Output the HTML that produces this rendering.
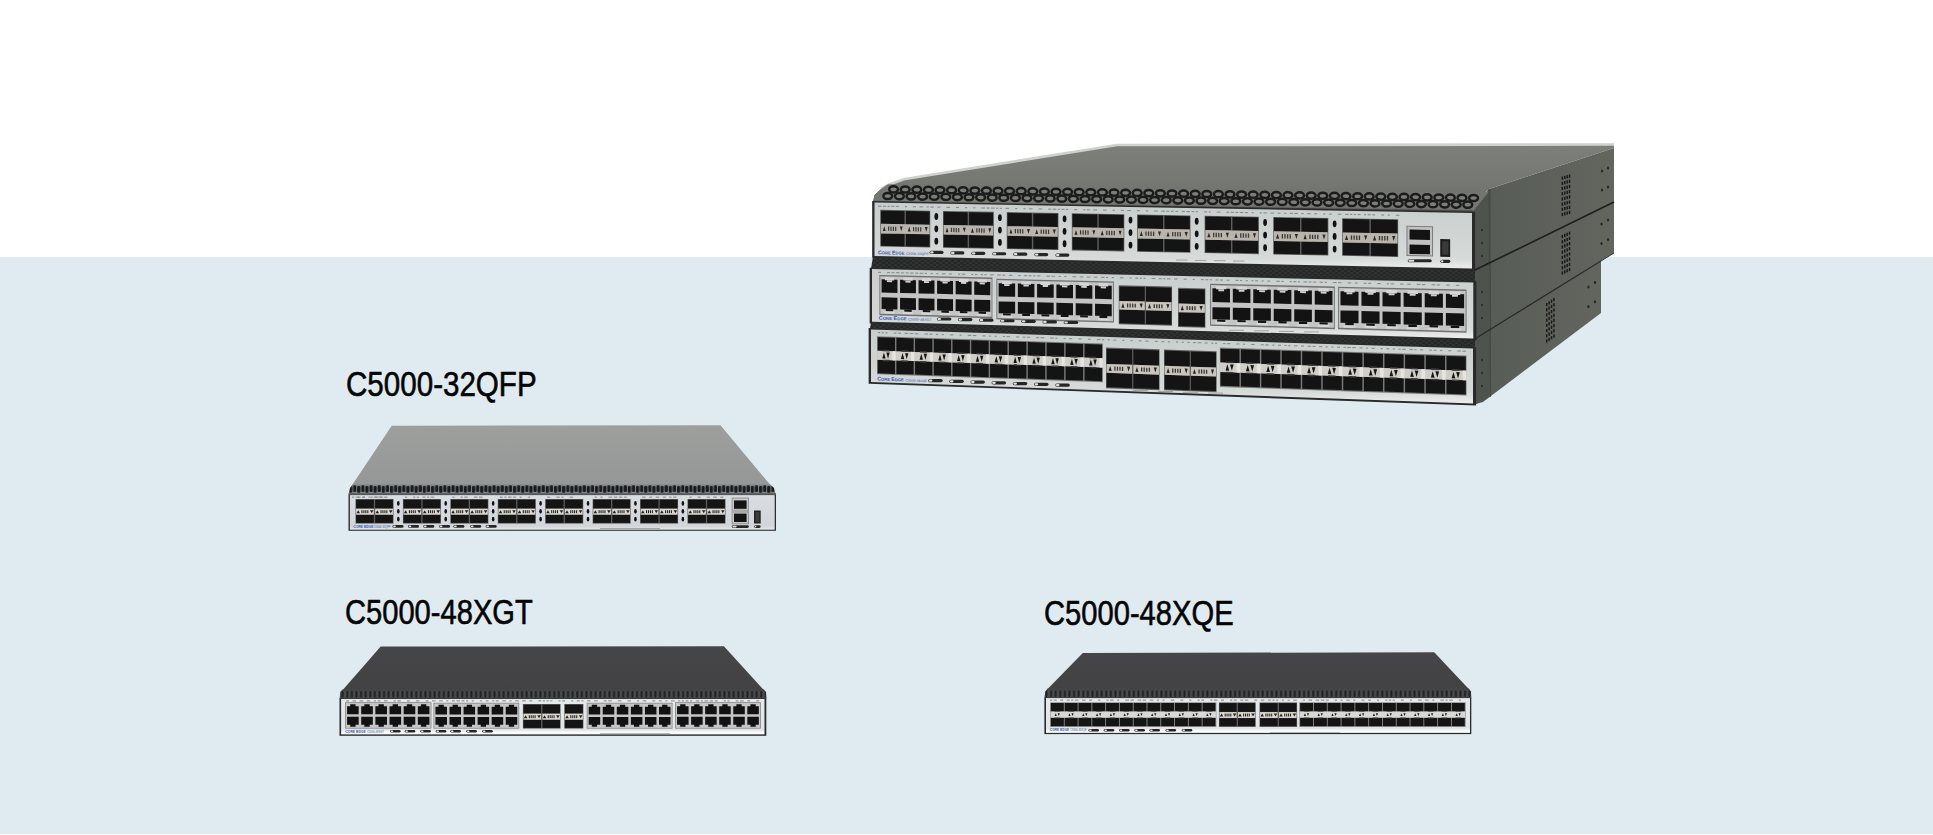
<!DOCTYPE html>
<html><head><meta charset="utf-8"><title>C5000 Series</title>
<style>
html,body{margin:0;padding:0;}
body{width:1933px;height:835px;overflow:hidden;position:relative;background:#ffffff;font-family:"Liberation Sans",sans-serif;}
.band{position:absolute;left:0;top:257px;width:1933px;height:577px;background:#e0ebf1;}
.lbl{position:absolute;color:#050505;font-size:34.5px;line-height:1;white-space:nowrap;transform-origin:0 0;-webkit-text-stroke:0.6px #050505;}
</style></head><body>
<div class="band"></div>
<svg width="1933" height="835" viewBox="0 0 1933 835" style="position:absolute;left:0;top:0"><defs>
<linearGradient id="gTopA" x1="0" y1="0" x2="0" y2="1"><stop offset="0" stop-color="#9d9f9d"/><stop offset="1" stop-color="#959897"/></linearGradient>
<linearGradient id="gTopB" x1="0" y1="0" x2="0" y2="1"><stop offset="0" stop-color="#464549"/><stop offset="1" stop-color="#424244"/></linearGradient>
<linearGradient id="gFront" x1="0" y1="0" x2="0" y2="1"><stop offset="0" stop-color="#d9dde1"/><stop offset="0.9" stop-color="#d2d6da"/><stop offset="1" stop-color="#e6e9ec"/></linearGradient>
<linearGradient id="gFrontW" x1="0" y1="0" x2="0" y2="1"><stop offset="0" stop-color="#e6e9ec"/><stop offset="0.88" stop-color="#e2e5e8"/><stop offset="0.94" stop-color="#fbfcfc"/><stop offset="1" stop-color="#f4f5f6"/></linearGradient>
<linearGradient id="gFrontS" x1="0" y1="0" x2="0" y2="1"><stop offset="0" stop-color="#c8cecd"/><stop offset="0.85" stop-color="#d6dad9"/><stop offset="1" stop-color="#eceeed"/></linearGradient>
<linearGradient id="gStackTop" x1="0" y1="0" x2="0" y2="1"><stop offset="0" stop-color="#7d7f7b"/><stop offset="0.6" stop-color="#767874"/><stop offset="1" stop-color="#6c6e6a"/></linearGradient>
<linearGradient id="gSide" x1="0" y1="0" x2="1" y2="0"><stop offset="0" stop-color="#575b55"/><stop offset="1" stop-color="#62665f"/></linearGradient>
<pattern id="pVentA" width="8.2" height="10" patternUnits="userSpaceOnUse" x="0" y="484"><rect width="8.2" height="10" fill="#7c8083"/><rect x="0.5" y="1.3" width="3.1" height="6.8" rx="1.4" fill="#181a1b"/><rect x="4.6" y="2.0" width="3.1" height="6.8" rx="1.4" fill="#181a1b"/></pattern>
<pattern id="pVentB" width="4.6" height="9.2" patternUnits="userSpaceOnUse" x="0" y="689.4"><rect width="4.6" height="9.2" fill="#3f4142"/><rect x="0.8" y="1.0" width="2.9" height="7.8" rx="1.45" fill="#1d1f20" stroke="#606264" stroke-width="0.6"/></pattern>
<pattern id="pVentC" width="4.6" height="9.2" patternUnits="userSpaceOnUse" x="0" y="688.8"><rect width="4.6" height="9.2" fill="#3f4142"/><rect x="0.8" y="1.0" width="2.9" height="7.8" rx="1.45" fill="#1d1f20" stroke="#606264" stroke-width="0.6"/></pattern>
<pattern id="pCarbon" width="6" height="4" patternUnits="userSpaceOnUse"><rect width="6" height="4" fill="#262727"/><rect x="0" y="0" width="3" height="2" fill="#303131"/><rect x="3" y="2" width="3" height="2" fill="#303131"/></pattern>
</defs><polygon points="391.7,425.8 720.5,425.3 770,484.6 352.5,484.6" fill="url(#gTopA)"/>
<polygon points="352.5,484.2 770,484.2 774,488 775.8,494.8 348.6,494.8 350,488" fill="url(#pVentA)"/>
<rect x="348.5" y="493.2" width="427.5" height="1.5" fill="#5c6063"/>
<rect x="348.5" y="494.6" width="427.5" height="36.2" fill="#2e2f2f"/>
<rect x="349.9" y="495.1" width="424.8" height="34.6" fill="url(#gFront)"/>
<rect x="355.5" y="499" width="38" height="24.6" fill="#5e5e5e"/>
<rect x="356.1" y="499.7" width="17.75" height="8.82" fill="#151515"/>
<rect x="356.1" y="514.82" width="17.75" height="8.08" fill="#151515"/>
<rect x="356.1" y="508.72" width="17.75" height="5.9" fill="#dcd8cf"/>
<polygon points="356.46,513.14 360,513.14 358.23,510.19" fill="#222"/>
<polygon points="369.95,510.19 373.49,510.19 371.72,513.14" fill="#222"/>
<rect x="361.43" y="510.19" width="1.06" height="2.95" fill="#222"/>
<rect x="363.38" y="510.19" width="1.06" height="2.95" fill="#222"/>
<rect x="365.33" y="510.19" width="1.06" height="2.95" fill="#222"/>
<rect x="367.28" y="510.19" width="1.06" height="2.95" fill="#222"/>
<rect x="375.15" y="499.7" width="17.75" height="8.82" fill="#151515"/>
<rect x="375.15" y="514.82" width="17.75" height="8.08" fill="#151515"/>
<rect x="375.15" y="508.72" width="17.75" height="5.9" fill="#dcd8cf"/>
<polygon points="375.51,513.14 379.05,513.14 377.28,510.19" fill="#222"/>
<polygon points="389,510.19 392.54,510.19 390.77,513.14" fill="#222"/>
<rect x="380.48" y="510.19" width="1.06" height="2.95" fill="#222"/>
<rect x="382.43" y="510.19" width="1.06" height="2.95" fill="#222"/>
<rect x="384.38" y="510.19" width="1.06" height="2.95" fill="#222"/>
<rect x="386.33" y="510.19" width="1.06" height="2.95" fill="#222"/>
<ellipse cx="398.3" cy="503.4" rx="1.3" ry="2.4" fill="#111"/>
<ellipse cx="398.3" cy="511.3" rx="1.3" ry="2.4" fill="#111"/>
<ellipse cx="398.3" cy="519.2" rx="1.3" ry="2.4" fill="#111"/>
<rect x="402.93" y="499" width="38" height="24.6" fill="#5e5e5e"/>
<rect x="403.53" y="499.7" width="17.75" height="8.82" fill="#151515"/>
<rect x="403.53" y="514.82" width="17.75" height="8.08" fill="#151515"/>
<rect x="403.53" y="508.72" width="17.75" height="5.9" fill="#dcd8cf"/>
<polygon points="403.89,513.14 407.43,513.14 405.66,510.19" fill="#222"/>
<polygon points="417.38,510.19 420.92,510.19 419.15,513.14" fill="#222"/>
<rect x="408.86" y="510.19" width="1.06" height="2.95" fill="#222"/>
<rect x="410.81" y="510.19" width="1.06" height="2.95" fill="#222"/>
<rect x="412.76" y="510.19" width="1.06" height="2.95" fill="#222"/>
<rect x="414.71" y="510.19" width="1.06" height="2.95" fill="#222"/>
<rect x="422.58" y="499.7" width="17.75" height="8.82" fill="#151515"/>
<rect x="422.58" y="514.82" width="17.75" height="8.08" fill="#151515"/>
<rect x="422.58" y="508.72" width="17.75" height="5.9" fill="#dcd8cf"/>
<polygon points="422.94,513.14 426.48,513.14 424.71,510.19" fill="#222"/>
<polygon points="436.43,510.19 439.97,510.19 438.2,513.14" fill="#222"/>
<rect x="427.91" y="510.19" width="1.06" height="2.95" fill="#222"/>
<rect x="429.86" y="510.19" width="1.06" height="2.95" fill="#222"/>
<rect x="431.81" y="510.19" width="1.06" height="2.95" fill="#222"/>
<rect x="433.76" y="510.19" width="1.06" height="2.95" fill="#222"/>
<ellipse cx="445.73" cy="503.4" rx="1.3" ry="2.4" fill="#111"/>
<ellipse cx="445.73" cy="511.3" rx="1.3" ry="2.4" fill="#111"/>
<ellipse cx="445.73" cy="519.2" rx="1.3" ry="2.4" fill="#111"/>
<rect x="450.36" y="499" width="38" height="24.6" fill="#5e5e5e"/>
<rect x="450.96" y="499.7" width="17.75" height="8.82" fill="#151515"/>
<rect x="450.96" y="514.82" width="17.75" height="8.08" fill="#151515"/>
<rect x="450.96" y="508.72" width="17.75" height="5.9" fill="#dcd8cf"/>
<polygon points="451.32,513.14 454.86,513.14 453.09,510.19" fill="#222"/>
<polygon points="464.81,510.19 468.35,510.19 466.58,513.14" fill="#222"/>
<rect x="456.29" y="510.19" width="1.06" height="2.95" fill="#222"/>
<rect x="458.24" y="510.19" width="1.06" height="2.95" fill="#222"/>
<rect x="460.19" y="510.19" width="1.06" height="2.95" fill="#222"/>
<rect x="462.14" y="510.19" width="1.06" height="2.95" fill="#222"/>
<rect x="470.01" y="499.7" width="17.75" height="8.82" fill="#151515"/>
<rect x="470.01" y="514.82" width="17.75" height="8.08" fill="#151515"/>
<rect x="470.01" y="508.72" width="17.75" height="5.9" fill="#dcd8cf"/>
<polygon points="470.37,513.14 473.91,513.14 472.14,510.19" fill="#222"/>
<polygon points="483.86,510.19 487.4,510.19 485.63,513.14" fill="#222"/>
<rect x="475.34" y="510.19" width="1.06" height="2.95" fill="#222"/>
<rect x="477.29" y="510.19" width="1.06" height="2.95" fill="#222"/>
<rect x="479.24" y="510.19" width="1.06" height="2.95" fill="#222"/>
<rect x="481.19" y="510.19" width="1.06" height="2.95" fill="#222"/>
<ellipse cx="493.16" cy="503.4" rx="1.3" ry="2.4" fill="#111"/>
<ellipse cx="493.16" cy="511.3" rx="1.3" ry="2.4" fill="#111"/>
<ellipse cx="493.16" cy="519.2" rx="1.3" ry="2.4" fill="#111"/>
<rect x="497.79" y="499" width="38" height="24.6" fill="#5e5e5e"/>
<rect x="498.39" y="499.7" width="17.75" height="8.82" fill="#151515"/>
<rect x="498.39" y="514.82" width="17.75" height="8.08" fill="#151515"/>
<rect x="498.39" y="508.72" width="17.75" height="5.9" fill="#dcd8cf"/>
<polygon points="498.75,513.14 502.29,513.14 500.52,510.19" fill="#222"/>
<polygon points="512.24,510.19 515.78,510.19 514.01,513.14" fill="#222"/>
<rect x="503.71" y="510.19" width="1.06" height="2.95" fill="#222"/>
<rect x="505.67" y="510.19" width="1.06" height="2.95" fill="#222"/>
<rect x="507.62" y="510.19" width="1.06" height="2.95" fill="#222"/>
<rect x="509.57" y="510.19" width="1.06" height="2.95" fill="#222"/>
<rect x="517.44" y="499.7" width="17.75" height="8.82" fill="#151515"/>
<rect x="517.44" y="514.82" width="17.75" height="8.08" fill="#151515"/>
<rect x="517.44" y="508.72" width="17.75" height="5.9" fill="#dcd8cf"/>
<polygon points="517.8,513.14 521.34,513.14 519.57,510.19" fill="#222"/>
<polygon points="531.29,510.19 534.83,510.19 533.06,513.14" fill="#222"/>
<rect x="522.76" y="510.19" width="1.06" height="2.95" fill="#222"/>
<rect x="524.72" y="510.19" width="1.06" height="2.95" fill="#222"/>
<rect x="526.67" y="510.19" width="1.06" height="2.95" fill="#222"/>
<rect x="528.62" y="510.19" width="1.06" height="2.95" fill="#222"/>
<ellipse cx="540.59" cy="503.4" rx="1.3" ry="2.4" fill="#111"/>
<ellipse cx="540.59" cy="511.3" rx="1.3" ry="2.4" fill="#111"/>
<ellipse cx="540.59" cy="519.2" rx="1.3" ry="2.4" fill="#111"/>
<rect x="545.22" y="499" width="38" height="24.6" fill="#5e5e5e"/>
<rect x="545.82" y="499.7" width="17.75" height="8.82" fill="#151515"/>
<rect x="545.82" y="514.82" width="17.75" height="8.08" fill="#151515"/>
<rect x="545.82" y="508.72" width="17.75" height="5.9" fill="#dcd8cf"/>
<polygon points="546.18,513.14 549.72,513.14 547.95,510.19" fill="#222"/>
<polygon points="559.67,510.19 563.21,510.19 561.44,513.14" fill="#222"/>
<rect x="551.15" y="510.19" width="1.06" height="2.95" fill="#222"/>
<rect x="553.1" y="510.19" width="1.06" height="2.95" fill="#222"/>
<rect x="555.05" y="510.19" width="1.06" height="2.95" fill="#222"/>
<rect x="557" y="510.19" width="1.06" height="2.95" fill="#222"/>
<rect x="564.87" y="499.7" width="17.75" height="8.82" fill="#151515"/>
<rect x="564.87" y="514.82" width="17.75" height="8.08" fill="#151515"/>
<rect x="564.87" y="508.72" width="17.75" height="5.9" fill="#dcd8cf"/>
<polygon points="565.23,513.14 568.77,513.14 567,510.19" fill="#222"/>
<polygon points="578.72,510.19 582.26,510.19 580.49,513.14" fill="#222"/>
<rect x="570.2" y="510.19" width="1.06" height="2.95" fill="#222"/>
<rect x="572.15" y="510.19" width="1.06" height="2.95" fill="#222"/>
<rect x="574.1" y="510.19" width="1.06" height="2.95" fill="#222"/>
<rect x="576.05" y="510.19" width="1.06" height="2.95" fill="#222"/>
<ellipse cx="588.02" cy="503.4" rx="1.3" ry="2.4" fill="#111"/>
<ellipse cx="588.02" cy="511.3" rx="1.3" ry="2.4" fill="#111"/>
<ellipse cx="588.02" cy="519.2" rx="1.3" ry="2.4" fill="#111"/>
<rect x="592.65" y="499" width="38" height="24.6" fill="#5e5e5e"/>
<rect x="593.25" y="499.7" width="17.75" height="8.82" fill="#151515"/>
<rect x="593.25" y="514.82" width="17.75" height="8.08" fill="#151515"/>
<rect x="593.25" y="508.72" width="17.75" height="5.9" fill="#dcd8cf"/>
<polygon points="593.61,513.14 597.15,513.14 595.38,510.19" fill="#222"/>
<polygon points="607.1,510.19 610.64,510.19 608.87,513.14" fill="#222"/>
<rect x="598.58" y="510.19" width="1.06" height="2.95" fill="#222"/>
<rect x="600.53" y="510.19" width="1.06" height="2.95" fill="#222"/>
<rect x="602.48" y="510.19" width="1.06" height="2.95" fill="#222"/>
<rect x="604.43" y="510.19" width="1.06" height="2.95" fill="#222"/>
<rect x="612.3" y="499.7" width="17.75" height="8.82" fill="#151515"/>
<rect x="612.3" y="514.82" width="17.75" height="8.08" fill="#151515"/>
<rect x="612.3" y="508.72" width="17.75" height="5.9" fill="#dcd8cf"/>
<polygon points="612.66,513.14 616.2,513.14 614.43,510.19" fill="#222"/>
<polygon points="626.15,510.19 629.69,510.19 627.92,513.14" fill="#222"/>
<rect x="617.62" y="510.19" width="1.06" height="2.95" fill="#222"/>
<rect x="619.58" y="510.19" width="1.06" height="2.95" fill="#222"/>
<rect x="621.53" y="510.19" width="1.06" height="2.95" fill="#222"/>
<rect x="623.48" y="510.19" width="1.06" height="2.95" fill="#222"/>
<ellipse cx="635.45" cy="503.4" rx="1.3" ry="2.4" fill="#111"/>
<ellipse cx="635.45" cy="511.3" rx="1.3" ry="2.4" fill="#111"/>
<ellipse cx="635.45" cy="519.2" rx="1.3" ry="2.4" fill="#111"/>
<rect x="640.08" y="499" width="38" height="24.6" fill="#5e5e5e"/>
<rect x="640.68" y="499.7" width="17.75" height="8.82" fill="#151515"/>
<rect x="640.68" y="514.82" width="17.75" height="8.08" fill="#151515"/>
<rect x="640.68" y="508.72" width="17.75" height="5.9" fill="#dcd8cf"/>
<polygon points="641.04,513.14 644.58,513.14 642.81,510.19" fill="#222"/>
<polygon points="654.53,510.19 658.07,510.19 656.3,513.14" fill="#222"/>
<rect x="646" y="510.19" width="1.06" height="2.95" fill="#222"/>
<rect x="647.96" y="510.19" width="1.06" height="2.95" fill="#222"/>
<rect x="649.91" y="510.19" width="1.06" height="2.95" fill="#222"/>
<rect x="651.86" y="510.19" width="1.06" height="2.95" fill="#222"/>
<rect x="659.73" y="499.7" width="17.75" height="8.82" fill="#151515"/>
<rect x="659.73" y="514.82" width="17.75" height="8.08" fill="#151515"/>
<rect x="659.73" y="508.72" width="17.75" height="5.9" fill="#dcd8cf"/>
<polygon points="660.09,513.14 663.63,513.14 661.86,510.19" fill="#222"/>
<polygon points="673.58,510.19 677.12,510.19 675.35,513.14" fill="#222"/>
<rect x="665.05" y="510.19" width="1.06" height="2.95" fill="#222"/>
<rect x="667.01" y="510.19" width="1.06" height="2.95" fill="#222"/>
<rect x="668.96" y="510.19" width="1.06" height="2.95" fill="#222"/>
<rect x="670.91" y="510.19" width="1.06" height="2.95" fill="#222"/>
<ellipse cx="682.88" cy="503.4" rx="1.3" ry="2.4" fill="#111"/>
<ellipse cx="682.88" cy="511.3" rx="1.3" ry="2.4" fill="#111"/>
<ellipse cx="682.88" cy="519.2" rx="1.3" ry="2.4" fill="#111"/>
<rect x="687.51" y="499" width="38" height="24.6" fill="#5e5e5e"/>
<rect x="688.11" y="499.7" width="17.75" height="8.82" fill="#151515"/>
<rect x="688.11" y="514.82" width="17.75" height="8.08" fill="#151515"/>
<rect x="688.11" y="508.72" width="17.75" height="5.9" fill="#dcd8cf"/>
<polygon points="688.47,513.14 692.01,513.14 690.24,510.19" fill="#222"/>
<polygon points="701.96,510.19 705.5,510.19 703.73,513.14" fill="#222"/>
<rect x="693.44" y="510.19" width="1.06" height="2.95" fill="#222"/>
<rect x="695.39" y="510.19" width="1.06" height="2.95" fill="#222"/>
<rect x="697.34" y="510.19" width="1.06" height="2.95" fill="#222"/>
<rect x="699.29" y="510.19" width="1.06" height="2.95" fill="#222"/>
<rect x="707.16" y="499.7" width="17.75" height="8.82" fill="#151515"/>
<rect x="707.16" y="514.82" width="17.75" height="8.08" fill="#151515"/>
<rect x="707.16" y="508.72" width="17.75" height="5.9" fill="#dcd8cf"/>
<polygon points="707.52,513.14 711.06,513.14 709.29,510.19" fill="#222"/>
<polygon points="721.01,510.19 724.55,510.19 722.78,513.14" fill="#222"/>
<rect x="712.49" y="510.19" width="1.06" height="2.95" fill="#222"/>
<rect x="714.44" y="510.19" width="1.06" height="2.95" fill="#222"/>
<rect x="716.39" y="510.19" width="1.06" height="2.95" fill="#222"/>
<rect x="718.34" y="510.19" width="1.06" height="2.95" fill="#222"/>
<rect x="731.7" y="497.6" width="17.2" height="26.6" fill="#7e7e7e"/>
<rect x="732.4" y="498.3" width="15.8" height="25.2" fill="#c8c8c8"/>
<rect x="734" y="500.4" width="12.6" height="8.4" fill="#141414"/>
<rect x="734" y="513.6" width="12.6" height="8.4" fill="#141414"/>
<rect x="732.4" y="509.6" width="15.8" height="3.2" fill="#a8a8a8"/>
<rect x="754" y="510.5" width="6.7" height="13" fill="#222"/>
<rect x="755.4" y="512" width="3.9" height="10" fill="#3c3c3c"/>
<rect x="731.8" y="525.3" width="17" height="2.6" fill="#262626" rx="1.3"/>
<rect x="732.4" y="525.8" width="4.25" height="1.6" fill="#dddddd" rx="0.8"/>
<rect x="754.15" y="525.3" width="6.5" height="2.6" fill="#262626" rx="1.3"/>
<rect x="754.75" y="525.8" width="1.62" height="1.6" fill="#dddddd" rx="0.8"/>
<text x="353.3" y="527.8" font-size="4.2" fill="#3558b8" font-family="Liberation Sans" font-weight="bold" textLength="20.0" lengthAdjust="spacingAndGlyphs">C<tspan font-size="3.28">ORE</tspan> E<tspan font-size="3.28">DGE</tspan></text>
<text x="374" y="527.8" font-size="2.60" fill="#3558b8" font-family="Liberation Sans" textLength="16.5" lengthAdjust="spacingAndGlyphs">C5000-32QFP</text>
<rect x="392.5" y="525.1" width="11" height="2.6" fill="#262626" rx="1.3"/>
<rect x="393.1" y="525.6" width="2.75" height="1.6" fill="#dddddd" rx="0.8"/>
<rect x="408" y="525.1" width="11" height="2.6" fill="#262626" rx="1.3"/>
<rect x="408.6" y="525.6" width="2.75" height="1.6" fill="#dddddd" rx="0.8"/>
<rect x="423.3" y="525.1" width="11" height="2.6" fill="#262626" rx="1.3"/>
<rect x="423.9" y="525.6" width="2.75" height="1.6" fill="#dddddd" rx="0.8"/>
<rect x="439.1" y="525.1" width="11" height="2.6" fill="#262626" rx="1.3"/>
<rect x="439.7" y="525.6" width="2.75" height="1.6" fill="#dddddd" rx="0.8"/>
<rect x="453.4" y="525.1" width="11" height="2.6" fill="#262626" rx="1.3"/>
<rect x="454" y="525.6" width="2.75" height="1.6" fill="#dddddd" rx="0.8"/>
<rect x="470.2" y="525.1" width="11" height="2.6" fill="#262626" rx="1.3"/>
<rect x="470.8" y="525.6" width="2.75" height="1.6" fill="#dddddd" rx="0.8"/>
<rect x="485.7" y="525.1" width="11" height="2.6" fill="#262626" rx="1.3"/>
<rect x="486.3" y="525.6" width="2.75" height="1.6" fill="#dddddd" rx="0.8"/>
<polygon points="380.7,646.6 723.9,646.3 764,690.3 342.5,690.3" fill="url(#gTopB)"/>
<polygon points="342.5,689.6 764,689.6 766,692 766.5,698.8 339.6,698.8 340.2,692" fill="url(#pVentB)"/>
<rect x="339.5" y="698.2" width="426.8" height="37.6" fill="#2a2a2a"/>
<rect x="341.1" y="699" width="423.4" height="35.4" fill="url(#gFrontW)"/>
<rect x="345.1" y="702.2" width="86.3" height="26.4" fill="#7c7c7c"/>
<rect x="345.8" y="702.9" width="84.9" height="25" fill="#c6c6c6"/>
<polygon points="347.07,706.15 350.21,706.15 350.21,704.15 355.54,704.15 355.54,706.15 358.68,706.15 358.68,714.15 347.07,714.15" fill="#121212"/>
<polygon points="361.22,706.15 364.36,706.15 364.36,704.15 369.69,704.15 369.69,706.15 372.83,706.15 372.83,714.15 361.22,714.15" fill="#121212"/>
<polygon points="375.37,706.15 378.51,706.15 378.51,704.15 383.84,704.15 383.84,706.15 386.98,706.15 386.98,714.15 375.37,714.15" fill="#121212"/>
<polygon points="389.52,706.15 392.66,706.15 392.66,704.15 397.99,704.15 397.99,706.15 401.13,706.15 401.13,714.15 389.52,714.15" fill="#121212"/>
<polygon points="403.67,706.15 406.81,706.15 406.81,704.15 412.14,704.15 412.14,706.15 415.28,706.15 415.28,714.15 403.67,714.15" fill="#121212"/>
<polygon points="417.82,706.15 420.96,706.15 420.96,704.15 426.29,704.15 426.29,706.15 429.43,706.15 429.43,714.15 417.82,714.15" fill="#121212"/>
<polygon points="347.07,716.65 358.68,716.65 358.68,724.65 355.54,724.65 355.54,726.65 350.21,726.65 350.21,724.65 347.07,724.65" fill="#121212"/>
<polygon points="361.22,716.65 372.83,716.65 372.83,724.65 369.69,724.65 369.69,726.65 364.36,726.65 364.36,724.65 361.22,724.65" fill="#121212"/>
<polygon points="375.37,716.65 386.98,716.65 386.98,724.65 383.84,724.65 383.84,726.65 378.51,726.65 378.51,724.65 375.37,724.65" fill="#121212"/>
<polygon points="389.52,716.65 401.13,716.65 401.13,724.65 397.99,724.65 397.99,726.65 392.66,726.65 392.66,724.65 389.52,724.65" fill="#121212"/>
<polygon points="403.67,716.65 415.28,716.65 415.28,724.65 412.14,724.65 412.14,726.65 406.81,726.65 406.81,724.65 403.67,724.65" fill="#121212"/>
<polygon points="417.82,716.65 429.43,716.65 429.43,724.65 426.29,724.65 426.29,726.65 420.96,726.65 420.96,724.65 417.82,724.65" fill="#121212"/>
<rect x="433.5" y="702.8" width="85.7" height="25.8" fill="#7c7c7c"/>
<rect x="434.2" y="703.5" width="84.3" height="24.4" fill="#c6c6c6"/>
<polygon points="435.46,706.67 438.58,706.67 438.58,704.72 443.87,704.72 443.87,706.67 446.99,706.67 446.99,714.48 435.46,714.48" fill="#121212"/>
<polygon points="449.51,706.67 452.63,706.67 452.63,704.72 457.92,704.72 457.92,706.67 461.04,706.67 461.04,714.48 449.51,714.48" fill="#121212"/>
<polygon points="463.56,706.67 466.68,706.67 466.68,704.72 471.97,704.72 471.97,706.67 475.09,706.67 475.09,714.48 463.56,714.48" fill="#121212"/>
<polygon points="477.61,706.67 480.73,706.67 480.73,704.72 486.02,704.72 486.02,706.67 489.14,706.67 489.14,714.48 477.61,714.48" fill="#121212"/>
<polygon points="491.66,706.67 494.78,706.67 494.78,704.72 500.07,704.72 500.07,706.67 503.19,706.67 503.19,714.48 491.66,714.48" fill="#121212"/>
<polygon points="505.71,706.67 508.83,706.67 508.83,704.72 514.12,704.72 514.12,706.67 517.24,706.67 517.24,714.48 505.71,714.48" fill="#121212"/>
<polygon points="435.46,716.92 446.99,716.92 446.99,724.73 443.87,724.73 443.87,726.68 438.58,726.68 438.58,724.73 435.46,724.73" fill="#121212"/>
<polygon points="449.51,716.92 461.04,716.92 461.04,724.73 457.92,724.73 457.92,726.68 452.63,726.68 452.63,724.73 449.51,724.73" fill="#121212"/>
<polygon points="463.56,716.92 475.09,716.92 475.09,724.73 471.97,724.73 471.97,726.68 466.68,726.68 466.68,724.73 463.56,724.73" fill="#121212"/>
<polygon points="477.61,716.92 489.14,716.92 489.14,724.73 486.02,724.73 486.02,726.68 480.73,726.68 480.73,724.73 477.61,724.73" fill="#121212"/>
<polygon points="491.66,716.92 503.19,716.92 503.19,724.73 500.07,724.73 500.07,726.68 494.78,726.68 494.78,724.73 491.66,724.73" fill="#121212"/>
<polygon points="505.71,716.92 517.24,716.92 517.24,724.73 514.12,724.73 514.12,726.68 508.83,726.68 508.83,724.73 505.71,724.73" fill="#121212"/>
<rect x="522.9" y="704" width="37.7" height="24.6" fill="#5e5e5e"/>
<rect x="523.5" y="704.7" width="17.6" height="8.82" fill="#151515"/>
<rect x="523.5" y="719.82" width="17.6" height="8.08" fill="#151515"/>
<rect x="523.5" y="713.72" width="17.6" height="5.9" fill="#dcd8cf"/>
<polygon points="523.84,718.14 527.38,718.14 525.61,715.19" fill="#222"/>
<polygon points="537.22,715.19 540.76,715.19 538.99,718.14" fill="#222"/>
<rect x="528.78" y="715.19" width="1.06" height="2.95" fill="#222"/>
<rect x="530.72" y="715.19" width="1.06" height="2.95" fill="#222"/>
<rect x="532.65" y="715.19" width="1.06" height="2.95" fill="#222"/>
<rect x="534.59" y="715.19" width="1.06" height="2.95" fill="#222"/>
<rect x="542.4" y="704.7" width="17.6" height="8.82" fill="#151515"/>
<rect x="542.4" y="719.82" width="17.6" height="8.08" fill="#151515"/>
<rect x="542.4" y="713.72" width="17.6" height="5.9" fill="#dcd8cf"/>
<polygon points="542.74,718.14 546.28,718.14 544.51,715.19" fill="#222"/>
<polygon points="556.12,715.19 559.66,715.19 557.89,718.14" fill="#222"/>
<rect x="547.68" y="715.19" width="1.06" height="2.95" fill="#222"/>
<rect x="549.62" y="715.19" width="1.06" height="2.95" fill="#222"/>
<rect x="551.55" y="715.19" width="1.06" height="2.95" fill="#222"/>
<rect x="553.49" y="715.19" width="1.06" height="2.95" fill="#222"/>
<rect x="564.3" y="704" width="19.1" height="24.6" fill="#5e5e5e"/>
<rect x="564.9" y="704.7" width="17.9" height="8.82" fill="#151515"/>
<rect x="564.9" y="719.82" width="17.9" height="8.08" fill="#151515"/>
<rect x="564.9" y="713.72" width="17.9" height="5.9" fill="#dcd8cf"/>
<polygon points="565.28,718.14 568.82,718.14 567.05,715.19" fill="#222"/>
<polygon points="578.88,715.19 582.42,715.19 580.65,718.14" fill="#222"/>
<rect x="570.27" y="715.19" width="1.07" height="2.95" fill="#222"/>
<rect x="572.24" y="715.19" width="1.07" height="2.95" fill="#222"/>
<rect x="574.21" y="715.19" width="1.07" height="2.95" fill="#222"/>
<rect x="576.18" y="715.19" width="1.07" height="2.95" fill="#222"/>
<rect x="586.7" y="702.8" width="85.8" height="25.8" fill="#7c7c7c"/>
<rect x="587.4" y="703.5" width="84.4" height="24.4" fill="#c6c6c6"/>
<polygon points="588.67,706.67 591.78,706.67 591.78,704.72 597.09,704.72 597.09,706.67 600.2,706.67 600.2,714.48 588.67,714.48" fill="#121212"/>
<polygon points="602.73,706.67 605.85,706.67 605.85,704.72 611.15,704.72 611.15,706.67 614.27,706.67 614.27,714.48 602.73,714.48" fill="#121212"/>
<polygon points="616.8,706.67 619.91,706.67 619.91,704.72 625.22,704.72 625.22,706.67 628.33,706.67 628.33,714.48 616.8,714.48" fill="#121212"/>
<polygon points="630.87,706.67 633.98,706.67 633.98,704.72 639.29,704.72 639.29,706.67 642.4,706.67 642.4,714.48 630.87,714.48" fill="#121212"/>
<polygon points="644.93,706.67 648.05,706.67 648.05,704.72 653.35,704.72 653.35,706.67 656.47,706.67 656.47,714.48 644.93,714.48" fill="#121212"/>
<polygon points="659,706.67 662.11,706.67 662.11,704.72 667.42,704.72 667.42,706.67 670.53,706.67 670.53,714.48 659,714.48" fill="#121212"/>
<polygon points="588.67,716.92 600.2,716.92 600.2,724.73 597.09,724.73 597.09,726.68 591.78,726.68 591.78,724.73 588.67,724.73" fill="#121212"/>
<polygon points="602.73,716.92 614.27,716.92 614.27,724.73 611.15,724.73 611.15,726.68 605.85,726.68 605.85,724.73 602.73,724.73" fill="#121212"/>
<polygon points="616.8,716.92 628.33,716.92 628.33,724.73 625.22,724.73 625.22,726.68 619.91,726.68 619.91,724.73 616.8,724.73" fill="#121212"/>
<polygon points="630.87,716.92 642.4,716.92 642.4,724.73 639.29,724.73 639.29,726.68 633.98,726.68 633.98,724.73 630.87,724.73" fill="#121212"/>
<polygon points="644.93,716.92 656.47,716.92 656.47,724.73 653.35,724.73 653.35,726.68 648.05,726.68 648.05,724.73 644.93,724.73" fill="#121212"/>
<polygon points="659,716.92 670.53,716.92 670.53,724.73 667.42,724.73 667.42,726.68 662.11,726.68 662.11,724.73 659,724.73" fill="#121212"/>
<rect x="675.1" y="702.2" width="85.7" height="26.4" fill="#7c7c7c"/>
<rect x="675.8" y="702.9" width="84.3" height="25" fill="#c6c6c6"/>
<polygon points="677.06,706.15 680.18,706.15 680.18,704.15 685.47,704.15 685.47,706.15 688.59,706.15 688.59,714.15 677.06,714.15" fill="#121212"/>
<polygon points="691.11,706.15 694.23,706.15 694.23,704.15 699.52,704.15 699.52,706.15 702.64,706.15 702.64,714.15 691.11,714.15" fill="#121212"/>
<polygon points="705.16,706.15 708.28,706.15 708.28,704.15 713.57,704.15 713.57,706.15 716.69,706.15 716.69,714.15 705.16,714.15" fill="#121212"/>
<polygon points="719.21,706.15 722.33,706.15 722.33,704.15 727.62,704.15 727.62,706.15 730.74,706.15 730.74,714.15 719.21,714.15" fill="#121212"/>
<polygon points="733.26,706.15 736.38,706.15 736.38,704.15 741.67,704.15 741.67,706.15 744.79,706.15 744.79,714.15 733.26,714.15" fill="#121212"/>
<polygon points="747.31,706.15 750.43,706.15 750.43,704.15 755.72,704.15 755.72,706.15 758.84,706.15 758.84,714.15 747.31,714.15" fill="#121212"/>
<polygon points="677.06,716.65 688.59,716.65 688.59,724.65 685.47,724.65 685.47,726.65 680.18,726.65 680.18,724.65 677.06,724.65" fill="#121212"/>
<polygon points="691.11,716.65 702.64,716.65 702.64,724.65 699.52,724.65 699.52,726.65 694.23,726.65 694.23,724.65 691.11,724.65" fill="#121212"/>
<polygon points="705.16,716.65 716.69,716.65 716.69,724.65 713.57,724.65 713.57,726.65 708.28,726.65 708.28,724.65 705.16,724.65" fill="#121212"/>
<polygon points="719.21,716.65 730.74,716.65 730.74,724.65 727.62,724.65 727.62,726.65 722.33,726.65 722.33,724.65 719.21,724.65" fill="#121212"/>
<polygon points="733.26,716.65 744.79,716.65 744.79,724.65 741.67,724.65 741.67,726.65 736.38,726.65 736.38,724.65 733.26,724.65" fill="#121212"/>
<polygon points="747.31,716.65 758.84,716.65 758.84,724.65 755.72,724.65 755.72,726.65 750.43,726.65 750.43,724.65 747.31,724.65" fill="#121212"/>
<text x="345.2" y="732.8" font-size="4.2" fill="#3558b8" font-family="Liberation Sans" font-weight="bold" textLength="20.4" lengthAdjust="spacingAndGlyphs">C<tspan font-size="3.28">ORE</tspan> E<tspan font-size="3.28">DGE</tspan></text>
<text x="366.9" y="732.8" font-size="2.60" fill="#3558b8" font-family="Liberation Sans" textLength="17.1" lengthAdjust="spacingAndGlyphs">C5000-48XGT</text>
<rect x="390.05" y="730" width="10.5" height="2.4" fill="#262626" rx="1.2"/>
<rect x="390.65" y="730.5" width="2.62" height="1.4" fill="#dddddd" rx="0.7"/>
<rect x="404.75" y="730" width="10.5" height="2.4" fill="#262626" rx="1.2"/>
<rect x="405.35" y="730.5" width="2.62" height="1.4" fill="#dddddd" rx="0.7"/>
<rect x="420.35" y="730" width="10.5" height="2.4" fill="#262626" rx="1.2"/>
<rect x="420.95" y="730.5" width="2.62" height="1.4" fill="#dddddd" rx="0.7"/>
<rect x="435.75" y="730" width="10.5" height="2.4" fill="#262626" rx="1.2"/>
<rect x="436.35" y="730.5" width="2.62" height="1.4" fill="#dddddd" rx="0.7"/>
<rect x="450.35" y="730" width="10.5" height="2.4" fill="#262626" rx="1.2"/>
<rect x="450.95" y="730.5" width="2.62" height="1.4" fill="#dddddd" rx="0.7"/>
<rect x="466.35" y="730" width="10.5" height="2.4" fill="#262626" rx="1.2"/>
<rect x="466.95" y="730.5" width="2.62" height="1.4" fill="#dddddd" rx="0.7"/>
<rect x="482.25" y="730" width="10.5" height="2.4" fill="#262626" rx="1.2"/>
<rect x="482.85" y="730.5" width="2.62" height="1.4" fill="#dddddd" rx="0.7"/>
<polygon points="1082.8,653 1434.2,652.3 1468.8,689 1047.6,689" fill="url(#gTopB)"/>
<polygon points="1047.6,688.6 1468.8,688.6 1471,691.5 1471.3,697.8 1044.4,697.8 1045.3,691.5" fill="url(#pVentC)"/>
<rect x="1044.4" y="697.3" width="426.9" height="36.8" fill="#2a2a2a"/>
<rect x="1046" y="698.1" width="424" height="34.8" fill="url(#gFrontW)"/>
<rect x="1050" y="702.3" width="166.4" height="24.6" fill="#8a8a8a"/>
<rect x="1050.95" y="703" width="12.88" height="8.53" fill="#151515"/>
<rect x="1050.95" y="717.67" width="12.88" height="8.52" fill="#151515"/>
<rect x="1064.73" y="703" width="12.88" height="8.53" fill="#151515"/>
<rect x="1064.73" y="717.67" width="12.88" height="8.52" fill="#151515"/>
<rect x="1078.52" y="703" width="12.88" height="8.53" fill="#151515"/>
<rect x="1078.52" y="717.67" width="12.88" height="8.52" fill="#151515"/>
<rect x="1092.3" y="703" width="12.88" height="8.53" fill="#151515"/>
<rect x="1092.3" y="717.67" width="12.88" height="8.52" fill="#151515"/>
<rect x="1106.08" y="703" width="12.88" height="8.53" fill="#151515"/>
<rect x="1106.08" y="717.67" width="12.88" height="8.52" fill="#151515"/>
<rect x="1119.87" y="703" width="12.88" height="8.53" fill="#151515"/>
<rect x="1119.87" y="717.67" width="12.88" height="8.52" fill="#151515"/>
<rect x="1133.65" y="703" width="12.88" height="8.53" fill="#151515"/>
<rect x="1133.65" y="717.67" width="12.88" height="8.52" fill="#151515"/>
<rect x="1147.43" y="703" width="12.88" height="8.53" fill="#151515"/>
<rect x="1147.43" y="717.67" width="12.88" height="8.52" fill="#151515"/>
<rect x="1161.22" y="703" width="12.88" height="8.53" fill="#151515"/>
<rect x="1161.22" y="717.67" width="12.88" height="8.52" fill="#151515"/>
<rect x="1175" y="703" width="12.88" height="8.53" fill="#151515"/>
<rect x="1175" y="717.67" width="12.88" height="8.52" fill="#151515"/>
<rect x="1188.78" y="703" width="12.88" height="8.53" fill="#151515"/>
<rect x="1188.78" y="717.67" width="12.88" height="8.52" fill="#151515"/>
<rect x="1202.57" y="703" width="12.88" height="8.53" fill="#151515"/>
<rect x="1202.57" y="717.67" width="12.88" height="8.52" fill="#151515"/>
<rect x="1050.5" y="711.52" width="165.4" height="6.15" fill="#d8d8d4"/>
<polygon points="1054.63,715.98 1056.84,715.98 1055.74,713.22" fill="#1a1a1a"/>
<polygon points="1057.67,713.22 1059.87,713.22 1058.77,715.98" fill="#1a1a1a"/>
<rect x="1054.63" y="710.92" width="5.51" height="0.9" fill="#555"/>
<rect x="1054.63" y="717.38" width="5.51" height="0.9" fill="#555"/>
<polygon points="1068.42,715.98 1070.62,715.98 1069.52,713.22" fill="#1a1a1a"/>
<polygon points="1071.45,713.22 1073.66,713.22 1072.55,715.98" fill="#1a1a1a"/>
<rect x="1068.42" y="710.92" width="5.51" height="0.9" fill="#555"/>
<rect x="1068.42" y="717.38" width="5.51" height="0.9" fill="#555"/>
<polygon points="1082.2,715.98 1084.41,715.98 1083.3,713.22" fill="#1a1a1a"/>
<polygon points="1085.23,713.22 1087.44,713.22 1086.34,715.98" fill="#1a1a1a"/>
<rect x="1082.2" y="710.92" width="5.51" height="0.9" fill="#555"/>
<rect x="1082.2" y="717.38" width="5.51" height="0.9" fill="#555"/>
<polygon points="1095.98,715.98 1098.19,715.98 1097.09,713.22" fill="#1a1a1a"/>
<polygon points="1099.02,713.22 1101.22,713.22 1100.12,715.98" fill="#1a1a1a"/>
<rect x="1095.98" y="710.92" width="5.51" height="0.9" fill="#555"/>
<rect x="1095.98" y="717.38" width="5.51" height="0.9" fill="#555"/>
<polygon points="1109.77,715.98 1111.97,715.98 1110.87,713.22" fill="#1a1a1a"/>
<polygon points="1112.8,713.22 1115.01,713.22 1113.9,715.98" fill="#1a1a1a"/>
<rect x="1109.77" y="710.92" width="5.51" height="0.9" fill="#555"/>
<rect x="1109.77" y="717.38" width="5.51" height="0.9" fill="#555"/>
<polygon points="1123.55,715.98 1125.76,715.98 1124.65,713.22" fill="#1a1a1a"/>
<polygon points="1126.58,713.22 1128.79,713.22 1127.69,715.98" fill="#1a1a1a"/>
<rect x="1123.55" y="710.92" width="5.51" height="0.9" fill="#555"/>
<rect x="1123.55" y="717.38" width="5.51" height="0.9" fill="#555"/>
<polygon points="1137.34,715.98 1139.54,715.98 1138.44,713.22" fill="#1a1a1a"/>
<polygon points="1140.37,713.22 1142.57,713.22 1141.47,715.98" fill="#1a1a1a"/>
<rect x="1137.34" y="710.92" width="5.51" height="0.9" fill="#555"/>
<rect x="1137.34" y="717.38" width="5.51" height="0.9" fill="#555"/>
<polygon points="1151.12,715.98 1153.32,715.98 1152.22,713.22" fill="#1a1a1a"/>
<polygon points="1154.15,713.22 1156.36,713.22 1155.25,715.98" fill="#1a1a1a"/>
<rect x="1151.12" y="710.92" width="5.51" height="0.9" fill="#555"/>
<rect x="1151.12" y="717.38" width="5.51" height="0.9" fill="#555"/>
<polygon points="1164.9,715.98 1167.11,715.98 1166,713.22" fill="#1a1a1a"/>
<polygon points="1167.93,713.22 1170.14,713.22 1169.04,715.98" fill="#1a1a1a"/>
<rect x="1164.9" y="710.92" width="5.51" height="0.9" fill="#555"/>
<rect x="1164.9" y="717.38" width="5.51" height="0.9" fill="#555"/>
<polygon points="1178.68,715.98 1180.89,715.98 1179.79,713.22" fill="#1a1a1a"/>
<polygon points="1181.72,713.22 1183.92,713.22 1182.82,715.98" fill="#1a1a1a"/>
<rect x="1178.68" y="710.92" width="5.51" height="0.9" fill="#555"/>
<rect x="1178.68" y="717.38" width="5.51" height="0.9" fill="#555"/>
<polygon points="1192.47,715.98 1194.67,715.98 1193.57,713.22" fill="#1a1a1a"/>
<polygon points="1195.5,713.22 1197.71,713.22 1196.6,715.98" fill="#1a1a1a"/>
<rect x="1192.47" y="710.92" width="5.51" height="0.9" fill="#555"/>
<rect x="1192.47" y="717.38" width="5.51" height="0.9" fill="#555"/>
<polygon points="1206.25,715.98 1208.46,715.98 1207.35,713.22" fill="#1a1a1a"/>
<polygon points="1209.28,713.22 1211.49,713.22 1210.39,715.98" fill="#1a1a1a"/>
<rect x="1206.25" y="710.92" width="5.51" height="0.9" fill="#555"/>
<rect x="1206.25" y="717.38" width="5.51" height="0.9" fill="#555"/>
<rect x="1218.9" y="702.4" width="36.8" height="24.5" fill="#5e5e5e"/>
<rect x="1219.5" y="703.1" width="17.15" height="8.78" fill="#151515"/>
<rect x="1219.5" y="718.16" width="17.15" height="8.04" fill="#151515"/>
<rect x="1219.5" y="712.08" width="17.15" height="5.88" fill="#dcd8cf"/>
<polygon points="1219.79,716.49 1223.32,716.49 1221.56,713.55" fill="#222"/>
<polygon points="1232.83,713.55 1236.36,713.55 1234.59,716.49" fill="#222"/>
<rect x="1224.64" y="713.55" width="1.03" height="2.94" fill="#222"/>
<rect x="1226.53" y="713.55" width="1.03" height="2.94" fill="#222"/>
<rect x="1228.42" y="713.55" width="1.03" height="2.94" fill="#222"/>
<rect x="1230.3" y="713.55" width="1.03" height="2.94" fill="#222"/>
<rect x="1237.95" y="703.1" width="17.15" height="8.78" fill="#151515"/>
<rect x="1237.95" y="718.16" width="17.15" height="8.04" fill="#151515"/>
<rect x="1237.95" y="712.08" width="17.15" height="5.88" fill="#dcd8cf"/>
<polygon points="1238.24,716.49 1241.77,716.49 1240.01,713.55" fill="#222"/>
<polygon points="1251.28,713.55 1254.81,713.55 1253.04,716.49" fill="#222"/>
<rect x="1243.1" y="713.55" width="1.03" height="2.94" fill="#222"/>
<rect x="1244.98" y="713.55" width="1.03" height="2.94" fill="#222"/>
<rect x="1246.87" y="713.55" width="1.03" height="2.94" fill="#222"/>
<rect x="1248.75" y="713.55" width="1.03" height="2.94" fill="#222"/>
<rect x="1259.5" y="702.4" width="37.6" height="24.5" fill="#5e5e5e"/>
<rect x="1260.1" y="703.1" width="17.55" height="8.78" fill="#151515"/>
<rect x="1260.1" y="718.16" width="17.55" height="8.04" fill="#151515"/>
<rect x="1260.1" y="712.08" width="17.55" height="5.88" fill="#dcd8cf"/>
<polygon points="1260.44,716.49 1263.97,716.49 1262.21,713.55" fill="#222"/>
<polygon points="1273.78,713.55 1277.31,713.55 1275.54,716.49" fill="#222"/>
<rect x="1265.36" y="713.55" width="1.05" height="2.94" fill="#222"/>
<rect x="1267.3" y="713.55" width="1.05" height="2.94" fill="#222"/>
<rect x="1269.23" y="713.55" width="1.05" height="2.94" fill="#222"/>
<rect x="1271.16" y="713.55" width="1.05" height="2.94" fill="#222"/>
<rect x="1278.95" y="703.1" width="17.55" height="8.78" fill="#151515"/>
<rect x="1278.95" y="718.16" width="17.55" height="8.04" fill="#151515"/>
<rect x="1278.95" y="712.08" width="17.55" height="5.88" fill="#dcd8cf"/>
<polygon points="1279.29,716.49 1282.82,716.49 1281.06,713.55" fill="#222"/>
<polygon points="1292.63,713.55 1296.16,713.55 1294.39,716.49" fill="#222"/>
<rect x="1284.21" y="713.55" width="1.05" height="2.94" fill="#222"/>
<rect x="1286.15" y="713.55" width="1.05" height="2.94" fill="#222"/>
<rect x="1288.08" y="713.55" width="1.05" height="2.94" fill="#222"/>
<rect x="1290.01" y="713.55" width="1.05" height="2.94" fill="#222"/>
<rect x="1299.2" y="702.3" width="166.5" height="24.6" fill="#8a8a8a"/>
<rect x="1300.15" y="703" width="12.89" height="8.53" fill="#151515"/>
<rect x="1300.15" y="717.67" width="12.89" height="8.52" fill="#151515"/>
<rect x="1313.94" y="703" width="12.89" height="8.53" fill="#151515"/>
<rect x="1313.94" y="717.67" width="12.89" height="8.52" fill="#151515"/>
<rect x="1327.73" y="703" width="12.89" height="8.53" fill="#151515"/>
<rect x="1327.73" y="717.67" width="12.89" height="8.52" fill="#151515"/>
<rect x="1341.53" y="703" width="12.89" height="8.53" fill="#151515"/>
<rect x="1341.53" y="717.67" width="12.89" height="8.52" fill="#151515"/>
<rect x="1355.32" y="703" width="12.89" height="8.53" fill="#151515"/>
<rect x="1355.32" y="717.67" width="12.89" height="8.52" fill="#151515"/>
<rect x="1369.11" y="703" width="12.89" height="8.53" fill="#151515"/>
<rect x="1369.11" y="717.67" width="12.89" height="8.52" fill="#151515"/>
<rect x="1382.9" y="703" width="12.89" height="8.53" fill="#151515"/>
<rect x="1382.9" y="717.67" width="12.89" height="8.52" fill="#151515"/>
<rect x="1396.69" y="703" width="12.89" height="8.53" fill="#151515"/>
<rect x="1396.69" y="717.67" width="12.89" height="8.52" fill="#151515"/>
<rect x="1410.48" y="703" width="12.89" height="8.53" fill="#151515"/>
<rect x="1410.48" y="717.67" width="12.89" height="8.52" fill="#151515"/>
<rect x="1424.28" y="703" width="12.89" height="8.53" fill="#151515"/>
<rect x="1424.28" y="717.67" width="12.89" height="8.52" fill="#151515"/>
<rect x="1438.07" y="703" width="12.89" height="8.53" fill="#151515"/>
<rect x="1438.07" y="717.67" width="12.89" height="8.52" fill="#151515"/>
<rect x="1451.86" y="703" width="12.89" height="8.53" fill="#151515"/>
<rect x="1451.86" y="717.67" width="12.89" height="8.52" fill="#151515"/>
<rect x="1299.7" y="711.52" width="165.5" height="6.15" fill="#d8d8d4"/>
<polygon points="1303.84,715.98 1306.04,715.98 1304.94,713.22" fill="#1a1a1a"/>
<polygon points="1306.87,713.22 1309.08,713.22 1307.98,715.98" fill="#1a1a1a"/>
<rect x="1303.84" y="710.92" width="5.52" height="0.9" fill="#555"/>
<rect x="1303.84" y="717.38" width="5.52" height="0.9" fill="#555"/>
<polygon points="1317.63,715.98 1319.84,715.98 1318.73,713.22" fill="#1a1a1a"/>
<polygon points="1320.66,713.22 1322.87,713.22 1321.77,715.98" fill="#1a1a1a"/>
<rect x="1317.63" y="710.92" width="5.52" height="0.9" fill="#555"/>
<rect x="1317.63" y="717.38" width="5.52" height="0.9" fill="#555"/>
<polygon points="1331.42,715.98 1333.63,715.98 1332.52,713.22" fill="#1a1a1a"/>
<polygon points="1334.45,713.22 1336.66,713.22 1335.56,715.98" fill="#1a1a1a"/>
<rect x="1331.42" y="710.92" width="5.52" height="0.9" fill="#555"/>
<rect x="1331.42" y="717.38" width="5.52" height="0.9" fill="#555"/>
<polygon points="1345.21,715.98 1347.42,715.98 1346.32,713.22" fill="#1a1a1a"/>
<polygon points="1348.25,713.22 1350.45,713.22 1349.35,715.98" fill="#1a1a1a"/>
<rect x="1345.21" y="710.92" width="5.52" height="0.9" fill="#555"/>
<rect x="1345.21" y="717.38" width="5.52" height="0.9" fill="#555"/>
<polygon points="1359,715.98 1361.21,715.98 1360.11,713.22" fill="#1a1a1a"/>
<polygon points="1362.04,713.22 1364.25,713.22 1363.14,715.98" fill="#1a1a1a"/>
<rect x="1359" y="710.92" width="5.52" height="0.9" fill="#555"/>
<rect x="1359" y="717.38" width="5.52" height="0.9" fill="#555"/>
<polygon points="1372.8,715.98 1375,715.98 1373.9,713.22" fill="#1a1a1a"/>
<polygon points="1375.83,713.22 1378.04,713.22 1376.93,715.98" fill="#1a1a1a"/>
<rect x="1372.8" y="710.92" width="5.52" height="0.9" fill="#555"/>
<rect x="1372.8" y="717.38" width="5.52" height="0.9" fill="#555"/>
<polygon points="1386.59,715.98 1388.79,715.98 1387.69,713.22" fill="#1a1a1a"/>
<polygon points="1389.62,713.22 1391.83,713.22 1390.73,715.98" fill="#1a1a1a"/>
<rect x="1386.59" y="710.92" width="5.52" height="0.9" fill="#555"/>
<rect x="1386.59" y="717.38" width="5.52" height="0.9" fill="#555"/>
<polygon points="1400.38,715.98 1402.59,715.98 1401.48,713.22" fill="#1a1a1a"/>
<polygon points="1403.41,713.22 1405.62,713.22 1404.52,715.98" fill="#1a1a1a"/>
<rect x="1400.38" y="710.92" width="5.52" height="0.9" fill="#555"/>
<rect x="1400.38" y="717.38" width="5.52" height="0.9" fill="#555"/>
<polygon points="1414.17,715.98 1416.38,715.98 1415.27,713.22" fill="#1a1a1a"/>
<polygon points="1417.2,713.22 1419.41,713.22 1418.31,715.98" fill="#1a1a1a"/>
<rect x="1414.17" y="710.92" width="5.52" height="0.9" fill="#555"/>
<rect x="1414.17" y="717.38" width="5.52" height="0.9" fill="#555"/>
<polygon points="1427.96,715.98 1430.17,715.98 1429.07,713.22" fill="#1a1a1a"/>
<polygon points="1431,713.22 1433.2,713.22 1432.1,715.98" fill="#1a1a1a"/>
<rect x="1427.96" y="710.92" width="5.52" height="0.9" fill="#555"/>
<rect x="1427.96" y="717.38" width="5.52" height="0.9" fill="#555"/>
<polygon points="1441.75,715.98 1443.96,715.98 1442.86,713.22" fill="#1a1a1a"/>
<polygon points="1444.79,713.22 1447,713.22 1445.89,715.98" fill="#1a1a1a"/>
<rect x="1441.75" y="710.92" width="5.52" height="0.9" fill="#555"/>
<rect x="1441.75" y="717.38" width="5.52" height="0.9" fill="#555"/>
<polygon points="1455.55,715.98 1457.75,715.98 1456.65,713.22" fill="#1a1a1a"/>
<polygon points="1458.58,713.22 1460.79,713.22 1459.68,715.98" fill="#1a1a1a"/>
<rect x="1455.55" y="710.92" width="5.52" height="0.9" fill="#555"/>
<rect x="1455.55" y="717.38" width="5.52" height="0.9" fill="#555"/>
<text x="1049.8" y="731.4" font-size="4.2" fill="#3558b8" font-family="Liberation Sans" font-weight="bold" textLength="19.2" lengthAdjust="spacingAndGlyphs">C<tspan font-size="3.28">ORE</tspan> E<tspan font-size="3.28">DGE</tspan></text>
<text x="1070.2" y="731.4" font-size="2.60" fill="#3558b8" font-family="Liberation Sans" textLength="16.4" lengthAdjust="spacingAndGlyphs">C5000-48XQE</text>
<rect x="1088.45" y="729" width="10.5" height="2.4" fill="#262626" rx="1.2"/>
<rect x="1089.05" y="729.5" width="2.62" height="1.4" fill="#dddddd" rx="0.7"/>
<rect x="1103.75" y="729" width="10.5" height="2.4" fill="#262626" rx="1.2"/>
<rect x="1104.35" y="729.5" width="2.62" height="1.4" fill="#dddddd" rx="0.7"/>
<rect x="1119.05" y="729" width="10.5" height="2.4" fill="#262626" rx="1.2"/>
<rect x="1119.65" y="729.5" width="2.62" height="1.4" fill="#dddddd" rx="0.7"/>
<rect x="1134.45" y="729" width="10.5" height="2.4" fill="#262626" rx="1.2"/>
<rect x="1135.05" y="729.5" width="2.62" height="1.4" fill="#dddddd" rx="0.7"/>
<rect x="1149.45" y="729" width="10.5" height="2.4" fill="#262626" rx="1.2"/>
<rect x="1150.05" y="729.5" width="2.62" height="1.4" fill="#dddddd" rx="0.7"/>
<rect x="1165.55" y="729" width="10.5" height="2.4" fill="#262626" rx="1.2"/>
<rect x="1166.15" y="729.5" width="2.62" height="1.4" fill="#dddddd" rx="0.7"/>
<rect x="1181.75" y="729" width="10.5" height="2.4" fill="#262626" rx="1.2"/>
<rect x="1182.35" y="729.5" width="2.62" height="1.4" fill="#dddddd" rx="0.7"/>
<polygon points="872.5,203 874.5,195 881,189 888,185 903.6,179.2 1117,145 1614,144.5 1614,148 1489,189 1472,206 873,206" fill="url(#gStackTop)"/>
<polyline points="881,189 888,185 903.6,179.2 1117,145 1614,144.5" fill="none" stroke="#cfd1cd" stroke-width="2.6"/>
<polygon points="1472,211 1489,189 1614,148 1614,202 1475,270" fill="url(#gSide)"/>
<polygon points="1473,270 1614,202 1614,253 1601,261 1475,339" fill="url(#gSide)"/>
<polygon points="1474,339 1601,261 1601,313 1483,402 1476,404" fill="url(#gSide)"/>
<polygon points="1472,211 1489,189 1491,189 1491,265 1475,270" fill="#4f534d"/>
<polygon points="1473,270 1491,262 1491,331 1475,339" fill="#4f534d"/>
<polygon points="1474,339 1491,328 1491,396 1476,404" fill="#4f534d"/>
<polyline points="1489,189 1489.5,266" fill="none" stroke="#444" stroke-width="0.8"/>
<polyline points="1490,262 1490.5,332" fill="none" stroke="#444" stroke-width="0.8"/>
<polyline points="1490,329 1490.5,397" fill="none" stroke="#444" stroke-width="0.8"/>
<polyline points="1474,270.5 1614,202" fill="none" stroke="#1e1e1e" stroke-width="1.6"/>
<polyline points="1474,339.5 1601,261" fill="none" stroke="#2a2a2a" stroke-width="1.3"/>
<polyline points="1601,261 1614,253" fill="none" stroke="#3a3a3a" stroke-width="1"/>
<rect x="1561.6" y="176.5" width="1.5" height="3.2" fill="#1a1a1a"/>
<rect x="1564" y="175.83" width="1.5" height="3.2" fill="#1a1a1a"/>
<rect x="1566.4" y="175.16" width="1.5" height="3.2" fill="#1a1a1a"/>
<rect x="1568.8" y="174.48" width="1.5" height="3.2" fill="#1a1a1a"/>
<rect x="1561.6" y="181.7" width="1.5" height="3.2" fill="#1a1a1a"/>
<rect x="1564" y="181.03" width="1.5" height="3.2" fill="#1a1a1a"/>
<rect x="1566.4" y="180.36" width="1.5" height="3.2" fill="#1a1a1a"/>
<rect x="1568.8" y="179.68" width="1.5" height="3.2" fill="#1a1a1a"/>
<rect x="1561.6" y="186.9" width="1.5" height="3.2" fill="#1a1a1a"/>
<rect x="1564" y="186.23" width="1.5" height="3.2" fill="#1a1a1a"/>
<rect x="1566.4" y="185.56" width="1.5" height="3.2" fill="#1a1a1a"/>
<rect x="1568.8" y="184.88" width="1.5" height="3.2" fill="#1a1a1a"/>
<rect x="1561.6" y="192.1" width="1.5" height="3.2" fill="#1a1a1a"/>
<rect x="1564" y="191.43" width="1.5" height="3.2" fill="#1a1a1a"/>
<rect x="1566.4" y="190.76" width="1.5" height="3.2" fill="#1a1a1a"/>
<rect x="1568.8" y="190.08" width="1.5" height="3.2" fill="#1a1a1a"/>
<rect x="1561.6" y="197.3" width="1.5" height="3.2" fill="#1a1a1a"/>
<rect x="1564" y="196.63" width="1.5" height="3.2" fill="#1a1a1a"/>
<rect x="1566.4" y="195.96" width="1.5" height="3.2" fill="#1a1a1a"/>
<rect x="1568.8" y="195.28" width="1.5" height="3.2" fill="#1a1a1a"/>
<rect x="1561.6" y="202.5" width="1.5" height="3.2" fill="#1a1a1a"/>
<rect x="1564" y="201.83" width="1.5" height="3.2" fill="#1a1a1a"/>
<rect x="1566.4" y="201.16" width="1.5" height="3.2" fill="#1a1a1a"/>
<rect x="1568.8" y="200.48" width="1.5" height="3.2" fill="#1a1a1a"/>
<rect x="1561.6" y="207.7" width="1.5" height="3.2" fill="#1a1a1a"/>
<rect x="1564" y="207.03" width="1.5" height="3.2" fill="#1a1a1a"/>
<rect x="1566.4" y="206.36" width="1.5" height="3.2" fill="#1a1a1a"/>
<rect x="1568.8" y="205.68" width="1.5" height="3.2" fill="#1a1a1a"/>
<rect x="1561.6" y="212.9" width="1.5" height="3.2" fill="#1a1a1a"/>
<rect x="1564" y="212.23" width="1.5" height="3.2" fill="#1a1a1a"/>
<rect x="1566.4" y="211.56" width="1.5" height="3.2" fill="#1a1a1a"/>
<rect x="1568.8" y="210.88" width="1.5" height="3.2" fill="#1a1a1a"/>
<rect x="1561.6" y="235" width="1.5" height="3.2" fill="#1a1a1a"/>
<rect x="1564" y="233.85" width="1.5" height="3.2" fill="#1a1a1a"/>
<rect x="1566.4" y="232.7" width="1.5" height="3.2" fill="#1a1a1a"/>
<rect x="1568.8" y="231.54" width="1.5" height="3.2" fill="#1a1a1a"/>
<rect x="1561.6" y="240.2" width="1.5" height="3.2" fill="#1a1a1a"/>
<rect x="1564" y="239.05" width="1.5" height="3.2" fill="#1a1a1a"/>
<rect x="1566.4" y="237.9" width="1.5" height="3.2" fill="#1a1a1a"/>
<rect x="1568.8" y="236.74" width="1.5" height="3.2" fill="#1a1a1a"/>
<rect x="1561.6" y="245.4" width="1.5" height="3.2" fill="#1a1a1a"/>
<rect x="1564" y="244.25" width="1.5" height="3.2" fill="#1a1a1a"/>
<rect x="1566.4" y="243.1" width="1.5" height="3.2" fill="#1a1a1a"/>
<rect x="1568.8" y="241.94" width="1.5" height="3.2" fill="#1a1a1a"/>
<rect x="1561.6" y="250.6" width="1.5" height="3.2" fill="#1a1a1a"/>
<rect x="1564" y="249.45" width="1.5" height="3.2" fill="#1a1a1a"/>
<rect x="1566.4" y="248.3" width="1.5" height="3.2" fill="#1a1a1a"/>
<rect x="1568.8" y="247.14" width="1.5" height="3.2" fill="#1a1a1a"/>
<rect x="1561.6" y="255.8" width="1.5" height="3.2" fill="#1a1a1a"/>
<rect x="1564" y="254.65" width="1.5" height="3.2" fill="#1a1a1a"/>
<rect x="1566.4" y="253.5" width="1.5" height="3.2" fill="#1a1a1a"/>
<rect x="1568.8" y="252.34" width="1.5" height="3.2" fill="#1a1a1a"/>
<rect x="1561.6" y="261" width="1.5" height="3.2" fill="#1a1a1a"/>
<rect x="1564" y="259.85" width="1.5" height="3.2" fill="#1a1a1a"/>
<rect x="1566.4" y="258.7" width="1.5" height="3.2" fill="#1a1a1a"/>
<rect x="1568.8" y="257.54" width="1.5" height="3.2" fill="#1a1a1a"/>
<rect x="1561.6" y="266.2" width="1.5" height="3.2" fill="#1a1a1a"/>
<rect x="1564" y="265.05" width="1.5" height="3.2" fill="#1a1a1a"/>
<rect x="1566.4" y="263.9" width="1.5" height="3.2" fill="#1a1a1a"/>
<rect x="1568.8" y="262.74" width="1.5" height="3.2" fill="#1a1a1a"/>
<rect x="1561.6" y="271.4" width="1.5" height="3.2" fill="#1a1a1a"/>
<rect x="1564" y="270.25" width="1.5" height="3.2" fill="#1a1a1a"/>
<rect x="1566.4" y="269.1" width="1.5" height="3.2" fill="#1a1a1a"/>
<rect x="1568.8" y="267.94" width="1.5" height="3.2" fill="#1a1a1a"/>
<rect x="1546" y="303" width="1.5" height="3.2" fill="#1a1a1a"/>
<rect x="1548.4" y="301.32" width="1.5" height="3.2" fill="#1a1a1a"/>
<rect x="1550.8" y="299.64" width="1.5" height="3.2" fill="#1a1a1a"/>
<rect x="1553.2" y="297.96" width="1.5" height="3.2" fill="#1a1a1a"/>
<rect x="1546" y="308.2" width="1.5" height="3.2" fill="#1a1a1a"/>
<rect x="1548.4" y="306.52" width="1.5" height="3.2" fill="#1a1a1a"/>
<rect x="1550.8" y="304.84" width="1.5" height="3.2" fill="#1a1a1a"/>
<rect x="1553.2" y="303.16" width="1.5" height="3.2" fill="#1a1a1a"/>
<rect x="1546" y="313.4" width="1.5" height="3.2" fill="#1a1a1a"/>
<rect x="1548.4" y="311.72" width="1.5" height="3.2" fill="#1a1a1a"/>
<rect x="1550.8" y="310.04" width="1.5" height="3.2" fill="#1a1a1a"/>
<rect x="1553.2" y="308.36" width="1.5" height="3.2" fill="#1a1a1a"/>
<rect x="1546" y="318.6" width="1.5" height="3.2" fill="#1a1a1a"/>
<rect x="1548.4" y="316.92" width="1.5" height="3.2" fill="#1a1a1a"/>
<rect x="1550.8" y="315.24" width="1.5" height="3.2" fill="#1a1a1a"/>
<rect x="1553.2" y="313.56" width="1.5" height="3.2" fill="#1a1a1a"/>
<rect x="1546" y="323.8" width="1.5" height="3.2" fill="#1a1a1a"/>
<rect x="1548.4" y="322.12" width="1.5" height="3.2" fill="#1a1a1a"/>
<rect x="1550.8" y="320.44" width="1.5" height="3.2" fill="#1a1a1a"/>
<rect x="1553.2" y="318.76" width="1.5" height="3.2" fill="#1a1a1a"/>
<rect x="1546" y="329" width="1.5" height="3.2" fill="#1a1a1a"/>
<rect x="1548.4" y="327.32" width="1.5" height="3.2" fill="#1a1a1a"/>
<rect x="1550.8" y="325.64" width="1.5" height="3.2" fill="#1a1a1a"/>
<rect x="1553.2" y="323.96" width="1.5" height="3.2" fill="#1a1a1a"/>
<rect x="1546" y="334.2" width="1.5" height="3.2" fill="#1a1a1a"/>
<rect x="1548.4" y="332.52" width="1.5" height="3.2" fill="#1a1a1a"/>
<rect x="1550.8" y="330.84" width="1.5" height="3.2" fill="#1a1a1a"/>
<rect x="1553.2" y="329.16" width="1.5" height="3.2" fill="#1a1a1a"/>
<rect x="1546" y="339.4" width="1.5" height="3.2" fill="#1a1a1a"/>
<rect x="1548.4" y="337.72" width="1.5" height="3.2" fill="#1a1a1a"/>
<rect x="1550.8" y="336.04" width="1.5" height="3.2" fill="#1a1a1a"/>
<rect x="1553.2" y="334.36" width="1.5" height="3.2" fill="#1a1a1a"/>
<ellipse cx="1602" cy="171" rx="1.1" ry="1.6" fill="#262626"/>
<ellipse cx="1608" cy="168" rx="1.1" ry="1.6" fill="#262626"/>
<ellipse cx="1602" cy="190" rx="1.1" ry="1.6" fill="#262626"/>
<ellipse cx="1608" cy="187" rx="1.1" ry="1.6" fill="#262626"/>
<ellipse cx="1601.5" cy="224" rx="1.1" ry="1.6" fill="#262626"/>
<ellipse cx="1608" cy="220" rx="1.1" ry="1.6" fill="#262626"/>
<ellipse cx="1601.5" cy="243.5" rx="1.1" ry="1.6" fill="#262626"/>
<ellipse cx="1608" cy="239.5" rx="1.1" ry="1.6" fill="#262626"/>
<ellipse cx="1588.4" cy="287" rx="1.1" ry="1.6" fill="#262626"/>
<ellipse cx="1595" cy="282.4" rx="1.1" ry="1.6" fill="#262626"/>
<ellipse cx="1588.4" cy="306.7" rx="1.1" ry="1.6" fill="#262626"/>
<ellipse cx="1595" cy="301.8" rx="1.1" ry="1.6" fill="#262626"/>
<ellipse cx="1482" cy="230" rx="0.9" ry="1.3" fill="#2a2a2a"/>
<ellipse cx="1482" cy="243" rx="0.9" ry="1.3" fill="#2a2a2a"/>
<ellipse cx="1482" cy="256" rx="0.9" ry="1.3" fill="#2a2a2a"/>
<ellipse cx="1482" cy="292" rx="0.9" ry="1.3" fill="#2a2a2a"/>
<ellipse cx="1482" cy="305" rx="0.9" ry="1.3" fill="#2a2a2a"/>
<ellipse cx="1482" cy="318" rx="0.9" ry="1.3" fill="#2a2a2a"/>
<ellipse cx="1482" cy="360" rx="0.9" ry="1.3" fill="#2a2a2a"/>
<ellipse cx="1482" cy="373" rx="0.9" ry="1.3" fill="#2a2a2a"/>
<ellipse cx="1482" cy="386" rx="0.9" ry="1.3" fill="#2a2a2a"/>
<g transform="matrix(1,0.015000,0,1,0,-13.0950)">
<polygon points="888,184 1476,184 1489,182.3 1472,203.8 873,203.8 874.5,195 881,189" fill="#747672"/>
<ellipse cx="887.80" cy="195.8" rx="4.4" ry="3.1" fill="#7c7e7a" stroke="#1c1c1c" stroke-width="2.5"/>
<ellipse cx="893.60" cy="189.0" rx="4.4" ry="3.1" fill="#7c7e7a" stroke="#1c1c1c" stroke-width="2.5"/>
<ellipse cx="899.40" cy="195.8" rx="4.4" ry="3.1" fill="#7c7e7a" stroke="#1c1c1c" stroke-width="2.5"/>
<ellipse cx="905.20" cy="189.0" rx="4.4" ry="3.1" fill="#7c7e7a" stroke="#1c1c1c" stroke-width="2.5"/>
<ellipse cx="911.00" cy="195.8" rx="4.4" ry="3.1" fill="#7c7e7a" stroke="#1c1c1c" stroke-width="2.5"/>
<ellipse cx="916.80" cy="189.0" rx="4.4" ry="3.1" fill="#7c7e7a" stroke="#1c1c1c" stroke-width="2.5"/>
<ellipse cx="922.60" cy="195.8" rx="4.4" ry="3.1" fill="#7c7e7a" stroke="#1c1c1c" stroke-width="2.5"/>
<ellipse cx="928.40" cy="189.0" rx="4.4" ry="3.1" fill="#7c7e7a" stroke="#1c1c1c" stroke-width="2.5"/>
<ellipse cx="934.20" cy="195.8" rx="4.4" ry="3.1" fill="#7c7e7a" stroke="#1c1c1c" stroke-width="2.5"/>
<ellipse cx="940.00" cy="189.0" rx="4.4" ry="3.1" fill="#7c7e7a" stroke="#1c1c1c" stroke-width="2.5"/>
<ellipse cx="945.80" cy="195.8" rx="4.4" ry="3.1" fill="#7c7e7a" stroke="#1c1c1c" stroke-width="2.5"/>
<ellipse cx="951.60" cy="189.0" rx="4.4" ry="3.1" fill="#7c7e7a" stroke="#1c1c1c" stroke-width="2.5"/>
<ellipse cx="957.40" cy="195.8" rx="4.4" ry="3.1" fill="#7c7e7a" stroke="#1c1c1c" stroke-width="2.5"/>
<ellipse cx="963.20" cy="189.0" rx="4.4" ry="3.1" fill="#7c7e7a" stroke="#1c1c1c" stroke-width="2.5"/>
<ellipse cx="969.00" cy="195.8" rx="4.4" ry="3.1" fill="#7c7e7a" stroke="#1c1c1c" stroke-width="2.5"/>
<ellipse cx="974.80" cy="189.0" rx="4.4" ry="3.1" fill="#7c7e7a" stroke="#1c1c1c" stroke-width="2.5"/>
<ellipse cx="980.60" cy="195.8" rx="4.4" ry="3.1" fill="#7c7e7a" stroke="#1c1c1c" stroke-width="2.5"/>
<ellipse cx="986.40" cy="189.0" rx="4.4" ry="3.1" fill="#7c7e7a" stroke="#1c1c1c" stroke-width="2.5"/>
<ellipse cx="992.20" cy="195.8" rx="4.4" ry="3.1" fill="#7c7e7a" stroke="#1c1c1c" stroke-width="2.5"/>
<ellipse cx="998.00" cy="189.0" rx="4.4" ry="3.1" fill="#7c7e7a" stroke="#1c1c1c" stroke-width="2.5"/>
<ellipse cx="1003.80" cy="195.8" rx="4.4" ry="3.1" fill="#7c7e7a" stroke="#1c1c1c" stroke-width="2.5"/>
<ellipse cx="1009.60" cy="189.0" rx="4.4" ry="3.1" fill="#7c7e7a" stroke="#1c1c1c" stroke-width="2.5"/>
<ellipse cx="1015.40" cy="195.8" rx="4.4" ry="3.1" fill="#7c7e7a" stroke="#1c1c1c" stroke-width="2.5"/>
<ellipse cx="1021.20" cy="189.0" rx="4.4" ry="3.1" fill="#7c7e7a" stroke="#1c1c1c" stroke-width="2.5"/>
<ellipse cx="1027.00" cy="195.8" rx="4.4" ry="3.1" fill="#7c7e7a" stroke="#1c1c1c" stroke-width="2.5"/>
<ellipse cx="1032.80" cy="189.0" rx="4.4" ry="3.1" fill="#7c7e7a" stroke="#1c1c1c" stroke-width="2.5"/>
<ellipse cx="1038.60" cy="195.8" rx="4.4" ry="3.1" fill="#7c7e7a" stroke="#1c1c1c" stroke-width="2.5"/>
<ellipse cx="1044.40" cy="189.0" rx="4.4" ry="3.1" fill="#7c7e7a" stroke="#1c1c1c" stroke-width="2.5"/>
<ellipse cx="1050.20" cy="195.8" rx="4.4" ry="3.1" fill="#7c7e7a" stroke="#1c1c1c" stroke-width="2.5"/>
<ellipse cx="1056.00" cy="189.0" rx="4.4" ry="3.1" fill="#7c7e7a" stroke="#1c1c1c" stroke-width="2.5"/>
<ellipse cx="1061.80" cy="195.8" rx="4.4" ry="3.1" fill="#7c7e7a" stroke="#1c1c1c" stroke-width="2.5"/>
<ellipse cx="1067.60" cy="189.0" rx="4.4" ry="3.1" fill="#7c7e7a" stroke="#1c1c1c" stroke-width="2.5"/>
<ellipse cx="1073.40" cy="195.8" rx="4.4" ry="3.1" fill="#7c7e7a" stroke="#1c1c1c" stroke-width="2.5"/>
<ellipse cx="1079.20" cy="189.0" rx="4.4" ry="3.1" fill="#7c7e7a" stroke="#1c1c1c" stroke-width="2.5"/>
<ellipse cx="1085.00" cy="195.8" rx="4.4" ry="3.1" fill="#7c7e7a" stroke="#1c1c1c" stroke-width="2.5"/>
<ellipse cx="1090.80" cy="189.0" rx="4.4" ry="3.1" fill="#7c7e7a" stroke="#1c1c1c" stroke-width="2.5"/>
<ellipse cx="1096.60" cy="195.8" rx="4.4" ry="3.1" fill="#7c7e7a" stroke="#1c1c1c" stroke-width="2.5"/>
<ellipse cx="1102.40" cy="189.0" rx="4.4" ry="3.1" fill="#7c7e7a" stroke="#1c1c1c" stroke-width="2.5"/>
<ellipse cx="1108.20" cy="195.8" rx="4.4" ry="3.1" fill="#7c7e7a" stroke="#1c1c1c" stroke-width="2.5"/>
<ellipse cx="1114.00" cy="189.0" rx="4.4" ry="3.1" fill="#7c7e7a" stroke="#1c1c1c" stroke-width="2.5"/>
<ellipse cx="1119.80" cy="195.8" rx="4.4" ry="3.1" fill="#7c7e7a" stroke="#1c1c1c" stroke-width="2.5"/>
<ellipse cx="1125.60" cy="189.0" rx="4.4" ry="3.1" fill="#7c7e7a" stroke="#1c1c1c" stroke-width="2.5"/>
<ellipse cx="1131.40" cy="195.8" rx="4.4" ry="3.1" fill="#7c7e7a" stroke="#1c1c1c" stroke-width="2.5"/>
<ellipse cx="1137.20" cy="189.0" rx="4.4" ry="3.1" fill="#7c7e7a" stroke="#1c1c1c" stroke-width="2.5"/>
<ellipse cx="1143.00" cy="195.8" rx="4.4" ry="3.1" fill="#7c7e7a" stroke="#1c1c1c" stroke-width="2.5"/>
<ellipse cx="1148.80" cy="189.0" rx="4.4" ry="3.1" fill="#7c7e7a" stroke="#1c1c1c" stroke-width="2.5"/>
<ellipse cx="1154.60" cy="195.8" rx="4.4" ry="3.1" fill="#7c7e7a" stroke="#1c1c1c" stroke-width="2.5"/>
<ellipse cx="1160.40" cy="189.0" rx="4.4" ry="3.1" fill="#7c7e7a" stroke="#1c1c1c" stroke-width="2.5"/>
<ellipse cx="1166.20" cy="195.8" rx="4.4" ry="3.1" fill="#7c7e7a" stroke="#1c1c1c" stroke-width="2.5"/>
<ellipse cx="1172.00" cy="189.0" rx="4.4" ry="3.1" fill="#7c7e7a" stroke="#1c1c1c" stroke-width="2.5"/>
<ellipse cx="1177.80" cy="195.8" rx="4.4" ry="3.1" fill="#7c7e7a" stroke="#1c1c1c" stroke-width="2.5"/>
<ellipse cx="1183.60" cy="189.0" rx="4.4" ry="3.1" fill="#7c7e7a" stroke="#1c1c1c" stroke-width="2.5"/>
<ellipse cx="1189.40" cy="195.8" rx="4.4" ry="3.1" fill="#7c7e7a" stroke="#1c1c1c" stroke-width="2.5"/>
<ellipse cx="1195.20" cy="189.0" rx="4.4" ry="3.1" fill="#7c7e7a" stroke="#1c1c1c" stroke-width="2.5"/>
<ellipse cx="1201.00" cy="195.8" rx="4.4" ry="3.1" fill="#7c7e7a" stroke="#1c1c1c" stroke-width="2.5"/>
<ellipse cx="1206.80" cy="189.0" rx="4.4" ry="3.1" fill="#7c7e7a" stroke="#1c1c1c" stroke-width="2.5"/>
<ellipse cx="1212.60" cy="195.8" rx="4.4" ry="3.1" fill="#7c7e7a" stroke="#1c1c1c" stroke-width="2.5"/>
<ellipse cx="1218.40" cy="189.0" rx="4.4" ry="3.1" fill="#7c7e7a" stroke="#1c1c1c" stroke-width="2.5"/>
<ellipse cx="1224.20" cy="195.8" rx="4.4" ry="3.1" fill="#7c7e7a" stroke="#1c1c1c" stroke-width="2.5"/>
<ellipse cx="1230.00" cy="189.0" rx="4.4" ry="3.1" fill="#7c7e7a" stroke="#1c1c1c" stroke-width="2.5"/>
<ellipse cx="1235.80" cy="195.8" rx="4.4" ry="3.1" fill="#7c7e7a" stroke="#1c1c1c" stroke-width="2.5"/>
<ellipse cx="1241.60" cy="189.0" rx="4.4" ry="3.1" fill="#7c7e7a" stroke="#1c1c1c" stroke-width="2.5"/>
<ellipse cx="1247.40" cy="195.8" rx="4.4" ry="3.1" fill="#7c7e7a" stroke="#1c1c1c" stroke-width="2.5"/>
<ellipse cx="1253.20" cy="189.0" rx="4.4" ry="3.1" fill="#7c7e7a" stroke="#1c1c1c" stroke-width="2.5"/>
<ellipse cx="1259.00" cy="195.8" rx="4.4" ry="3.1" fill="#7c7e7a" stroke="#1c1c1c" stroke-width="2.5"/>
<ellipse cx="1264.80" cy="189.0" rx="4.4" ry="3.1" fill="#7c7e7a" stroke="#1c1c1c" stroke-width="2.5"/>
<ellipse cx="1270.60" cy="195.8" rx="4.4" ry="3.1" fill="#7c7e7a" stroke="#1c1c1c" stroke-width="2.5"/>
<ellipse cx="1276.40" cy="189.0" rx="4.4" ry="3.1" fill="#7c7e7a" stroke="#1c1c1c" stroke-width="2.5"/>
<ellipse cx="1282.20" cy="195.8" rx="4.4" ry="3.1" fill="#7c7e7a" stroke="#1c1c1c" stroke-width="2.5"/>
<ellipse cx="1288.00" cy="189.0" rx="4.4" ry="3.1" fill="#7c7e7a" stroke="#1c1c1c" stroke-width="2.5"/>
<ellipse cx="1293.80" cy="195.8" rx="4.4" ry="3.1" fill="#7c7e7a" stroke="#1c1c1c" stroke-width="2.5"/>
<ellipse cx="1299.60" cy="189.0" rx="4.4" ry="3.1" fill="#7c7e7a" stroke="#1c1c1c" stroke-width="2.5"/>
<ellipse cx="1305.40" cy="195.8" rx="4.4" ry="3.1" fill="#7c7e7a" stroke="#1c1c1c" stroke-width="2.5"/>
<ellipse cx="1311.20" cy="189.0" rx="4.4" ry="3.1" fill="#7c7e7a" stroke="#1c1c1c" stroke-width="2.5"/>
<ellipse cx="1317.00" cy="195.8" rx="4.4" ry="3.1" fill="#7c7e7a" stroke="#1c1c1c" stroke-width="2.5"/>
<ellipse cx="1322.80" cy="189.0" rx="4.4" ry="3.1" fill="#7c7e7a" stroke="#1c1c1c" stroke-width="2.5"/>
<ellipse cx="1328.60" cy="195.8" rx="4.4" ry="3.1" fill="#7c7e7a" stroke="#1c1c1c" stroke-width="2.5"/>
<ellipse cx="1334.40" cy="189.0" rx="4.4" ry="3.1" fill="#7c7e7a" stroke="#1c1c1c" stroke-width="2.5"/>
<ellipse cx="1340.20" cy="195.8" rx="4.4" ry="3.1" fill="#7c7e7a" stroke="#1c1c1c" stroke-width="2.5"/>
<ellipse cx="1346.00" cy="189.0" rx="4.4" ry="3.1" fill="#7c7e7a" stroke="#1c1c1c" stroke-width="2.5"/>
<ellipse cx="1351.80" cy="195.8" rx="4.4" ry="3.1" fill="#7c7e7a" stroke="#1c1c1c" stroke-width="2.5"/>
<ellipse cx="1357.60" cy="189.0" rx="4.4" ry="3.1" fill="#7c7e7a" stroke="#1c1c1c" stroke-width="2.5"/>
<ellipse cx="1363.40" cy="195.8" rx="4.4" ry="3.1" fill="#7c7e7a" stroke="#1c1c1c" stroke-width="2.5"/>
<ellipse cx="1369.20" cy="189.0" rx="4.4" ry="3.1" fill="#7c7e7a" stroke="#1c1c1c" stroke-width="2.5"/>
<ellipse cx="1375.00" cy="195.8" rx="4.4" ry="3.1" fill="#7c7e7a" stroke="#1c1c1c" stroke-width="2.5"/>
<ellipse cx="1380.80" cy="189.0" rx="4.4" ry="3.1" fill="#7c7e7a" stroke="#1c1c1c" stroke-width="2.5"/>
<ellipse cx="1386.60" cy="195.8" rx="4.4" ry="3.1" fill="#7c7e7a" stroke="#1c1c1c" stroke-width="2.5"/>
<ellipse cx="1392.40" cy="189.0" rx="4.4" ry="3.1" fill="#7c7e7a" stroke="#1c1c1c" stroke-width="2.5"/>
<ellipse cx="1398.20" cy="195.8" rx="4.4" ry="3.1" fill="#7c7e7a" stroke="#1c1c1c" stroke-width="2.5"/>
<ellipse cx="1404.00" cy="189.0" rx="4.4" ry="3.1" fill="#7c7e7a" stroke="#1c1c1c" stroke-width="2.5"/>
<ellipse cx="1409.80" cy="195.8" rx="4.4" ry="3.1" fill="#7c7e7a" stroke="#1c1c1c" stroke-width="2.5"/>
<ellipse cx="1415.60" cy="189.0" rx="4.4" ry="3.1" fill="#7c7e7a" stroke="#1c1c1c" stroke-width="2.5"/>
<ellipse cx="1421.40" cy="195.8" rx="4.4" ry="3.1" fill="#7c7e7a" stroke="#1c1c1c" stroke-width="2.5"/>
<ellipse cx="1427.20" cy="189.0" rx="4.4" ry="3.1" fill="#7c7e7a" stroke="#1c1c1c" stroke-width="2.5"/>
<ellipse cx="1433.00" cy="195.8" rx="4.4" ry="3.1" fill="#7c7e7a" stroke="#1c1c1c" stroke-width="2.5"/>
<ellipse cx="1438.80" cy="189.0" rx="4.4" ry="3.1" fill="#7c7e7a" stroke="#1c1c1c" stroke-width="2.5"/>
<ellipse cx="1444.60" cy="195.8" rx="4.4" ry="3.1" fill="#7c7e7a" stroke="#1c1c1c" stroke-width="2.5"/>
<ellipse cx="1450.40" cy="189.0" rx="4.4" ry="3.1" fill="#7c7e7a" stroke="#1c1c1c" stroke-width="2.5"/>
<ellipse cx="1456.20" cy="195.8" rx="4.4" ry="3.1" fill="#7c7e7a" stroke="#1c1c1c" stroke-width="2.5"/>
<ellipse cx="1462.00" cy="189.0" rx="4.4" ry="3.1" fill="#7c7e7a" stroke="#1c1c1c" stroke-width="2.5"/>
<ellipse cx="1467.80" cy="195.8" rx="4.4" ry="3.1" fill="#7c7e7a" stroke="#1c1c1c" stroke-width="2.5"/>
<ellipse cx="1473.60" cy="189.0" rx="4.4" ry="3.1" fill="#7c7e7a" stroke="#1c1c1c" stroke-width="2.5"/>
<rect x="873" y="200.6" width="600" height="1.2" fill="#6a6b68"/>
<rect x="873" y="201.6" width="600" height="2.2" fill="#464745"/>
</g>
<polygon points="873,256 1475,268 1475,283 871,269" fill="url(#pCarbon)"/>
<polygon points="871,321.5 1475,338 1475,349 870,329" fill="url(#pCarbon)"/>
<polygon points="872.17,201.12 1475.07,211.67 1475.07,270.51 872.17,257.82" fill="#2a2a2a"/>
<polygon points="874.5,202.5 1472,213 1472,268.5 874.5,256" fill="url(#gFrontS)"/>
<polygon points="869.66,267.63 1476.39,281.17 1476.39,340.55 869.66,323.58" fill="#2a2a2a"/>
<polygon points="872,269 1473.3,282.5 1473.3,338.5 872,321.8" fill="url(#gFrontS)"/>
<polygon points="868.65,328.01 1476.09,347.33 1476.09,405.53 868.65,383.76" fill="#2a2a2a"/>
<polygon points="871,329.4 1473,348.6 1473,403.5 871,382" fill="url(#gFrontS)"/>
<polygon points="880.25,209.83 930.25,210.73 930.25,247.5 880.25,246.49" fill="#5e5e5e"/>
<polygon points="880.95,210.64 904.52,211.07 904.52,224.2 880.95,223.75" fill="#141414"/>
<polygon points="905.92,211.09 929.55,211.52 929.55,224.67 905.92,224.23" fill="#141414"/>
<polygon points="880.95,233.39 904.52,233.85 904.52,246.18 880.95,245.7" fill="#141414"/>
<polygon points="905.92,233.88 929.55,234.34 929.55,246.68 905.92,246.2" fill="#141414"/>
<polygon points="880.95,223.75 929.55,224.67 929.55,234.34 880.95,233.39" fill="#b9b5ad"/>
<polygon points="888.01,226.57 889.19,226.59 889.19,230.87 888.01,230.85" fill="#3a3835"/>
<polygon points="890.37,226.61 891.55,226.63 891.55,230.92 890.37,230.89" fill="#3a3835"/>
<polygon points="892.73,226.65 893.91,226.68 893.91,230.96 892.73,230.94" fill="#3a3835"/>
<polygon points="895.09,226.7 896.27,226.72 896.27,231.01 895.09,230.99" fill="#3a3835"/>
<polygon points="882.83,231.02 885.66,231.07 884.24,226.23" fill="#2a2a2a"/>
<polygon points="899.8,226.52 902.63,226.58 901.22,231.37" fill="#2a2a2a"/>
<polygon points="913.01,227.04 914.19,227.06 914.19,231.35 913.01,231.33" fill="#3a3835"/>
<polygon points="915.37,227.09 916.55,227.11 916.55,231.4 915.37,231.38" fill="#3a3835"/>
<polygon points="917.73,227.13 918.91,227.15 918.91,231.45 917.73,231.42" fill="#3a3835"/>
<polygon points="920.09,227.18 921.28,227.2 921.28,231.49 920.09,231.47" fill="#3a3835"/>
<polygon points="907.81,231.5 910.65,231.55 909.23,226.7" fill="#2a2a2a"/>
<polygon points="924.82,227 927.66,227.05 926.24,231.86" fill="#2a2a2a"/>
<ellipse cx="936.32" cy="216.48" rx="1.9" ry="3.4" fill="#111"/>
<ellipse cx="936.32" cy="228.83" rx="1.9" ry="3.4" fill="#111"/>
<ellipse cx="936.32" cy="241.18" rx="1.9" ry="3.4" fill="#111"/>
<polygon points="942.99,210.96 993.81,211.87 993.81,248.79 942.99,247.76" fill="#5e5e5e"/>
<polygon points="943.69,211.78 967.67,212.21 967.67,225.39 943.69,224.94" fill="#141414"/>
<polygon points="969.08,212.23 993.11,212.67 993.11,225.87 969.08,225.42" fill="#141414"/>
<polygon points="943.69,234.61 967.67,235.08 967.67,247.46 943.69,246.97" fill="#141414"/>
<polygon points="969.08,235.11 993.11,235.58 993.11,247.97 969.08,247.48" fill="#141414"/>
<polygon points="943.69,224.94 993.11,225.87 993.11,235.58 943.69,234.61" fill="#b9b5ad"/>
<polygon points="950.88,227.76 952.08,227.79 952.08,232.09 950.88,232.06" fill="#3a3835"/>
<polygon points="953.27,227.81 954.47,227.83 954.47,232.13 953.27,232.11" fill="#3a3835"/>
<polygon points="955.67,227.85 956.87,227.88 956.87,232.18 955.67,232.16" fill="#3a3835"/>
<polygon points="958.07,227.9 959.27,227.92 959.27,232.23 958.07,232.2" fill="#3a3835"/>
<polygon points="945.61,232.23 948.48,232.29 947.04,227.42" fill="#2a2a2a"/>
<polygon points="962.87,227.72 965.75,227.78 964.31,232.59" fill="#2a2a2a"/>
<polygon points="976.28,228.25 977.48,228.27 977.48,232.58 976.28,232.55" fill="#3a3835"/>
<polygon points="978.68,228.29 979.88,228.32 979.88,232.62 978.68,232.6" fill="#3a3835"/>
<polygon points="981.09,228.34 982.29,228.36 982.29,232.67 981.09,232.65" fill="#3a3835"/>
<polygon points="983.49,228.39 984.69,228.41 984.69,232.72 983.49,232.69" fill="#3a3835"/>
<polygon points="971,232.72 973.88,232.78 972.44,227.91" fill="#2a2a2a"/>
<polygon points="988.3,228.21 991.18,228.26 989.74,233.08" fill="#2a2a2a"/>
<ellipse cx="999.92" cy="217.64" rx="1.9" ry="3.4" fill="#111"/>
<ellipse cx="999.92" cy="230.05" rx="1.9" ry="3.4" fill="#111"/>
<ellipse cx="999.92" cy="242.45" rx="1.9" ry="3.4" fill="#111"/>
<polygon points="1006.77,212.11 1058.43,213.04 1058.43,250.11 1006.77,249.06" fill="#5e5e5e"/>
<polygon points="1007.47,212.93 1031.86,213.37 1031.86,226.61 1007.47,226.15" fill="#141414"/>
<polygon points="1033.28,213.39 1057.72,213.84 1057.72,227.09 1033.28,226.63" fill="#141414"/>
<polygon points="1007.47,235.86 1031.86,236.33 1031.86,248.76 1007.47,248.26" fill="#141414"/>
<polygon points="1033.28,236.36 1057.72,236.83 1057.72,249.28 1033.28,248.79" fill="#141414"/>
<polygon points="1007.47,226.15 1057.72,227.09 1057.72,236.83 1007.47,235.86" fill="#b9b5ad"/>
<polygon points="1014.78,228.98 1016,229 1016,233.32 1014.78,233.3" fill="#3a3835"/>
<polygon points="1017.22,229.03 1018.44,229.05 1018.44,233.37 1017.22,233.35" fill="#3a3835"/>
<polygon points="1019.66,229.07 1020.88,229.1 1020.88,233.42 1019.66,233.39" fill="#3a3835"/>
<polygon points="1022.1,229.12 1023.32,229.14 1023.32,233.46 1022.1,233.44" fill="#3a3835"/>
<polygon points="1009.42,233.47 1012.35,233.52 1010.88,228.64" fill="#2a2a2a"/>
<polygon points="1026.98,228.94 1029.91,229 1028.44,233.83" fill="#2a2a2a"/>
<polygon points="1040.6,229.47 1041.83,229.5 1041.83,233.82 1040.6,233.8" fill="#3a3835"/>
<polygon points="1043.05,229.52 1044.27,229.54 1044.27,233.87 1043.05,233.85" fill="#3a3835"/>
<polygon points="1045.49,229.57 1046.71,229.59 1046.71,233.92 1045.49,233.89" fill="#3a3835"/>
<polygon points="1047.94,229.61 1049.16,229.64 1049.16,233.96 1047.94,233.94" fill="#3a3835"/>
<polygon points="1035.23,233.96 1038.16,234.02 1036.7,229.13" fill="#2a2a2a"/>
<polygon points="1052.83,229.44 1055.76,229.49 1054.29,234.33" fill="#2a2a2a"/>
<ellipse cx="1064.57" cy="218.83" rx="1.9" ry="3.4" fill="#111"/>
<ellipse cx="1064.57" cy="231.28" rx="1.9" ry="3.4" fill="#111"/>
<ellipse cx="1064.57" cy="243.74" rx="1.9" ry="3.4" fill="#111"/>
<polygon points="1071.8,213.28 1124.31,214.23 1124.31,251.45 1071.8,250.38" fill="#5e5e5e"/>
<polygon points="1072.51,214.1 1097.31,214.55 1097.31,227.84 1072.51,227.37" fill="#141414"/>
<polygon points="1098.74,214.58 1123.6,215.03 1123.6,228.34 1098.74,227.87" fill="#141414"/>
<polygon points="1072.51,237.12 1097.31,237.61 1097.31,250.08 1072.51,249.58" fill="#141414"/>
<polygon points="1098.74,237.63 1123.6,238.12 1123.6,250.62 1098.74,250.11" fill="#141414"/>
<polygon points="1072.51,227.37 1123.6,228.34 1123.6,238.12 1072.51,237.12" fill="#b9b5ad"/>
<polygon points="1079.95,230.22 1081.19,230.25 1081.19,234.58 1079.95,234.56" fill="#3a3835"/>
<polygon points="1082.43,230.27 1083.67,230.29 1083.67,234.63 1082.43,234.61" fill="#3a3835"/>
<polygon points="1084.91,230.32 1086.15,230.34 1086.15,234.68 1084.91,234.65" fill="#3a3835"/>
<polygon points="1087.39,230.37 1088.63,230.39 1088.63,234.73 1087.39,234.7" fill="#3a3835"/>
<polygon points="1074.5,234.72 1077.47,234.78 1075.98,229.88" fill="#2a2a2a"/>
<polygon points="1092.35,230.19 1095.33,230.25 1093.84,235.1" fill="#2a2a2a"/>
<polygon points="1106.19,230.72 1107.43,230.75 1107.43,235.09 1106.19,235.07" fill="#3a3835"/>
<polygon points="1108.68,230.77 1109.92,230.8 1109.92,235.14 1108.68,235.11" fill="#3a3835"/>
<polygon points="1111.16,230.82 1112.41,230.84 1112.41,235.19 1111.16,235.16" fill="#3a3835"/>
<polygon points="1113.65,230.87 1114.89,230.89 1114.89,235.23 1113.65,235.21" fill="#3a3835"/>
<polygon points="1100.73,235.23 1103.71,235.29 1102.22,230.38" fill="#2a2a2a"/>
<polygon points="1118.62,230.69 1121.61,230.75 1120.11,235.61" fill="#2a2a2a"/>
<ellipse cx="1130.49" cy="220.04" rx="1.9" ry="3.4" fill="#111"/>
<ellipse cx="1130.49" cy="232.55" rx="1.9" ry="3.4" fill="#111"/>
<ellipse cx="1130.49" cy="245.05" rx="1.9" ry="3.4" fill="#111"/>
<polygon points="1137.12,214.46 1190.48,215.42 1190.48,252.79 1137.12,251.71" fill="#5e5e5e"/>
<polygon points="1137.83,215.28 1163.05,215.74 1163.05,229.08 1137.83,228.61" fill="#141414"/>
<polygon points="1164.48,215.77 1189.76,216.22 1189.76,229.59 1164.48,229.11" fill="#141414"/>
<polygon points="1137.83,238.4 1163.05,238.89 1163.05,251.42 1137.83,250.9" fill="#141414"/>
<polygon points="1164.48,238.92 1189.76,239.41 1189.76,251.96 1164.48,251.44" fill="#141414"/>
<polygon points="1137.83,228.61 1189.76,229.59 1189.76,239.41 1137.83,238.4" fill="#b9b5ad"/>
<polygon points="1145.39,231.47 1146.65,231.5 1146.65,235.85 1145.39,235.82" fill="#3a3835"/>
<polygon points="1147.91,231.52 1149.17,231.54 1149.17,235.9 1147.91,235.87" fill="#3a3835"/>
<polygon points="1150.43,231.57 1151.7,231.59 1151.7,235.95 1150.43,235.92" fill="#3a3835"/>
<polygon points="1152.96,231.62 1154.22,231.64 1154.22,235.99 1152.96,235.97" fill="#3a3835"/>
<polygon points="1139.85,235.99 1142.87,236.05 1141.36,231.12" fill="#2a2a2a"/>
<polygon points="1158,231.44 1161.03,231.5 1159.52,236.37" fill="#2a2a2a"/>
<polygon points="1172.06,231.98 1173.33,232 1173.33,236.36 1172.06,236.34" fill="#3a3835"/>
<polygon points="1174.59,232.03 1175.85,232.05 1175.85,236.41 1174.59,236.39" fill="#3a3835"/>
<polygon points="1177.12,232.08 1178.38,232.1 1178.38,236.46 1177.12,236.44" fill="#3a3835"/>
<polygon points="1179.64,232.12 1180.91,232.15 1180.91,236.51 1179.64,236.49" fill="#3a3835"/>
<polygon points="1166.5,236.5 1169.54,236.56 1168.02,231.63" fill="#2a2a2a"/>
<polygon points="1184.7,231.95 1187.74,232.01 1186.22,236.89" fill="#2a2a2a"/>
<ellipse cx="1196.69" cy="221.26" rx="1.9" ry="3.4" fill="#111"/>
<ellipse cx="1196.69" cy="233.81" rx="1.9" ry="3.4" fill="#111"/>
<ellipse cx="1196.69" cy="246.37" rx="1.9" ry="3.4" fill="#111"/>
<polygon points="1204.61,215.67 1258.85,216.65 1258.85,254.18 1204.61,253.08" fill="#5e5e5e"/>
<polygon points="1205.33,216.5 1230.98,216.97 1230.98,230.37 1205.33,229.88" fill="#141414"/>
<polygon points="1232.42,216.99 1258.13,217.46 1258.13,230.88 1232.42,230.4" fill="#141414"/>
<polygon points="1205.33,239.71 1230.98,240.21 1230.98,252.79 1205.33,252.27" fill="#141414"/>
<polygon points="1232.42,240.24 1258.13,240.74 1258.13,253.34 1232.42,252.82" fill="#141414"/>
<polygon points="1205.33,229.88 1258.13,230.88 1258.13,240.74 1205.33,239.71" fill="#b9b5ad"/>
<polygon points="1213.02,232.76 1214.3,232.79 1214.3,237.16 1213.02,237.13" fill="#3a3835"/>
<polygon points="1215.58,232.81 1216.87,232.83 1216.87,237.21 1215.58,237.18" fill="#3a3835"/>
<polygon points="1218.15,232.86 1219.43,232.88 1219.43,237.26 1218.15,237.23" fill="#3a3835"/>
<polygon points="1220.71,232.91 1222,232.93 1222,237.3 1220.71,237.28" fill="#3a3835"/>
<polygon points="1207.38,237.3 1210.46,237.35 1208.92,232.41" fill="#2a2a2a"/>
<polygon points="1225.85,232.73 1228.93,232.79 1227.39,237.68" fill="#2a2a2a"/>
<polygon points="1240.13,233.28 1241.41,233.3 1241.41,237.68 1240.13,237.66" fill="#3a3835"/>
<polygon points="1242.7,233.33 1243.98,233.35 1243.98,237.73 1242.7,237.7" fill="#3a3835"/>
<polygon points="1245.27,233.38 1246.55,233.4 1246.55,237.78 1245.27,237.75" fill="#3a3835"/>
<polygon points="1247.84,233.42 1249.12,233.45 1249.12,237.83 1247.84,237.8" fill="#3a3835"/>
<polygon points="1234.48,237.82 1237.56,237.88 1236.02,232.93" fill="#2a2a2a"/>
<polygon points="1252.98,233.25 1256.07,233.31 1254.53,238.21" fill="#2a2a2a"/>
<ellipse cx="1265.1" cy="222.52" rx="1.9" ry="3.4" fill="#111"/>
<ellipse cx="1265.1" cy="235.12" rx="1.9" ry="3.4" fill="#111"/>
<ellipse cx="1265.1" cy="247.73" rx="1.9" ry="3.4" fill="#111"/>
<polygon points="1273.22,216.91 1328.35,217.9 1328.35,255.59 1273.22,254.47" fill="#5e5e5e"/>
<polygon points="1273.94,217.75 1300.02,218.22 1300.02,231.67 1273.94,231.18" fill="#141414"/>
<polygon points="1301.48,218.24 1327.62,218.72 1327.62,232.19 1301.48,231.7" fill="#141414"/>
<polygon points="1273.94,241.05 1300.02,241.56 1300.02,254.19 1273.94,253.66" fill="#141414"/>
<polygon points="1301.48,241.59 1327.62,242.1 1327.62,254.75 1301.48,254.22" fill="#141414"/>
<polygon points="1273.94,231.18 1327.62,232.19 1327.62,242.1 1273.94,241.05" fill="#b9b5ad"/>
<polygon points="1281.76,234.07 1283.07,234.1 1283.07,238.49 1281.76,238.46" fill="#3a3835"/>
<polygon points="1284.37,234.12 1285.67,234.15 1285.67,238.54 1284.37,238.51" fill="#3a3835"/>
<polygon points="1286.98,234.17 1288.28,234.2 1288.28,238.59 1286.98,238.56" fill="#3a3835"/>
<polygon points="1289.59,234.22 1290.89,234.25 1290.89,238.64 1289.59,238.61" fill="#3a3835"/>
<polygon points="1276.03,238.62 1279.16,238.68 1277.59,233.72" fill="#2a2a2a"/>
<polygon points="1294.8,234.05 1297.94,234.1 1296.37,239.02" fill="#2a2a2a"/>
<polygon points="1309.31,234.6 1310.62,234.62 1310.62,239.02 1309.31,238.99" fill="#3a3835"/>
<polygon points="1311.93,234.65 1313.23,234.67 1313.23,239.07 1311.93,239.04" fill="#3a3835"/>
<polygon points="1314.54,234.7 1315.85,234.72 1315.85,239.12 1314.54,239.09" fill="#3a3835"/>
<polygon points="1317.15,234.75 1318.46,234.77 1318.46,239.17 1317.15,239.14" fill="#3a3835"/>
<polygon points="1303.56,239.16 1306.7,239.22 1305.13,234.24" fill="#2a2a2a"/>
<polygon points="1322.38,234.57 1325.52,234.63 1323.95,239.55" fill="#2a2a2a"/>
<ellipse cx="1334.63" cy="223.8" rx="1.9" ry="3.4" fill="#111"/>
<ellipse cx="1334.63" cy="236.45" rx="1.9" ry="3.4" fill="#111"/>
<ellipse cx="1334.63" cy="249.11" rx="1.9" ry="3.4" fill="#111"/>
<polygon points="1342.14,218.15 1398.16,219.16 1398.16,257.01 1342.14,255.87" fill="#5e5e5e"/>
<polygon points="1342.87,218.99 1369.39,219.47 1369.39,232.98 1342.87,232.48" fill="#141414"/>
<polygon points="1370.85,219.5 1397.43,219.98 1397.43,233.51 1370.85,233.01" fill="#141414"/>
<polygon points="1342.87,242.39 1369.39,242.91 1369.39,255.6 1342.87,255.06" fill="#141414"/>
<polygon points="1370.85,242.94 1397.43,243.46 1397.43,256.17 1370.85,255.63" fill="#141414"/>
<polygon points="1342.87,232.48 1397.43,233.51 1397.43,243.46 1342.87,242.39" fill="#b9b5ad"/>
<polygon points="1350.82,235.39 1352.14,235.41 1352.14,239.82 1350.82,239.8" fill="#3a3835"/>
<polygon points="1353.47,235.44 1354.8,235.46 1354.8,239.87 1353.47,239.85" fill="#3a3835"/>
<polygon points="1356.12,235.49 1357.45,235.51 1357.45,239.92 1356.12,239.9" fill="#3a3835"/>
<polygon points="1358.77,235.54 1360.1,235.56 1360.1,239.97 1358.77,239.95" fill="#3a3835"/>
<polygon points="1344.99,239.96 1348.17,240.02 1346.58,235.03" fill="#2a2a2a"/>
<polygon points="1364.08,235.36 1367.26,235.43 1365.67,240.36" fill="#2a2a2a"/>
<polygon points="1378.82,235.92 1380.14,235.95 1380.14,240.36 1378.82,240.34" fill="#3a3835"/>
<polygon points="1381.47,235.97 1382.8,236 1382.8,240.41 1381.47,240.39" fill="#3a3835"/>
<polygon points="1384.13,236.02 1385.46,236.05 1385.46,240.46 1384.13,240.44" fill="#3a3835"/>
<polygon points="1386.79,236.07 1388.12,236.1 1388.12,240.52 1386.79,240.49" fill="#3a3835"/>
<polygon points="1372.97,240.5 1376.16,240.56 1374.57,235.56" fill="#2a2a2a"/>
<polygon points="1392.11,235.9 1395.3,235.96 1393.71,240.9" fill="#2a2a2a"/>
<polygon points="1406.48,225.67 1433.05,226.16 1433.05,256.61 1406.48,256.07" fill="#7c7c7c"/>
<polygon points="1407.5,226.79 1432.03,227.25 1432.03,255.48 1407.5,254.99" fill="#c2c2c2"/>
<polygon points="1409.54,229.6 1429.98,229.98 1429.98,239.94 1409.54,239.55" fill="#131313"/>
<polygon points="1409.54,244.52 1429.98,244.92 1429.98,254.33 1409.54,253.92" fill="#131313"/>
<polygon points="1440.22,239.03 1450.15,239.22 1450.15,256.96 1440.22,256.76" fill="#1c1c1c"/>
<polygon points="1442.26,241.29 1448.41,241.4 1448.41,254.71 1442.26,254.58" fill="#3a3a3a"/>
<rect x="1407.76" y="259.17" width="24" height="3.2" fill="#262626" rx="1.6"/>
<rect x="1408.36" y="259.67" width="6" height="2.2" fill="#dddddd" rx="1.1"/>
<rect x="1440.34" y="259.69" width="10" height="3.2" fill="#262626" rx="1.6"/>
<rect x="1440.94" y="260.19" width="2.5" height="2.2" fill="#dddddd" rx="1.1"/>
<g transform="matrix(1,0.017559,0,1,0,-15.3549)">
<text x="878" y="254.2" font-size="5.4" fill="#3558b8" font-family="Liberation Sans" font-weight="bold" textLength="26.5" lengthAdjust="spacingAndGlyphs">C<tspan font-size="4.21">ORE</tspan> E<tspan font-size="4.21">DGE</tspan></text>
<text x="906" y="254.2" font-size="3.35" fill="#3558b8" font-family="Liberation Sans" textLength="22.5" lengthAdjust="spacingAndGlyphs">C5000-32QFP</text>
</g>
<rect x="929.52" y="250.86" width="14" height="3.2" fill="#262626" rx="1.6"/>
<rect x="930.12" y="251.36" width="3.5" height="2.2" fill="#dddddd" rx="1.1"/>
<rect x="950.4" y="251.29" width="14" height="3.2" fill="#262626" rx="1.6"/>
<rect x="951" y="251.79" width="3.5" height="2.2" fill="#dddddd" rx="1.1"/>
<rect x="971.32" y="251.73" width="14" height="3.2" fill="#262626" rx="1.6"/>
<rect x="971.92" y="252.23" width="3.5" height="2.2" fill="#dddddd" rx="1.1"/>
<rect x="992.28" y="252.16" width="14" height="3.2" fill="#262626" rx="1.6"/>
<rect x="992.88" y="252.66" width="3.5" height="2.2" fill="#dddddd" rx="1.1"/>
<rect x="1013.28" y="252.59" width="14" height="3.2" fill="#262626" rx="1.6"/>
<rect x="1013.88" y="253.09" width="3.5" height="2.2" fill="#dddddd" rx="1.1"/>
<rect x="1034.31" y="253.02" width="14" height="3.2" fill="#262626" rx="1.6"/>
<rect x="1034.91" y="253.52" width="3.5" height="2.2" fill="#dddddd" rx="1.1"/>
<rect x="1055.39" y="253.46" width="14" height="3.2" fill="#262626" rx="1.6"/>
<rect x="1055.99" y="253.96" width="3.5" height="2.2" fill="#dddddd" rx="1.1"/>
<polygon points="879.4,274.98 992.44,277.58 992.44,318.2 879.4,315.14" fill="#707070"/>
<polygon points="880.28,276.32 991.55,278.9 991.55,316.84 880.28,313.84" fill="#c4c4c4"/>
<polygon points="881.58,279.35 897.46,279.72 897.46,292.88 881.58,292.49" fill="#131313"/>
<polygon points="884.9,277.18 894.13,277.39 894.13,280.4 884.9,280.18" fill="#d6d6d6"/>
<polygon points="886.93,280.23 892.1,280.35 892.1,282.23 886.93,282.11" fill="#d0d0d0"/>
<polygon points="900.05,279.79 915.96,280.16 915.96,293.34 900.05,292.94" fill="#131313"/>
<polygon points="903.38,277.61 912.62,277.82 912.62,280.83 903.38,280.62" fill="#d6d6d6"/>
<polygon points="905.41,280.66 910.59,280.79 910.59,282.67 905.41,282.54" fill="#d0d0d0"/>
<polygon points="918.55,280.22 934.48,280.59 934.48,293.8 918.55,293.4" fill="#131313"/>
<polygon points="921.88,278.04 931.15,278.25 931.15,281.27 921.88,281.05" fill="#d6d6d6"/>
<polygon points="923.92,281.1 929.11,281.22 929.11,283.11 923.92,282.98" fill="#d0d0d0"/>
<polygon points="937.08,280.65 953.04,281.03 953.04,294.26 937.08,293.86" fill="#131313"/>
<polygon points="940.42,278.47 949.7,278.68 949.7,281.71 940.42,281.49" fill="#d6d6d6"/>
<polygon points="942.46,281.54 947.66,281.66 947.66,283.55 942.46,283.42" fill="#d0d0d0"/>
<polygon points="955.64,281.09 971.63,281.47 971.63,294.72 955.64,294.32" fill="#131313"/>
<polygon points="958.99,278.9 968.28,279.12 968.28,282.14 958.99,281.93" fill="#d6d6d6"/>
<polygon points="961.03,281.97 966.24,282.1 966.24,283.99 961.03,283.86" fill="#d0d0d0"/>
<polygon points="974.24,281.53 990.25,281.9 990.25,295.18 974.24,294.78" fill="#131313"/>
<polygon points="977.59,279.33 986.9,279.55 986.9,282.58 977.59,282.36" fill="#d6d6d6"/>
<polygon points="979.63,282.41 984.85,282.53 984.85,284.43 979.63,284.31" fill="#d0d0d0"/>
<polygon points="881.58,297.36 897.46,297.77 897.46,309.42 881.58,309" fill="#131313"/>
<polygon points="885.82,309.11 893.21,309.3 893.21,311.56 885.82,311.36" fill="#131313"/>
<polygon points="884.34,311.32 894.69,311.6 894.69,313.66 884.34,313.39" fill="#d6d6d6"/>
<polygon points="900.05,297.83 915.96,298.23 915.96,309.91 900.05,309.48" fill="#131313"/>
<polygon points="904.3,309.6 911.7,309.79 911.7,312.05 904.3,311.85" fill="#131313"/>
<polygon points="902.82,311.81 913.18,312.09 913.18,314.16 902.82,313.88" fill="#d6d6d6"/>
<polygon points="918.55,298.3 934.48,298.7 934.48,310.4 918.55,309.97" fill="#131313"/>
<polygon points="922.81,310.09 930.22,310.28 930.22,312.55 922.81,312.35" fill="#131313"/>
<polygon points="921.33,312.31 931.7,312.58 931.7,314.66 921.33,314.38" fill="#d6d6d6"/>
<polygon points="937.08,298.77 953.04,299.17 953.04,310.89 937.08,310.46" fill="#131313"/>
<polygon points="941.35,310.58 948.77,310.77 948.77,313.04 941.35,312.84" fill="#131313"/>
<polygon points="939.86,312.8 950.26,313.08 950.26,315.16 939.86,314.88" fill="#d6d6d6"/>
<polygon points="955.64,299.24 971.63,299.64 971.63,311.38 955.64,310.96" fill="#131313"/>
<polygon points="959.92,311.07 967.35,311.27 967.35,313.54 959.92,313.34" fill="#131313"/>
<polygon points="958.43,313.3 968.84,313.58 968.84,315.66 958.43,315.38" fill="#d6d6d6"/>
<polygon points="974.24,299.71 990.25,300.11 990.25,311.87 974.24,311.45" fill="#131313"/>
<polygon points="978.52,311.56 985.97,311.76 985.97,314.03 978.52,313.83" fill="#131313"/>
<polygon points="977.03,313.79 987.46,314.07 987.46,316.16 977.03,315.88" fill="#d6d6d6"/>
<polygon points="996.38,278.74 1113.98,281.46 1113.98,322.57 996.38,319.37" fill="#707070"/>
<polygon points="997.27,280.1 1113.08,282.8 1113.08,321.19 997.27,318.06" fill="#c4c4c4"/>
<polygon points="998.61,283.17 1015.14,283.56 1015.14,296.87 998.61,296.46" fill="#131313"/>
<polygon points="1002.07,280.97 1011.68,281.2 1011.68,284.24 1002.07,284.01" fill="#d6d6d6"/>
<polygon points="1004.18,284.06 1009.57,284.19 1009.57,286.09 1004.18,285.96" fill="#d0d0d0"/>
<polygon points="1017.84,283.62 1034.39,284.01 1034.39,297.35 1017.84,296.94" fill="#131313"/>
<polygon points="1021.3,281.42 1030.93,281.64 1030.93,284.69 1021.3,284.46" fill="#d6d6d6"/>
<polygon points="1023.42,284.51 1028.81,284.64 1028.81,286.55 1023.42,286.42" fill="#d0d0d0"/>
<polygon points="1037.09,284.08 1053.68,284.47 1053.68,297.83 1037.09,297.41" fill="#131313"/>
<polygon points="1040.56,281.87 1050.2,282.1 1050.2,285.15 1040.56,284.92" fill="#d6d6d6"/>
<polygon points="1042.68,284.97 1048.08,285.1 1048.08,287.01 1042.68,286.88" fill="#d0d0d0"/>
<polygon points="1056.38,284.53 1072.99,284.92 1072.99,298.31 1056.38,297.9" fill="#131313"/>
<polygon points="1059.86,282.32 1069.51,282.55 1069.51,285.6 1059.86,285.38" fill="#d6d6d6"/>
<polygon points="1061.98,285.43 1067.39,285.55 1067.39,287.47 1061.98,287.34" fill="#d0d0d0"/>
<polygon points="1075.7,284.99 1092.34,285.38 1092.34,298.79 1075.7,298.38" fill="#131313"/>
<polygon points="1079.18,282.77 1088.86,283 1088.86,286.06 1079.18,285.83" fill="#d6d6d6"/>
<polygon points="1081.31,285.88 1086.73,286.01 1086.73,287.93 1081.31,287.8" fill="#d0d0d0"/>
<polygon points="1095.05,285.44 1111.73,285.84 1111.73,299.27 1095.05,298.86" fill="#131313"/>
<polygon points="1098.54,283.22 1108.23,283.45 1108.23,286.52 1098.54,286.29" fill="#d6d6d6"/>
<polygon points="1100.67,286.34 1106.1,286.47 1106.1,288.39 1100.67,288.26" fill="#d0d0d0"/>
<polygon points="998.61,301.39 1015.14,301.81 1015.14,313.6 998.61,313.16" fill="#131313"/>
<polygon points="1003.03,313.28 1010.72,313.48 1010.72,315.76 1003.03,315.56" fill="#131313"/>
<polygon points="1001.5,315.52 1012.26,315.81 1012.26,317.9 1001.5,317.61" fill="#d6d6d6"/>
<polygon points="1017.84,301.88 1034.39,302.3 1034.39,314.11 1017.84,313.67" fill="#131313"/>
<polygon points="1022.26,313.79 1029.96,313.99 1029.96,316.28 1022.26,316.07" fill="#131313"/>
<polygon points="1020.72,316.03 1031.5,316.32 1031.5,318.42 1020.72,318.12" fill="#d6d6d6"/>
<polygon points="1037.09,302.37 1053.68,302.79 1053.68,314.62 1037.09,314.18" fill="#131313"/>
<polygon points="1041.53,314.3 1049.24,314.51 1049.24,316.8 1041.53,316.59" fill="#131313"/>
<polygon points="1039.98,316.55 1050.78,316.84 1050.78,318.94 1039.98,318.64" fill="#d6d6d6"/>
<polygon points="1056.38,302.86 1072.99,303.28 1072.99,315.14 1056.38,314.7" fill="#131313"/>
<polygon points="1060.82,314.81 1068.55,315.02 1068.55,317.31 1060.82,317.11" fill="#131313"/>
<polygon points="1059.28,317.07 1070.09,317.35 1070.09,319.46 1059.28,319.17" fill="#d6d6d6"/>
<polygon points="1075.7,303.35 1092.34,303.77 1092.34,315.65 1075.7,315.21" fill="#131313"/>
<polygon points="1080.15,315.33 1087.89,315.53 1087.89,317.83 1080.15,317.62" fill="#131313"/>
<polygon points="1078.6,317.58 1089.44,317.87 1089.44,319.98 1078.6,319.69" fill="#d6d6d6"/>
<polygon points="1095.05,303.84 1111.73,304.26 1111.73,316.17 1095.05,315.72" fill="#131313"/>
<polygon points="1099.51,315.84 1107.26,316.05 1107.26,318.35 1099.51,318.14" fill="#131313"/>
<polygon points="1097.96,318.1 1108.82,318.39 1108.82,320.5 1097.96,320.21" fill="#d6d6d6"/>
<polygon points="1118.76,285.36 1172.04,286.62 1172.04,325.78 1118.76,324.32" fill="#5e5e5e"/>
<polygon points="1119.36,286.46 1144.77,287.06 1144.77,301.6 1119.36,300.96" fill="#141414"/>
<polygon points="1119.36,309.53 1144.77,310.19 1144.77,323.95 1119.36,323.26" fill="#141414"/>
<polygon points="1119.36,300.96 1144.77,301.6 1144.77,310.19 1119.36,309.53" fill="#c9c5bd"/>
<polygon points="1126.97,303.49 1128.24,303.52 1128.24,307.42 1126.97,307.39" fill="#333"/>
<polygon points="1129.51,303.56 1130.78,303.59 1130.78,307.49 1129.51,307.46" fill="#333"/>
<polygon points="1132.06,303.62 1133.33,303.65 1133.33,307.55 1132.06,307.52" fill="#333"/>
<polygon points="1134.6,303.69 1135.87,303.72 1135.87,307.62 1134.6,307.59" fill="#333"/>
<polygon points="1121.39,307.64 1124.43,307.72 1122.91,303" fill="#222"/>
<polygon points="1139.68,303.42 1142.73,303.5 1141.21,308.15" fill="#222"/>
<polygon points="1145.97,287.09 1171.44,287.69 1171.44,302.27 1145.97,301.63" fill="#141414"/>
<polygon points="1145.97,310.22 1171.44,310.88 1171.44,324.68 1145.97,323.98" fill="#141414"/>
<polygon points="1145.97,301.63 1171.44,302.27 1171.44,310.88 1145.97,310.22" fill="#c9c5bd"/>
<polygon points="1153.6,304.17 1154.88,304.2 1154.88,308.11 1153.6,308.08" fill="#333"/>
<polygon points="1156.15,304.23 1157.42,304.26 1157.42,308.17 1156.15,308.14" fill="#333"/>
<polygon points="1158.7,304.29 1159.97,304.33 1159.97,308.24 1158.7,308.21" fill="#333"/>
<polygon points="1161.24,304.36 1162.52,304.39 1162.52,308.3 1161.24,308.27" fill="#333"/>
<polygon points="1148,308.32 1151.06,308.4 1149.53,303.67" fill="#222"/>
<polygon points="1166.34,304.1 1169.4,304.17 1167.87,308.83" fill="#222"/>
<polygon points="1178.04,287.85 1205.39,288.49 1205.39,327.78 1178.04,327.03" fill="#5e5e5e"/>
<polygon points="1178.64,288.95 1204.79,289.57 1204.79,304.19 1178.64,303.54" fill="#141414"/>
<polygon points="1178.64,312.16 1204.79,312.84 1204.79,326.68 1178.64,325.96" fill="#141414"/>
<polygon points="1178.64,303.54 1204.79,304.19 1204.79,312.84 1178.64,312.16" fill="#c9c5bd"/>
<polygon points="1186.48,306.09 1187.79,306.12 1187.79,310.04 1186.48,310.01" fill="#333"/>
<polygon points="1189.1,306.15 1190.4,306.19 1190.4,310.11 1189.1,310.08" fill="#333"/>
<polygon points="1191.71,306.22 1193.02,306.25 1193.02,310.18 1191.71,310.14" fill="#333"/>
<polygon points="1194.32,306.29 1195.63,306.32 1195.63,310.24 1194.32,310.21" fill="#333"/>
<polygon points="1180.73,310.25 1183.87,310.33 1182.3,305.59" fill="#222"/>
<polygon points="1199.56,306.03 1202.7,306.11 1201.13,310.78" fill="#222"/>
<polygon points="1210.11,283.69 1334.81,286.57 1334.81,329.13 1210.11,325.73" fill="#707070"/>
<polygon points="1211.01,285.07 1333.9,287.94 1333.9,327.72 1211.01,324.39" fill="#c4c4c4"/>
<polygon points="1212.44,288.25 1229.97,288.67 1229.97,302.45 1212.44,302.02" fill="#131313"/>
<polygon points="1216.11,285.98 1226.3,286.22 1226.3,289.37 1216.11,289.13" fill="#d6d6d6"/>
<polygon points="1218.35,289.18 1224.06,289.32 1224.06,291.28 1218.35,291.15" fill="#d0d0d0"/>
<polygon points="1232.83,288.73 1250.4,289.15 1250.4,302.96 1232.83,302.52" fill="#131313"/>
<polygon points="1236.51,286.46 1246.72,286.7 1246.72,289.85 1236.51,289.61" fill="#d6d6d6"/>
<polygon points="1238.75,289.66 1244.47,289.8 1244.47,291.77 1238.75,291.63" fill="#d0d0d0"/>
<polygon points="1253.26,289.22 1270.86,289.63 1270.86,303.47 1253.26,303.03" fill="#131313"/>
<polygon points="1256.94,286.93 1267.17,287.17 1267.17,290.34 1256.94,290.09" fill="#d6d6d6"/>
<polygon points="1259.19,290.15 1264.92,290.28 1264.92,292.26 1259.19,292.12" fill="#d0d0d0"/>
<polygon points="1273.72,289.7 1291.35,290.11 1291.35,303.98 1273.72,303.54" fill="#131313"/>
<polygon points="1277.41,287.41 1287.66,287.65 1287.66,290.82 1277.41,290.58" fill="#d6d6d6"/>
<polygon points="1279.67,290.63 1285.41,290.77 1285.41,292.75 1279.67,292.61" fill="#d0d0d0"/>
<polygon points="1294.23,290.18 1311.89,290.6 1311.89,304.49 1294.23,304.05" fill="#131313"/>
<polygon points="1297.92,287.89 1308.19,288.13 1308.19,291.31 1297.92,291.06" fill="#d6d6d6"/>
<polygon points="1300.18,291.12 1305.93,291.25 1305.93,293.24 1300.18,293.1" fill="#d0d0d0"/>
<polygon points="1314.76,290.67 1332.46,291.08 1332.46,305.01 1314.76,304.57" fill="#131313"/>
<polygon points="1318.46,288.37 1328.75,288.61 1328.75,291.79 1318.46,291.55" fill="#d6d6d6"/>
<polygon points="1320.73,291.6 1326.49,291.74 1326.49,293.73 1320.73,293.59" fill="#d0d0d0"/>
<polygon points="1212.44,307.13 1229.97,307.57 1229.97,319.78 1212.44,319.32" fill="#131313"/>
<polygon points="1217.13,319.44 1225.28,319.66 1225.28,322.02 1217.13,321.8" fill="#131313"/>
<polygon points="1215.5,321.76 1226.91,322.06 1226.91,324.23 1215.5,323.92" fill="#d6d6d6"/>
<polygon points="1232.83,307.65 1250.4,308.09 1250.4,320.33 1232.83,319.86" fill="#131313"/>
<polygon points="1237.53,319.98 1245.7,320.2 1245.7,322.57 1237.53,322.35" fill="#131313"/>
<polygon points="1235.89,322.31 1247.33,322.61 1247.33,324.78 1235.89,324.47" fill="#d6d6d6"/>
<polygon points="1253.26,308.17 1270.86,308.61 1270.86,320.87 1253.26,320.4" fill="#131313"/>
<polygon points="1257.96,320.53 1266.15,320.75 1266.15,323.12 1257.96,322.9" fill="#131313"/>
<polygon points="1256.33,322.85 1267.79,323.16 1267.79,325.34 1256.33,325.03" fill="#d6d6d6"/>
<polygon points="1273.72,308.69 1291.35,309.13 1291.35,321.42 1273.72,320.95" fill="#131313"/>
<polygon points="1278.44,321.07 1286.64,321.29 1286.64,323.67 1278.44,323.45" fill="#131313"/>
<polygon points="1276.8,323.4 1288.28,323.71 1288.28,325.89 1276.8,325.58" fill="#d6d6d6"/>
<polygon points="1294.23,309.21 1311.89,309.66 1311.89,321.96 1294.23,321.49" fill="#131313"/>
<polygon points="1298.95,321.62 1307.16,321.84 1307.16,324.22 1298.95,324" fill="#131313"/>
<polygon points="1297.3,323.95 1308.8,324.26 1308.8,326.45 1297.3,326.13" fill="#d6d6d6"/>
<polygon points="1314.76,309.73 1332.46,310.18 1332.46,322.51 1314.76,322.04" fill="#131313"/>
<polygon points="1319.49,322.17 1327.72,322.38 1327.72,324.77 1319.49,324.55" fill="#131313"/>
<polygon points="1317.85,324.51 1329.37,324.81 1329.37,327 1317.85,326.69" fill="#d6d6d6"/>
<polygon points="1338.06,286.65 1466.53,289.62 1466.53,332.72 1338.06,329.22" fill="#707070"/>
<polygon points="1338.97,288.05 1465.6,291 1465.6,331.29 1338.97,327.86" fill="#c4c4c4"/>
<polygon points="1340.44,291.27 1358.51,291.7 1358.51,305.66 1340.44,305.21" fill="#131313"/>
<polygon points="1344.22,288.97 1354.73,289.22 1354.73,292.41 1344.22,292.16" fill="#d6d6d6"/>
<polygon points="1346.53,292.21 1352.41,292.35 1352.41,294.34 1346.53,294.2" fill="#d0d0d0"/>
<polygon points="1361.45,291.77 1379.55,292.19 1379.55,306.18 1361.45,305.73" fill="#131313"/>
<polygon points="1365.24,289.46 1375.76,289.71 1375.76,292.9 1365.24,292.66" fill="#d6d6d6"/>
<polygon points="1367.55,292.71 1373.45,292.85 1373.45,294.85 1367.55,294.71" fill="#d0d0d0"/>
<polygon points="1382.5,292.26 1400.64,292.69 1400.64,306.71 1382.5,306.25" fill="#131313"/>
<polygon points="1386.3,289.95 1396.84,290.2 1396.84,293.4 1386.3,293.15" fill="#d6d6d6"/>
<polygon points="1388.61,293.21 1394.52,293.35 1394.52,295.35 1388.61,295.21" fill="#d0d0d0"/>
<polygon points="1403.59,292.76 1421.76,293.19 1421.76,307.23 1403.59,306.78" fill="#131313"/>
<polygon points="1407.39,290.45 1417.95,290.69 1417.95,293.9 1407.39,293.65" fill="#d6d6d6"/>
<polygon points="1409.71,293.71 1415.63,293.85 1415.63,295.85 1409.71,295.71" fill="#d0d0d0"/>
<polygon points="1424.72,293.26 1442.92,293.69 1442.92,307.76 1424.72,307.31" fill="#131313"/>
<polygon points="1428.52,290.94 1439.1,291.19 1439.1,294.4 1428.52,294.15" fill="#d6d6d6"/>
<polygon points="1430.85,294.21 1436.78,294.35 1436.78,296.36 1430.85,296.22" fill="#d0d0d0"/>
<polygon points="1445.88,293.76 1464.12,294.19 1464.12,308.29 1445.88,307.83" fill="#131313"/>
<polygon points="1449.7,291.44 1460.3,291.68 1460.3,294.9 1449.7,294.65" fill="#d6d6d6"/>
<polygon points="1452.03,294.71 1457.96,294.85 1457.96,296.86 1452.03,296.72" fill="#d0d0d0"/>
<polygon points="1340.44,310.38 1358.51,310.84 1358.51,323.2 1340.44,322.72" fill="#131313"/>
<polygon points="1345.27,322.85 1353.68,323.08 1353.68,325.47 1345.27,325.24" fill="#131313"/>
<polygon points="1343.59,325.2 1355.36,325.51 1355.36,327.7 1343.59,327.39" fill="#d6d6d6"/>
<polygon points="1361.45,310.92 1379.55,311.38 1379.55,323.76 1361.45,323.28" fill="#131313"/>
<polygon points="1366.29,323.41 1374.71,323.63 1374.71,326.03 1366.29,325.81" fill="#131313"/>
<polygon points="1364.61,325.76 1376.39,326.08 1376.39,328.27 1364.61,327.96" fill="#d6d6d6"/>
<polygon points="1382.5,311.45 1400.64,311.91 1400.64,324.32 1382.5,323.84" fill="#131313"/>
<polygon points="1387.35,323.97 1395.78,324.2 1395.78,326.6 1387.35,326.37" fill="#131313"/>
<polygon points="1385.66,326.33 1397.47,326.64 1397.47,328.84 1385.66,328.52" fill="#d6d6d6"/>
<polygon points="1403.59,311.99 1421.76,312.45 1421.76,324.89 1403.59,324.4" fill="#131313"/>
<polygon points="1408.45,324.53 1416.9,324.76 1416.9,327.16 1408.45,326.94" fill="#131313"/>
<polygon points="1406.76,326.89 1418.59,327.21 1418.59,329.42 1406.76,329.1" fill="#d6d6d6"/>
<polygon points="1424.72,312.52 1442.92,312.99 1442.92,325.45 1424.72,324.97" fill="#131313"/>
<polygon points="1429.58,325.1 1438.05,325.32 1438.05,327.73 1429.58,327.5" fill="#131313"/>
<polygon points="1427.89,327.46 1439.74,327.78 1439.74,329.99 1427.89,329.67" fill="#d6d6d6"/>
<polygon points="1445.88,313.06 1464.12,313.53 1464.12,326.01 1445.88,325.53" fill="#131313"/>
<polygon points="1450.76,325.66 1459.24,325.88 1459.24,328.3 1450.76,328.07" fill="#131313"/>
<polygon points="1449.06,328.03 1460.93,328.35 1460.93,330.56 1449.06,330.24" fill="#d6d6d6"/>
<g transform="matrix(1,0.022463,0,1,0,-19.5874)">
<text x="878.8" y="319.6" font-size="5.4" fill="#3558b8" font-family="Liberation Sans" font-weight="bold" textLength="27.8" lengthAdjust="spacingAndGlyphs">C<tspan font-size="4.21">ORE</tspan> E<tspan font-size="4.21">DGE</tspan></text>
<text x="908" y="319.6" font-size="3.35" fill="#3558b8" font-family="Liberation Sans" textLength="23.7" lengthAdjust="spacingAndGlyphs">C5000-48XGT</text>
</g>
<rect x="936.86" y="317.42" width="14.5" height="3.2" fill="#262626" rx="1.6"/>
<rect x="937.46" y="317.92" width="3.62" height="2.2" fill="#dddddd" rx="1.1"/>
<rect x="957.91" y="317.99" width="14.5" height="3.2" fill="#262626" rx="1.6"/>
<rect x="958.51" y="318.49" width="3.62" height="2.2" fill="#dddddd" rx="1.1"/>
<rect x="978.99" y="318.57" width="14.5" height="3.2" fill="#262626" rx="1.6"/>
<rect x="979.59" y="319.07" width="3.62" height="2.2" fill="#dddddd" rx="1.1"/>
<rect x="1000.12" y="319.14" width="14.5" height="3.2" fill="#262626" rx="1.6"/>
<rect x="1000.72" y="319.64" width="3.62" height="2.2" fill="#dddddd" rx="1.1"/>
<rect x="1021.28" y="319.72" width="14.5" height="3.2" fill="#262626" rx="1.6"/>
<rect x="1021.88" y="320.22" width="3.62" height="2.2" fill="#dddddd" rx="1.1"/>
<rect x="1042.48" y="320.3" width="14.5" height="3.2" fill="#262626" rx="1.6"/>
<rect x="1043.08" y="320.8" width="3.62" height="2.2" fill="#dddddd" rx="1.1"/>
<rect x="1063.73" y="320.88" width="14.5" height="3.2" fill="#262626" rx="1.6"/>
<rect x="1064.33" y="321.38" width="3.62" height="2.2" fill="#dddddd" rx="1.1"/>
<polygon points="877.04,336.17 1102.83,343.48 1102.83,382.26 877.04,374.32" fill="#7a7a7a"/>
<polygon points="877.74,337.25 894.98,337.81 894.98,351.27 877.74,350.69" fill="#141414"/>
<polygon points="877.74,359.85 894.98,360.44 894.98,373.9 877.74,373.29" fill="#141414"/>
<polygon points="896.39,337.85 913.65,338.41 913.65,351.89 896.39,351.31" fill="#141414"/>
<polygon points="896.39,360.48 913.65,361.07 913.65,374.55 896.39,373.95" fill="#141414"/>
<polygon points="915.07,338.46 932.36,339.02 932.36,352.52 915.07,351.94" fill="#141414"/>
<polygon points="915.07,361.12 932.36,361.71 932.36,375.21 915.07,374.6" fill="#141414"/>
<polygon points="933.78,339.06 951.1,339.63 951.1,353.14 933.78,352.56" fill="#141414"/>
<polygon points="933.78,361.76 951.1,362.35 951.1,375.87 933.78,375.26" fill="#141414"/>
<polygon points="952.51,339.67 969.86,340.23 969.86,353.77 952.51,353.19" fill="#141414"/>
<polygon points="952.51,362.4 969.86,362.99 969.86,376.52 952.51,375.92" fill="#141414"/>
<polygon points="971.28,340.28 988.66,340.84 988.66,354.4 971.28,353.82" fill="#141414"/>
<polygon points="971.28,363.04 988.66,363.63 988.66,377.18 971.28,376.57" fill="#141414"/>
<polygon points="990.09,340.89 1007.49,341.46 1007.49,355.03 990.09,354.45" fill="#141414"/>
<polygon points="990.09,363.68 1007.49,364.27 1007.49,377.84 990.09,377.23" fill="#141414"/>
<polygon points="1008.92,341.5 1026.36,342.07 1026.36,355.66 1008.92,355.08" fill="#141414"/>
<polygon points="1008.92,364.32 1026.36,364.91 1026.36,378.51 1008.92,377.89" fill="#141414"/>
<polygon points="1027.78,342.11 1045.25,342.68 1045.25,356.29 1027.78,355.71" fill="#141414"/>
<polygon points="1027.78,364.96 1045.25,365.56 1045.25,379.17 1027.78,378.56" fill="#141414"/>
<polygon points="1046.68,342.73 1064.17,343.29 1064.17,356.92 1046.68,356.34" fill="#141414"/>
<polygon points="1046.68,365.61 1064.17,366.2 1064.17,379.83 1046.68,379.22" fill="#141414"/>
<polygon points="1065.6,343.34 1083.13,343.91 1083.13,357.56 1065.6,356.97" fill="#141414"/>
<polygon points="1065.6,366.25 1083.13,366.85 1083.13,380.5 1065.6,379.88" fill="#141414"/>
<polygon points="1084.56,343.96 1102.12,344.53 1102.12,358.19 1084.56,357.6" fill="#141414"/>
<polygon points="1084.56,366.9 1102.12,367.5 1102.12,381.16 1084.56,380.55" fill="#141414"/>
<polygon points="877.04,350.67 1102.83,358.22 1102.83,367.52 877.04,359.82" fill="#d0cec9"/>
<polygon points="892.33,351.18 895.69,351.29 895.69,360.46 892.33,360.35" fill="#e6e4df"/>
<polygon points="882.26,358.48 885.61,358.59 883.94,352.43" fill="#151515"/>
<polygon points="886.36,352.51 889.72,352.62 888.04,358.67" fill="#151515"/>
<polygon points="882.63,349.71 889.34,349.93 889.34,351.46 882.63,351.24" fill="#3a3a3a"/>
<polygon points="882.63,359.63 889.34,359.86 889.34,361.39 882.63,361.16" fill="#3a3a3a"/>
<polygon points="911,351.8 914.36,351.92 914.36,361.1 911,360.98" fill="#e6e4df"/>
<polygon points="900.91,359.11 904.27,359.22 902.59,353.05" fill="#151515"/>
<polygon points="905.02,353.13 908.38,353.25 906.7,359.31" fill="#151515"/>
<polygon points="901.28,350.33 908.01,350.56 908.01,352.09 901.28,351.86" fill="#3a3a3a"/>
<polygon points="901.28,360.27 908.01,360.5 908.01,362.03 901.28,361.8" fill="#3a3a3a"/>
<polygon points="929.7,352.43 933.07,352.54 933.07,361.73 929.7,361.62" fill="#e6e4df"/>
<polygon points="919.6,359.74 922.96,359.86 921.28,353.68" fill="#151515"/>
<polygon points="923.71,353.76 927.08,353.87 925.39,359.94" fill="#151515"/>
<polygon points="919.97,350.95 926.7,351.18 926.7,352.71 919.97,352.49" fill="#3a3a3a"/>
<polygon points="919.97,360.91 926.7,361.13 926.7,362.67 919.97,362.44" fill="#3a3a3a"/>
<polygon points="948.43,353.05 951.81,353.17 951.81,362.37 948.43,362.26" fill="#e6e4df"/>
<polygon points="938.31,360.38 941.68,360.49 940,354.31" fill="#151515"/>
<polygon points="942.43,354.39 945.81,354.5 944.12,360.58" fill="#151515"/>
<polygon points="938.69,351.58 945.43,351.8 945.43,353.34 938.69,353.11" fill="#3a3a3a"/>
<polygon points="938.69,361.54 945.43,361.77 945.43,363.31 938.69,363.08" fill="#3a3a3a"/>
<polygon points="967.19,353.68 970.57,353.79 970.57,363.01 967.19,362.9" fill="#e6e4df"/>
<polygon points="957.06,361.02 960.44,361.13 958.75,354.93" fill="#151515"/>
<polygon points="961.19,355.02 964.57,355.13 962.88,361.22" fill="#151515"/>
<polygon points="957.43,352.2 964.19,352.43 964.19,353.96 957.43,353.74" fill="#3a3a3a"/>
<polygon points="957.43,362.18 964.19,362.41 964.19,363.95 957.43,363.72" fill="#3a3a3a"/>
<polygon points="985.99,354.31 989.37,354.42 989.37,363.65 985.99,363.54" fill="#e6e4df"/>
<polygon points="975.84,361.66 979.22,361.77 977.53,355.56" fill="#151515"/>
<polygon points="979.97,355.65 983.36,355.76 981.66,361.85" fill="#151515"/>
<polygon points="976.21,352.83 982.98,353.06 982.98,354.59 976.21,354.37" fill="#3a3a3a"/>
<polygon points="976.21,362.82 982.98,363.05 982.98,364.59 976.21,364.36" fill="#3a3a3a"/>
<polygon points="1004.81,354.94 1008.21,355.05 1008.21,364.3 1004.81,364.18" fill="#e6e4df"/>
<polygon points="994.64,362.29 998.03,362.41 996.34,356.19" fill="#151515"/>
<polygon points="998.79,356.28 1002.18,356.39 1000.48,362.49" fill="#151515"/>
<polygon points="995.02,353.46 1001.8,353.68 1001.8,355.22 995.02,355" fill="#3a3a3a"/>
<polygon points="995.02,363.46 1001.8,363.69 1001.8,365.23 995.02,365" fill="#3a3a3a"/>
<polygon points="1023.67,355.57 1027.07,355.68 1027.07,364.94 1023.67,364.82" fill="#e6e4df"/>
<polygon points="1013.48,362.93 1016.88,363.05 1015.18,356.83" fill="#151515"/>
<polygon points="1017.63,356.91 1021.03,357.02 1019.33,363.13" fill="#151515"/>
<polygon points="1013.86,354.09 1020.65,354.31 1020.65,355.85 1013.86,355.63" fill="#3a3a3a"/>
<polygon points="1013.86,364.1 1020.65,364.33 1020.65,365.88 1013.86,365.64" fill="#3a3a3a"/>
<polygon points="1042.56,356.2 1045.96,356.31 1045.96,365.58 1042.56,365.47" fill="#e6e4df"/>
<polygon points="1032.36,363.58 1035.76,363.69 1034.06,357.46" fill="#151515"/>
<polygon points="1036.51,357.54 1039.91,357.66 1038.21,363.77" fill="#151515"/>
<polygon points="1032.73,354.71 1039.53,354.94 1039.53,356.49 1032.73,356.26" fill="#3a3a3a"/>
<polygon points="1032.73,364.75 1039.53,364.98 1039.53,366.52 1032.73,366.29" fill="#3a3a3a"/>
<polygon points="1061.48,356.83 1064.89,356.95 1064.89,366.23 1061.48,366.11" fill="#e6e4df"/>
<polygon points="1051.26,364.22 1054.66,364.33 1052.96,358.09" fill="#151515"/>
<polygon points="1055.42,358.18 1058.83,358.29 1057.12,364.42" fill="#151515"/>
<polygon points="1051.64,355.34 1058.45,355.57 1058.45,357.12 1051.64,356.89" fill="#3a3a3a"/>
<polygon points="1051.64,365.39 1058.45,365.62 1058.45,367.17 1051.64,366.94" fill="#3a3a3a"/>
<polygon points="1080.43,357.47 1083.84,357.58 1083.84,366.87 1080.43,366.76" fill="#e6e4df"/>
<polygon points="1070.19,364.86 1073.6,364.98 1071.9,358.73" fill="#151515"/>
<polygon points="1074.36,358.81 1077.78,358.93 1076.07,365.06" fill="#151515"/>
<polygon points="1070.57,355.98 1077.4,356.2 1077.4,357.75 1070.57,357.52" fill="#3a3a3a"/>
<polygon points="1070.57,366.03 1077.4,366.27 1077.4,367.82 1070.57,367.58" fill="#3a3a3a"/>
<polygon points="1099.41,358.1 1102.83,358.22 1102.83,367.52 1099.41,367.4" fill="#e6e4df"/>
<polygon points="1089.16,365.51 1092.58,365.62 1090.87,359.36" fill="#151515"/>
<polygon points="1093.34,359.45 1096.75,359.56 1095.04,365.71" fill="#151515"/>
<polygon points="1089.54,356.61 1096.37,356.84 1096.37,358.39 1089.54,358.16" fill="#3a3a3a"/>
<polygon points="1089.54,366.68 1096.37,366.91 1096.37,368.46 1089.54,368.23" fill="#3a3a3a"/>
<polygon points="1106.02,347.6 1159.54,349.34 1159.54,390.16 1106.02,388.25" fill="#5e5e5e"/>
<polygon points="1106.61,348.68 1132.15,349.52 1132.15,364.74 1106.61,363.88" fill="#141414"/>
<polygon points="1106.61,372.82 1132.15,373.7 1132.15,388.11 1106.61,387.2" fill="#141414"/>
<polygon points="1106.61,363.88 1132.15,364.74 1132.15,373.7 1106.61,372.82" fill="#c9c5bd"/>
<polygon points="1114.27,366.58 1115.54,366.62 1115.54,370.69 1114.27,370.65" fill="#333"/>
<polygon points="1116.82,366.67 1118.1,366.71 1118.1,370.78 1116.82,370.73" fill="#333"/>
<polygon points="1119.37,366.75 1120.65,366.8 1120.65,370.87 1119.37,370.82" fill="#333"/>
<polygon points="1121.93,366.84 1123.2,366.88 1123.2,370.95 1121.93,370.91" fill="#333"/>
<polygon points="1108.65,370.86 1111.72,370.97 1110.18,366.03" fill="#222"/>
<polygon points="1127.04,366.61 1130.1,366.71 1128.57,371.54" fill="#222"/>
<polygon points="1133.35,349.56 1158.94,350.4 1158.94,365.65 1133.35,364.78" fill="#141414"/>
<polygon points="1133.35,373.75 1158.94,374.63 1158.94,389.06 1133.35,388.15" fill="#141414"/>
<polygon points="1133.35,364.78 1158.94,365.65 1158.94,374.63 1133.35,373.75" fill="#c9c5bd"/>
<polygon points="1141.02,367.49 1142.3,367.53 1142.3,371.61 1141.02,371.56" fill="#333"/>
<polygon points="1143.58,367.57 1144.86,367.62 1144.86,371.7 1143.58,371.65" fill="#333"/>
<polygon points="1146.14,367.66 1147.41,367.71 1147.41,371.78 1146.14,371.74" fill="#333"/>
<polygon points="1148.69,367.75 1149.97,367.79 1149.97,371.87 1148.69,371.83" fill="#333"/>
<polygon points="1135.39,371.78 1138.46,371.88 1136.93,366.94" fill="#222"/>
<polygon points="1153.82,367.51 1156.89,367.62 1155.35,372.46" fill="#222"/>
<polygon points="1164.04,349.49 1216.63,351.21 1216.63,392.19 1164.04,390.32" fill="#5e5e5e"/>
<polygon points="1164.64,350.58 1189.7,351.4 1189.7,366.69 1164.64,365.84" fill="#141414"/>
<polygon points="1164.64,374.82 1189.7,375.69 1189.7,390.15 1164.64,389.26" fill="#141414"/>
<polygon points="1164.64,365.84 1189.7,366.69 1189.7,375.69 1164.64,374.82" fill="#c9c5bd"/>
<polygon points="1172.15,368.55 1173.4,368.59 1173.4,372.67 1172.15,372.63" fill="#333"/>
<polygon points="1174.66,368.63 1175.91,368.67 1175.91,372.76 1174.66,372.72" fill="#333"/>
<polygon points="1177.16,368.72 1178.42,368.76 1178.42,372.85 1177.16,372.8" fill="#333"/>
<polygon points="1179.67,368.8 1180.92,368.84 1180.92,372.93 1179.67,372.89" fill="#333"/>
<polygon points="1166.64,372.85 1169.65,372.95 1168.14,368" fill="#222"/>
<polygon points="1184.68,368.56 1187.69,368.67 1186.19,373.52" fill="#222"/>
<polygon points="1190.91,351.44 1216.03,352.27 1216.03,367.58 1190.91,366.73" fill="#141414"/>
<polygon points="1190.91,375.73 1216.03,376.59 1216.03,391.09 1190.91,390.2" fill="#141414"/>
<polygon points="1190.91,366.73 1216.03,367.58 1216.03,376.59 1190.91,375.73" fill="#c9c5bd"/>
<polygon points="1198.44,369.44 1199.69,369.48 1199.69,373.58 1198.44,373.53" fill="#333"/>
<polygon points="1200.95,369.53 1202.2,369.57 1202.2,373.66 1200.95,373.62" fill="#333"/>
<polygon points="1203.46,369.61 1204.72,369.65 1204.72,373.75 1203.46,373.7" fill="#333"/>
<polygon points="1205.97,369.7 1207.23,369.74 1207.23,373.83 1205.97,373.79" fill="#333"/>
<polygon points="1192.91,373.75 1195.93,373.86 1194.42,368.89" fill="#222"/>
<polygon points="1211,369.46 1214.01,369.56 1212.51,374.42" fill="#222"/>
<polygon points="1219.84,347.54 1466.53,355.53 1466.53,395.59 1219.84,386.91" fill="#7a7a7a"/>
<polygon points="1220.57,348.64 1239.47,349.25 1239.47,363.15 1220.57,362.52" fill="#141414"/>
<polygon points="1220.57,371.97 1239.47,372.62 1239.47,386.52 1220.57,385.85" fill="#141414"/>
<polygon points="1240.93,349.3 1259.86,349.92 1259.86,363.84 1240.93,363.2" fill="#141414"/>
<polygon points="1240.93,372.67 1259.86,373.31 1259.86,387.23 1240.93,386.57" fill="#141414"/>
<polygon points="1261.32,349.96 1280.29,350.58 1280.29,364.52 1261.32,363.89" fill="#141414"/>
<polygon points="1261.32,373.36 1280.29,374.01 1280.29,387.95 1261.32,387.29" fill="#141414"/>
<polygon points="1281.75,350.63 1300.76,351.24 1300.76,365.2 1281.75,364.57" fill="#141414"/>
<polygon points="1281.75,374.06 1300.76,374.71 1300.76,388.67 1281.75,388" fill="#141414"/>
<polygon points="1302.22,351.29 1321.26,351.91 1321.26,365.89 1302.22,365.25" fill="#141414"/>
<polygon points="1302.22,374.76 1321.26,375.41 1321.26,389.39 1302.22,388.72" fill="#141414"/>
<polygon points="1322.72,351.96 1341.79,352.58 1341.79,366.58 1322.72,365.94" fill="#141414"/>
<polygon points="1322.72,375.46 1341.79,376.11 1341.79,390.11 1322.72,389.44" fill="#141414"/>
<polygon points="1343.26,352.62 1362.37,353.24 1362.37,367.27 1343.26,366.63" fill="#141414"/>
<polygon points="1343.26,376.16 1362.37,376.81 1362.37,390.83 1343.26,390.16" fill="#141414"/>
<polygon points="1363.84,353.29 1382.98,353.91 1382.98,367.96 1363.84,367.31" fill="#141414"/>
<polygon points="1363.84,376.86 1382.98,377.51 1382.98,391.56 1363.84,390.88" fill="#141414"/>
<polygon points="1384.45,353.96 1403.63,354.58 1403.63,368.65 1384.45,368" fill="#141414"/>
<polygon points="1384.45,377.56 1403.63,378.22 1403.63,392.28 1384.45,391.61" fill="#141414"/>
<polygon points="1405.1,354.63 1424.31,355.25 1424.31,369.34 1405.1,368.7" fill="#141414"/>
<polygon points="1405.1,378.27 1424.31,378.92 1424.31,393.01 1405.1,392.33" fill="#141414"/>
<polygon points="1425.79,355.3 1445.03,355.93 1445.03,370.03 1425.79,369.39" fill="#141414"/>
<polygon points="1425.79,378.97 1445.03,379.63 1445.03,393.73 1425.79,393.06" fill="#141414"/>
<polygon points="1446.51,355.98 1465.79,356.6 1465.79,370.73 1446.51,370.08" fill="#141414"/>
<polygon points="1446.51,379.68 1465.79,380.34 1465.79,394.46 1446.51,393.79" fill="#141414"/>
<polygon points="1219.84,362.5 1466.53,370.75 1466.53,380.36 1219.84,371.95" fill="#d0cec9"/>
<polygon points="1236.53,363.06 1240.2,363.18 1240.2,372.64 1236.53,372.52" fill="#e6e4df"/>
<polygon points="1225.54,370.57 1229.2,370.69 1227.37,364.33" fill="#151515"/>
<polygon points="1230.02,364.41 1233.68,364.54 1231.85,370.78" fill="#151515"/>
<polygon points="1225.95,361.52 1233.27,361.77 1233.27,363.34 1225.95,363.1" fill="#3a3a3a"/>
<polygon points="1225.95,371.76 1233.27,372.01 1233.27,373.59 1225.95,373.34" fill="#3a3a3a"/>
<polygon points="1256.92,363.74 1260.59,363.86 1260.59,373.34 1256.92,373.21" fill="#e6e4df"/>
<polygon points="1245.91,371.26 1249.58,371.38 1247.74,365.01" fill="#151515"/>
<polygon points="1250.39,365.1 1254.06,365.22 1252.23,371.47" fill="#151515"/>
<polygon points="1246.31,362.2 1253.66,362.45 1253.66,364.02 1246.31,363.78" fill="#3a3a3a"/>
<polygon points="1246.31,372.46 1253.66,372.71 1253.66,374.28 1246.31,374.03" fill="#3a3a3a"/>
<polygon points="1277.34,364.42 1281.02,364.54 1281.02,374.03 1277.34,373.91" fill="#e6e4df"/>
<polygon points="1266.31,371.95 1269.99,372.08 1268.15,365.69" fill="#151515"/>
<polygon points="1270.8,365.78 1274.48,365.91 1272.64,372.17" fill="#151515"/>
<polygon points="1266.72,362.88 1274.07,363.13 1274.07,364.71 1266.72,364.46" fill="#3a3a3a"/>
<polygon points="1266.72,373.15 1274.07,373.4 1274.07,374.98 1266.72,374.73" fill="#3a3a3a"/>
<polygon points="1297.8,365.11 1301.49,365.23 1301.49,374.73 1297.8,374.61" fill="#e6e4df"/>
<polygon points="1286.75,372.65 1290.43,372.77 1288.59,366.38" fill="#151515"/>
<polygon points="1291.25,366.47 1294.93,366.59 1293.09,372.86" fill="#151515"/>
<polygon points="1287.16,363.56 1294.53,363.81 1294.53,365.39 1287.16,365.15" fill="#3a3a3a"/>
<polygon points="1287.16,373.85 1294.53,374.1 1294.53,375.68 1287.16,375.43" fill="#3a3a3a"/>
<polygon points="1318.3,365.79 1321.99,365.91 1321.99,375.43 1318.3,375.31" fill="#e6e4df"/>
<polygon points="1307.22,373.34 1310.91,373.47 1309.07,367.07" fill="#151515"/>
<polygon points="1311.73,367.16 1315.42,367.28 1313.58,373.56" fill="#151515"/>
<polygon points="1307.63,364.25 1315.01,364.49 1315.01,366.08 1307.63,365.83" fill="#3a3a3a"/>
<polygon points="1307.63,374.55 1315.01,374.8 1315.01,376.38 1307.63,376.13" fill="#3a3a3a"/>
<polygon points="1338.83,366.48 1342.53,366.6 1342.53,376.13 1338.83,376.01" fill="#e6e4df"/>
<polygon points="1327.74,374.04 1331.43,374.17 1329.58,367.76" fill="#151515"/>
<polygon points="1332.25,367.85 1335.95,367.97 1334.1,374.26" fill="#151515"/>
<polygon points="1328.15,364.93 1335.54,365.18 1335.54,366.77 1328.15,366.52" fill="#3a3a3a"/>
<polygon points="1328.15,375.25 1335.54,375.5 1335.54,377.09 1328.15,376.83" fill="#3a3a3a"/>
<polygon points="1359.4,367.17 1363.1,367.29 1363.1,376.84 1359.4,376.71" fill="#e6e4df"/>
<polygon points="1348.29,374.74 1351.99,374.87 1350.14,368.45" fill="#151515"/>
<polygon points="1352.81,368.54 1356.52,368.66 1354.66,374.96" fill="#151515"/>
<polygon points="1348.7,365.62 1356.1,365.86 1356.1,367.45 1348.7,367.21" fill="#3a3a3a"/>
<polygon points="1348.7,375.95 1356.1,376.2 1356.1,377.79 1348.7,377.54" fill="#3a3a3a"/>
<polygon points="1380,367.86 1383.72,367.98 1383.72,377.54 1380,377.41" fill="#e6e4df"/>
<polygon points="1368.87,375.44 1372.58,375.57 1370.73,369.14" fill="#151515"/>
<polygon points="1373.4,369.23 1377.12,369.35 1375.26,375.66" fill="#151515"/>
<polygon points="1369.28,366.3 1376.7,366.55 1376.7,368.14 1369.28,367.89" fill="#3a3a3a"/>
<polygon points="1369.28,376.65 1376.7,376.9 1376.7,378.49 1369.28,378.24" fill="#3a3a3a"/>
<polygon points="1400.64,368.55 1404.36,368.67 1404.36,378.24 1400.64,378.12" fill="#e6e4df"/>
<polygon points="1389.49,376.14 1393.21,376.27 1391.35,369.83" fill="#151515"/>
<polygon points="1394.04,369.92 1397.75,370.04 1395.89,376.36" fill="#151515"/>
<polygon points="1389.91,366.99 1397.34,367.24 1397.34,368.83 1389.91,368.59" fill="#3a3a3a"/>
<polygon points="1389.91,377.35 1397.34,377.6 1397.34,379.2 1389.91,378.94" fill="#3a3a3a"/>
<polygon points="1421.32,369.24 1425.05,369.36 1425.05,378.95 1421.32,378.82" fill="#e6e4df"/>
<polygon points="1410.15,376.84 1413.88,376.97 1412.01,370.52" fill="#151515"/>
<polygon points="1414.7,370.61 1418.43,370.74 1416.56,377.06" fill="#151515"/>
<polygon points="1410.57,367.68 1418.01,367.93 1418.01,369.53 1410.57,369.28" fill="#3a3a3a"/>
<polygon points="1410.57,378.06 1418.01,378.31 1418.01,379.91 1410.57,379.65" fill="#3a3a3a"/>
<polygon points="1442.04,369.93 1445.77,370.06 1445.77,379.66 1442.04,379.53" fill="#e6e4df"/>
<polygon points="1430.85,377.55 1434.58,377.68 1432.71,371.22" fill="#151515"/>
<polygon points="1435.41,371.31 1439.14,371.43 1437.27,377.77" fill="#151515"/>
<polygon points="1431.26,368.37 1438.72,368.62 1438.72,370.22 1431.26,369.97" fill="#3a3a3a"/>
<polygon points="1431.26,378.76 1438.72,379.02 1438.72,380.61 1431.26,380.36" fill="#3a3a3a"/>
<polygon points="1462.79,370.62 1466.53,370.75 1466.53,380.36 1462.79,380.24" fill="#e6e4df"/>
<polygon points="1451.58,378.25 1455.32,378.38 1453.45,371.91" fill="#151515"/>
<polygon points="1456.15,372 1459.89,372.13 1458.02,378.47" fill="#151515"/>
<polygon points="1452,369.06 1459.47,369.31 1459.47,370.91 1452,370.66" fill="#3a3a3a"/>
<polygon points="1452,379.47 1459.47,379.72 1459.47,381.32 1452,381.07" fill="#3a3a3a"/>
<g transform="matrix(1,0.031894,0,1,0,-27.7794)">
<text x="877.2" y="380.4" font-size="5.4" fill="#3558b8" font-family="Liberation Sans" font-weight="bold" textLength="26.5" lengthAdjust="spacingAndGlyphs">C<tspan font-size="4.21">ORE</tspan> E<tspan font-size="4.21">DGE</tspan></text>
<text x="905.6" y="380.4" font-size="3.35" fill="#3558b8" font-family="Liberation Sans" textLength="21.4" lengthAdjust="spacingAndGlyphs">C5000-48XQE</text>
</g>
<rect x="928.22" y="379" width="14.5" height="3.2" fill="#262626" rx="1.6"/>
<rect x="928.82" y="379.5" width="3.62" height="2.2" fill="#dddddd" rx="1.1"/>
<rect x="949.3" y="379.75" width="14.5" height="3.2" fill="#262626" rx="1.6"/>
<rect x="949.9" y="380.25" width="3.62" height="2.2" fill="#dddddd" rx="1.1"/>
<rect x="970.42" y="380.5" width="14.5" height="3.2" fill="#262626" rx="1.6"/>
<rect x="971.02" y="381" width="3.62" height="2.2" fill="#dddddd" rx="1.1"/>
<rect x="991.58" y="381.25" width="14.5" height="3.2" fill="#262626" rx="1.6"/>
<rect x="992.18" y="381.75" width="3.62" height="2.2" fill="#dddddd" rx="1.1"/>
<rect x="1012.78" y="382" width="14.5" height="3.2" fill="#262626" rx="1.6"/>
<rect x="1013.38" y="382.5" width="3.62" height="2.2" fill="#dddddd" rx="1.1"/>
<rect x="1034.01" y="382.75" width="14.5" height="3.2" fill="#262626" rx="1.6"/>
<rect x="1034.61" y="383.25" width="3.62" height="2.2" fill="#dddddd" rx="1.1"/>
<rect x="1055.29" y="383.51" width="14.5" height="3.2" fill="#262626" rx="1.6"/>
<rect x="1055.89" y="384.01" width="3.62" height="2.2" fill="#dddddd" rx="1.1"/>
<rect x="357.5" y="496.6" width="3" height="1.1" fill="#8a8c8c"/>
<rect x="362" y="496.6" width="3" height="1.1" fill="#8a8c8c"/>
<rect x="371" y="496.6" width="2.2" height="1.1" fill="#8a8c8c"/>
<rect x="374.7" y="496.6" width="3.6" height="1.1" fill="#8a8c8c"/>
<rect x="379.8" y="496.6" width="3" height="1.1" fill="#8a8c8c"/>
<rect x="404.93" y="496.6" width="2.2" height="1.1" fill="#8a8c8c"/>
<rect x="413.13" y="496.6" width="2.2" height="1.1" fill="#8a8c8c"/>
<rect x="416.83" y="496.6" width="2.2" height="1.1" fill="#8a8c8c"/>
<rect x="422.53" y="496.6" width="3" height="1.1" fill="#8a8c8c"/>
<rect x="427.03" y="496.6" width="2.2" height="1.1" fill="#8a8c8c"/>
<rect x="430.73" y="496.6" width="3.6" height="1.1" fill="#8a8c8c"/>
<rect x="452.36" y="496.6" width="2.2" height="1.1" fill="#8a8c8c"/>
<rect x="460.56" y="496.6" width="2.2" height="1.1" fill="#8a8c8c"/>
<rect x="464.26" y="496.6" width="3.6" height="1.1" fill="#8a8c8c"/>
<rect x="473.86" y="496.6" width="3.6" height="1.1" fill="#8a8c8c"/>
<rect x="478.96" y="496.6" width="3.6" height="1.1" fill="#8a8c8c"/>
<rect x="499.79" y="496.6" width="3" height="1.1" fill="#8a8c8c"/>
<rect x="504.29" y="496.6" width="2.2" height="1.1" fill="#8a8c8c"/>
<rect x="507.99" y="496.6" width="3.6" height="1.1" fill="#8a8c8c"/>
<rect x="513.09" y="496.6" width="3" height="1.1" fill="#8a8c8c"/>
<rect x="519.59" y="496.6" width="2.2" height="1.1" fill="#8a8c8c"/>
<rect x="527.79" y="496.6" width="2.2" height="1.1" fill="#8a8c8c"/>
<rect x="547.22" y="496.6" width="3" height="1.1" fill="#8a8c8c"/>
<rect x="556.22" y="496.6" width="3.6" height="1.1" fill="#8a8c8c"/>
<rect x="561.32" y="496.6" width="2.2" height="1.1" fill="#8a8c8c"/>
<rect x="569.52" y="496.6" width="3.6" height="1.1" fill="#8a8c8c"/>
<rect x="594.65" y="496.6" width="2.2" height="1.1" fill="#8a8c8c"/>
<rect x="600.35" y="496.6" width="2.2" height="1.1" fill="#8a8c8c"/>
<rect x="608.55" y="496.6" width="3.6" height="1.1" fill="#8a8c8c"/>
<rect x="613.65" y="496.6" width="3.6" height="1.1" fill="#8a8c8c"/>
<rect x="618.75" y="496.6" width="3.6" height="1.1" fill="#8a8c8c"/>
<rect x="623.85" y="496.6" width="3" height="1.1" fill="#8a8c8c"/>
<rect x="642.08" y="496.6" width="3.6" height="1.1" fill="#8a8c8c"/>
<rect x="649.18" y="496.6" width="3" height="1.1" fill="#8a8c8c"/>
<rect x="655.68" y="496.6" width="3.6" height="1.1" fill="#8a8c8c"/>
<rect x="662.78" y="496.6" width="3" height="1.1" fill="#8a8c8c"/>
<rect x="669.28" y="496.6" width="2.2" height="1.1" fill="#8a8c8c"/>
<rect x="672.98" y="496.6" width="3.6" height="1.1" fill="#8a8c8c"/>
<rect x="689.51" y="496.6" width="2.2" height="1.1" fill="#8a8c8c"/>
<rect x="697.71" y="496.6" width="3" height="1.1" fill="#8a8c8c"/>
<rect x="706.71" y="496.6" width="3" height="1.1" fill="#8a8c8c"/>
<rect x="713.21" y="496.6" width="3.6" height="1.1" fill="#8a8c8c"/>
<rect x="720.31" y="496.6" width="3" height="1.1" fill="#8a8c8c"/>
<rect x="352" y="496.6" width="2.2" height="1.1" fill="#8a8c8c"/>
<rect x="355.7" y="496.6" width="3.6" height="1.1" fill="#8a8c8c"/>
<rect x="362.8" y="496.6" width="2.2" height="1.1" fill="#8a8c8c"/>
<rect x="368.5" y="496.6" width="2.2" height="1.1" fill="#8a8c8c"/>
<rect x="374.2" y="496.6" width="3" height="1.1" fill="#8a8c8c"/>
<rect x="378.7" y="496.6" width="3.6" height="1.1" fill="#8a8c8c"/>
<rect x="383.8" y="496.6" width="3.6" height="1.1" fill="#8a8c8c"/>
<rect x="346" y="700.3" width="3" height="1.1" fill="#8a8c8c"/>
<rect x="352.5" y="700.3" width="3.6" height="1.1" fill="#8a8c8c"/>
<rect x="359.6" y="700.3" width="3.6" height="1.1" fill="#8a8c8c"/>
<rect x="366.7" y="700.3" width="3.6" height="1.1" fill="#8a8c8c"/>
<rect x="373.8" y="700.3" width="2.2" height="1.1" fill="#8a8c8c"/>
<rect x="377.5" y="700.3" width="3" height="1.1" fill="#8a8c8c"/>
<rect x="384" y="700.3" width="3.6" height="1.1" fill="#8a8c8c"/>
<rect x="393.6" y="700.3" width="2.2" height="1.1" fill="#8a8c8c"/>
<rect x="397.3" y="700.3" width="3.6" height="1.1" fill="#8a8c8c"/>
<rect x="406.9" y="700.3" width="3" height="1.1" fill="#8a8c8c"/>
<rect x="415.9" y="700.3" width="3.6" height="1.1" fill="#8a8c8c"/>
<rect x="425.5" y="700.3" width="3" height="1.1" fill="#8a8c8c"/>
<rect x="432" y="700.3" width="3.6" height="1.1" fill="#8a8c8c"/>
<rect x="439.1" y="700.3" width="3.6" height="1.1" fill="#8a8c8c"/>
<rect x="446.2" y="700.3" width="2.2" height="1.1" fill="#8a8c8c"/>
<rect x="451.9" y="700.3" width="3" height="1.1" fill="#8a8c8c"/>
<rect x="456.4" y="700.3" width="3.6" height="1.1" fill="#8a8c8c"/>
<rect x="461.5" y="700.3" width="3" height="1.1" fill="#8a8c8c"/>
<rect x="466" y="700.3" width="2.2" height="1.1" fill="#8a8c8c"/>
<rect x="471.7" y="700.3" width="2.2" height="1.1" fill="#8a8c8c"/>
<rect x="479.9" y="700.3" width="2.2" height="1.1" fill="#8a8c8c"/>
<rect x="485.6" y="700.3" width="3" height="1.1" fill="#8a8c8c"/>
<rect x="492.1" y="700.3" width="2.2" height="1.1" fill="#8a8c8c"/>
<rect x="495.8" y="700.3" width="3" height="1.1" fill="#8a8c8c"/>
<rect x="502.3" y="700.3" width="3.6" height="1.1" fill="#8a8c8c"/>
<rect x="509.4" y="700.3" width="2.2" height="1.1" fill="#8a8c8c"/>
<rect x="515.1" y="700.3" width="3.6" height="1.1" fill="#8a8c8c"/>
<rect x="522.2" y="700.3" width="3.6" height="1.1" fill="#8a8c8c"/>
<rect x="529.3" y="700.3" width="3" height="1.1" fill="#8a8c8c"/>
<rect x="538.3" y="700.3" width="3" height="1.1" fill="#8a8c8c"/>
<rect x="542.8" y="700.3" width="2.2" height="1.1" fill="#8a8c8c"/>
<rect x="546.5" y="700.3" width="2.2" height="1.1" fill="#8a8c8c"/>
<rect x="550.2" y="700.3" width="2.2" height="1.1" fill="#8a8c8c"/>
<rect x="558.4" y="700.3" width="2.2" height="1.1" fill="#8a8c8c"/>
<rect x="562.1" y="700.3" width="3" height="1.1" fill="#8a8c8c"/>
<rect x="571.1" y="700.3" width="2.2" height="1.1" fill="#8a8c8c"/>
<rect x="576.8" y="700.3" width="3" height="1.1" fill="#8a8c8c"/>
<rect x="581.3" y="700.3" width="2.2" height="1.1" fill="#8a8c8c"/>
<rect x="587" y="700.3" width="3.6" height="1.1" fill="#8a8c8c"/>
<rect x="594.1" y="700.3" width="3.6" height="1.1" fill="#8a8c8c"/>
<rect x="603.7" y="700.3" width="3" height="1.1" fill="#8a8c8c"/>
<rect x="608.2" y="700.3" width="3.6" height="1.1" fill="#8a8c8c"/>
<rect x="617.8" y="700.3" width="3.6" height="1.1" fill="#8a8c8c"/>
<rect x="627.4" y="700.3" width="3.6" height="1.1" fill="#8a8c8c"/>
<rect x="637" y="700.3" width="2.2" height="1.1" fill="#8a8c8c"/>
<rect x="642.7" y="700.3" width="3.6" height="1.1" fill="#8a8c8c"/>
<rect x="652.3" y="700.3" width="3" height="1.1" fill="#8a8c8c"/>
<rect x="658.8" y="700.3" width="3" height="1.1" fill="#8a8c8c"/>
<rect x="665.3" y="700.3" width="2.2" height="1.1" fill="#8a8c8c"/>
<rect x="671" y="700.3" width="3.6" height="1.1" fill="#8a8c8c"/>
<rect x="678.1" y="700.3" width="2.2" height="1.1" fill="#8a8c8c"/>
<rect x="681.8" y="700.3" width="2.2" height="1.1" fill="#8a8c8c"/>
<rect x="685.5" y="700.3" width="3" height="1.1" fill="#8a8c8c"/>
<rect x="690" y="700.3" width="2.2" height="1.1" fill="#8a8c8c"/>
<rect x="695.7" y="700.3" width="3.6" height="1.1" fill="#8a8c8c"/>
<rect x="700.8" y="700.3" width="2.2" height="1.1" fill="#8a8c8c"/>
<rect x="704.5" y="700.3" width="3.6" height="1.1" fill="#8a8c8c"/>
<rect x="709.6" y="700.3" width="3.6" height="1.1" fill="#8a8c8c"/>
<rect x="714.7" y="700.3" width="3" height="1.1" fill="#8a8c8c"/>
<rect x="723.7" y="700.3" width="2.2" height="1.1" fill="#8a8c8c"/>
<rect x="727.4" y="700.3" width="2.2" height="1.1" fill="#8a8c8c"/>
<rect x="735.6" y="700.3" width="3" height="1.1" fill="#8a8c8c"/>
<rect x="740.1" y="700.3" width="3.6" height="1.1" fill="#8a8c8c"/>
<rect x="747.2" y="700.3" width="3" height="1.1" fill="#8a8c8c"/>
<rect x="756.2" y="700.3" width="3" height="1.1" fill="#8a8c8c"/>
<rect x="1050" y="699.6" width="2.2" height="1.1" fill="#8a8c8c"/>
<rect x="1053.7" y="699.6" width="3" height="1.1" fill="#8a8c8c"/>
<rect x="1060.2" y="699.6" width="3" height="1.1" fill="#8a8c8c"/>
<rect x="1066.7" y="699.6" width="3" height="1.1" fill="#8a8c8c"/>
<rect x="1071.2" y="699.6" width="2.2" height="1.1" fill="#8a8c8c"/>
<rect x="1074.9" y="699.6" width="3.6" height="1.1" fill="#8a8c8c"/>
<rect x="1082" y="699.6" width="3.6" height="1.1" fill="#8a8c8c"/>
<rect x="1089.1" y="699.6" width="3" height="1.1" fill="#8a8c8c"/>
<rect x="1098.1" y="699.6" width="2.2" height="1.1" fill="#8a8c8c"/>
<rect x="1106.3" y="699.6" width="2.2" height="1.1" fill="#8a8c8c"/>
<rect x="1110" y="699.6" width="3.6" height="1.1" fill="#8a8c8c"/>
<rect x="1117.1" y="699.6" width="2.2" height="1.1" fill="#8a8c8c"/>
<rect x="1125.3" y="699.6" width="3.6" height="1.1" fill="#8a8c8c"/>
<rect x="1130.4" y="699.6" width="3.6" height="1.1" fill="#8a8c8c"/>
<rect x="1137.5" y="699.6" width="3.6" height="1.1" fill="#8a8c8c"/>
<rect x="1142.6" y="699.6" width="3.6" height="1.1" fill="#8a8c8c"/>
<rect x="1149.7" y="699.6" width="3.6" height="1.1" fill="#8a8c8c"/>
<rect x="1156.8" y="699.6" width="2.2" height="1.1" fill="#8a8c8c"/>
<rect x="1162.5" y="699.6" width="2.2" height="1.1" fill="#8a8c8c"/>
<rect x="1170.7" y="699.6" width="3.6" height="1.1" fill="#8a8c8c"/>
<rect x="1180.3" y="699.6" width="3" height="1.1" fill="#8a8c8c"/>
<rect x="1189.3" y="699.6" width="2.2" height="1.1" fill="#8a8c8c"/>
<rect x="1197.5" y="699.6" width="2.2" height="1.1" fill="#8a8c8c"/>
<rect x="1201.2" y="699.6" width="3" height="1.1" fill="#8a8c8c"/>
<rect x="1210.2" y="699.6" width="2.2" height="1.1" fill="#8a8c8c"/>
<rect x="1213.9" y="699.6" width="3.6" height="1.1" fill="#8a8c8c"/>
<rect x="1221" y="699.6" width="3" height="1.1" fill="#8a8c8c"/>
<rect x="1230" y="699.6" width="2.2" height="1.1" fill="#8a8c8c"/>
<rect x="1233.7" y="699.6" width="3" height="1.1" fill="#8a8c8c"/>
<rect x="1240.2" y="699.6" width="3" height="1.1" fill="#8a8c8c"/>
<rect x="1244.7" y="699.6" width="3.6" height="1.1" fill="#8a8c8c"/>
<rect x="1254.3" y="699.6" width="3" height="1.1" fill="#8a8c8c"/>
<rect x="1260.8" y="699.6" width="3.6" height="1.1" fill="#8a8c8c"/>
<rect x="1267.9" y="699.6" width="3" height="1.1" fill="#8a8c8c"/>
<rect x="1272.4" y="699.6" width="2.2" height="1.1" fill="#8a8c8c"/>
<rect x="1276.1" y="699.6" width="2.2" height="1.1" fill="#8a8c8c"/>
<rect x="1281.8" y="699.6" width="2.2" height="1.1" fill="#8a8c8c"/>
<rect x="1287.5" y="699.6" width="2.2" height="1.1" fill="#8a8c8c"/>
<rect x="1293.2" y="699.6" width="3.6" height="1.1" fill="#8a8c8c"/>
<rect x="1302.8" y="699.6" width="2.2" height="1.1" fill="#8a8c8c"/>
<rect x="1308.5" y="699.6" width="3.6" height="1.1" fill="#8a8c8c"/>
<rect x="1315.6" y="699.6" width="3.6" height="1.1" fill="#8a8c8c"/>
<rect x="1320.7" y="699.6" width="3.6" height="1.1" fill="#8a8c8c"/>
<rect x="1325.8" y="699.6" width="3" height="1.1" fill="#8a8c8c"/>
<rect x="1334.8" y="699.6" width="2.2" height="1.1" fill="#8a8c8c"/>
<rect x="1340.5" y="699.6" width="2.2" height="1.1" fill="#8a8c8c"/>
<rect x="1346.2" y="699.6" width="3.6" height="1.1" fill="#8a8c8c"/>
<rect x="1353.3" y="699.6" width="2.2" height="1.1" fill="#8a8c8c"/>
<rect x="1361.5" y="699.6" width="3" height="1.1" fill="#8a8c8c"/>
<rect x="1368" y="699.6" width="3" height="1.1" fill="#8a8c8c"/>
<rect x="1377" y="699.6" width="2.2" height="1.1" fill="#8a8c8c"/>
<rect x="1385.2" y="699.6" width="2.2" height="1.1" fill="#8a8c8c"/>
<rect x="1388.9" y="699.6" width="2.2" height="1.1" fill="#8a8c8c"/>
<rect x="1392.6" y="699.6" width="2.2" height="1.1" fill="#8a8c8c"/>
<rect x="1400.8" y="699.6" width="3" height="1.1" fill="#8a8c8c"/>
<rect x="1409.8" y="699.6" width="2.2" height="1.1" fill="#8a8c8c"/>
<rect x="1418" y="699.6" width="3.6" height="1.1" fill="#8a8c8c"/>
<rect x="1425.1" y="699.6" width="3.6" height="1.1" fill="#8a8c8c"/>
<rect x="1432.2" y="699.6" width="2.2" height="1.1" fill="#8a8c8c"/>
<rect x="1440.4" y="699.6" width="3.6" height="1.1" fill="#8a8c8c"/>
<rect x="1445.5" y="699.6" width="2.2" height="1.1" fill="#8a8c8c"/>
<rect x="1449.2" y="699.6" width="3.6" height="1.1" fill="#8a8c8c"/>
<rect x="1458.8" y="699.6" width="2.2" height="1.1" fill="#8a8c8c"/>
<rect x="878" y="205.6" width="3.6" height="1.1" fill="#8a8c8c"/>
<rect x="883.1" y="205.69" width="3" height="1.1" fill="#8a8c8c"/>
<rect x="887.6" y="205.77" width="2.2" height="1.1" fill="#8a8c8c"/>
<rect x="891.3" y="205.83" width="3" height="1.1" fill="#8a8c8c"/>
<rect x="895.8" y="205.91" width="3" height="1.1" fill="#8a8c8c"/>
<rect x="904.8" y="206.07" width="2.2" height="1.1" fill="#8a8c8c"/>
<rect x="913" y="206.21" width="3" height="1.1" fill="#8a8c8c"/>
<rect x="919.5" y="206.33" width="3.6" height="1.1" fill="#8a8c8c"/>
<rect x="926.6" y="206.45" width="2.2" height="1.1" fill="#8a8c8c"/>
<rect x="930.3" y="206.52" width="3.6" height="1.1" fill="#8a8c8c"/>
<rect x="937.4" y="206.64" width="3" height="1.1" fill="#8a8c8c"/>
<rect x="946.4" y="206.8" width="3.6" height="1.1" fill="#8a8c8c"/>
<rect x="956" y="206.97" width="3" height="1.1" fill="#8a8c8c"/>
<rect x="965" y="207.13" width="2.2" height="1.1" fill="#8a8c8c"/>
<rect x="973.2" y="207.27" width="2.2" height="1.1" fill="#8a8c8c"/>
<rect x="981.4" y="207.42" width="3.6" height="1.1" fill="#8a8c8c"/>
<rect x="986.5" y="207.51" width="3" height="1.1" fill="#8a8c8c"/>
<rect x="991" y="207.58" width="3.6" height="1.1" fill="#8a8c8c"/>
<rect x="996.1" y="207.67" width="2.2" height="1.1" fill="#8a8c8c"/>
<rect x="999.8" y="207.74" width="2.2" height="1.1" fill="#8a8c8c"/>
<rect x="1005.5" y="207.84" width="3.6" height="1.1" fill="#8a8c8c"/>
<rect x="1015.1" y="208.01" width="2.2" height="1.1" fill="#8a8c8c"/>
<rect x="1023.3" y="208.15" width="2.2" height="1.1" fill="#8a8c8c"/>
<rect x="1029" y="208.25" width="3.6" height="1.1" fill="#8a8c8c"/>
<rect x="1038.6" y="208.42" width="3.6" height="1.1" fill="#8a8c8c"/>
<rect x="1048.2" y="208.59" width="3" height="1.1" fill="#8a8c8c"/>
<rect x="1052.7" y="208.67" width="3.6" height="1.1" fill="#8a8c8c"/>
<rect x="1057.8" y="208.76" width="2.2" height="1.1" fill="#8a8c8c"/>
<rect x="1061.5" y="208.82" width="3" height="1.1" fill="#8a8c8c"/>
<rect x="1066" y="208.9" width="2.2" height="1.1" fill="#8a8c8c"/>
<rect x="1074.2" y="209.04" width="3" height="1.1" fill="#8a8c8c"/>
<rect x="1083.2" y="209.2" width="2.2" height="1.1" fill="#8a8c8c"/>
<rect x="1086.9" y="209.27" width="3" height="1.1" fill="#8a8c8c"/>
<rect x="1093.4" y="209.38" width="3.6" height="1.1" fill="#8a8c8c"/>
<rect x="1103" y="209.55" width="3.6" height="1.1" fill="#8a8c8c"/>
<rect x="1112.6" y="209.72" width="2.2" height="1.1" fill="#8a8c8c"/>
<rect x="1120.8" y="209.86" width="3" height="1.1" fill="#8a8c8c"/>
<rect x="1127.3" y="209.98" width="3.6" height="1.1" fill="#8a8c8c"/>
<rect x="1136.9" y="210.15" width="3" height="1.1" fill="#8a8c8c"/>
<rect x="1145.9" y="210.3" width="2.2" height="1.1" fill="#8a8c8c"/>
<rect x="1154.1" y="210.45" width="3.6" height="1.1" fill="#8a8c8c"/>
<rect x="1161.2" y="210.57" width="3.6" height="1.1" fill="#8a8c8c"/>
<rect x="1166.3" y="210.66" width="3" height="1.1" fill="#8a8c8c"/>
<rect x="1170.8" y="210.74" width="3" height="1.1" fill="#8a8c8c"/>
<rect x="1175.3" y="210.82" width="3" height="1.1" fill="#8a8c8c"/>
<rect x="1181.8" y="210.93" width="3" height="1.1" fill="#8a8c8c"/>
<rect x="1186.3" y="211.01" width="3.6" height="1.1" fill="#8a8c8c"/>
<rect x="1191.4" y="211.1" width="3" height="1.1" fill="#8a8c8c"/>
<rect x="1195.9" y="211.18" width="2.2" height="1.1" fill="#8a8c8c"/>
<rect x="1204.1" y="211.33" width="3" height="1.1" fill="#8a8c8c"/>
<rect x="1208.6" y="211.4" width="2.2" height="1.1" fill="#8a8c8c"/>
<rect x="1216.8" y="211.55" width="3.6" height="1.1" fill="#8a8c8c"/>
<rect x="1226.4" y="211.72" width="3" height="1.1" fill="#8a8c8c"/>
<rect x="1230.9" y="211.8" width="3" height="1.1" fill="#8a8c8c"/>
<rect x="1235.4" y="211.88" width="3" height="1.1" fill="#8a8c8c"/>
<rect x="1239.9" y="211.95" width="3.6" height="1.1" fill="#8a8c8c"/>
<rect x="1245" y="212.04" width="3" height="1.1" fill="#8a8c8c"/>
<rect x="1251.5" y="212.16" width="2.2" height="1.1" fill="#8a8c8c"/>
<rect x="1259.7" y="212.3" width="2.2" height="1.1" fill="#8a8c8c"/>
<rect x="1263.4" y="212.37" width="3.6" height="1.1" fill="#8a8c8c"/>
<rect x="1270.5" y="212.49" width="3.6" height="1.1" fill="#8a8c8c"/>
<rect x="1277.6" y="212.62" width="3" height="1.1" fill="#8a8c8c"/>
<rect x="1284.1" y="212.73" width="2.2" height="1.1" fill="#8a8c8c"/>
<rect x="1289.8" y="212.83" width="3" height="1.1" fill="#8a8c8c"/>
<rect x="1294.3" y="212.91" width="3.6" height="1.1" fill="#8a8c8c"/>
<rect x="1301.4" y="213.03" width="2.2" height="1.1" fill="#8a8c8c"/>
<rect x="1307.1" y="213.13" width="3.6" height="1.1" fill="#8a8c8c"/>
<rect x="1314.2" y="213.26" width="3" height="1.1" fill="#8a8c8c"/>
<rect x="1323.2" y="213.42" width="2.2" height="1.1" fill="#8a8c8c"/>
<rect x="1328.9" y="213.52" width="3" height="1.1" fill="#8a8c8c"/>
<rect x="1337.9" y="213.68" width="3.6" height="1.1" fill="#8a8c8c"/>
<rect x="1345" y="213.8" width="3.6" height="1.1" fill="#8a8c8c"/>
<rect x="1350.1" y="213.89" width="2.2" height="1.1" fill="#8a8c8c"/>
<rect x="1353.8" y="213.95" width="2.2" height="1.1" fill="#8a8c8c"/>
<rect x="1357.5" y="214.02" width="3" height="1.1" fill="#8a8c8c"/>
<rect x="1364" y="214.13" width="2.2" height="1.1" fill="#8a8c8c"/>
<rect x="1367.7" y="214.2" width="3" height="1.1" fill="#8a8c8c"/>
<rect x="1372.2" y="214.28" width="3" height="1.1" fill="#8a8c8c"/>
<rect x="1381.2" y="214.44" width="3" height="1.1" fill="#8a8c8c"/>
<rect x="1387.7" y="214.55" width="2.2" height="1.1" fill="#8a8c8c"/>
<rect x="1395.9" y="214.69" width="3.6" height="1.1" fill="#8a8c8c"/>
<rect x="878" y="271.8" width="3" height="1.1" fill="#8a8c8c"/>
<rect x="887" y="272" width="3" height="1.1" fill="#8a8c8c"/>
<rect x="891.5" y="272.1" width="3" height="1.1" fill="#8a8c8c"/>
<rect x="896" y="272.2" width="3.6" height="1.1" fill="#8a8c8c"/>
<rect x="901.1" y="272.32" width="3" height="1.1" fill="#8a8c8c"/>
<rect x="905.6" y="272.42" width="3" height="1.1" fill="#8a8c8c"/>
<rect x="910.1" y="272.52" width="3.6" height="1.1" fill="#8a8c8c"/>
<rect x="915.2" y="272.64" width="3" height="1.1" fill="#8a8c8c"/>
<rect x="919.7" y="272.74" width="3.6" height="1.1" fill="#8a8c8c"/>
<rect x="924.8" y="272.85" width="2.2" height="1.1" fill="#8a8c8c"/>
<rect x="930.5" y="272.98" width="2.2" height="1.1" fill="#8a8c8c"/>
<rect x="936.2" y="273.11" width="2.2" height="1.1" fill="#8a8c8c"/>
<rect x="941.9" y="273.24" width="3.6" height="1.1" fill="#8a8c8c"/>
<rect x="949" y="273.39" width="3" height="1.1" fill="#8a8c8c"/>
<rect x="958" y="273.6" width="2.2" height="1.1" fill="#8a8c8c"/>
<rect x="961.7" y="273.68" width="3.6" height="1.1" fill="#8a8c8c"/>
<rect x="971.3" y="273.9" width="2.2" height="1.1" fill="#8a8c8c"/>
<rect x="975" y="273.98" width="2.2" height="1.1" fill="#8a8c8c"/>
<rect x="980.7" y="274.11" width="2.2" height="1.1" fill="#8a8c8c"/>
<rect x="984.4" y="274.19" width="2.2" height="1.1" fill="#8a8c8c"/>
<rect x="990.1" y="274.32" width="3.6" height="1.1" fill="#8a8c8c"/>
<rect x="997.2" y="274.48" width="3.6" height="1.1" fill="#8a8c8c"/>
<rect x="1002.3" y="274.59" width="3" height="1.1" fill="#8a8c8c"/>
<rect x="1008.8" y="274.74" width="3.6" height="1.1" fill="#8a8c8c"/>
<rect x="1018.4" y="274.95" width="2.2" height="1.1" fill="#8a8c8c"/>
<rect x="1024.1" y="275.08" width="3" height="1.1" fill="#8a8c8c"/>
<rect x="1028.6" y="275.18" width="3" height="1.1" fill="#8a8c8c"/>
<rect x="1033.1" y="275.28" width="2.2" height="1.1" fill="#8a8c8c"/>
<rect x="1036.8" y="275.37" width="3.6" height="1.1" fill="#8a8c8c"/>
<rect x="1046.4" y="275.58" width="3.6" height="1.1" fill="#8a8c8c"/>
<rect x="1051.5" y="275.7" width="3.6" height="1.1" fill="#8a8c8c"/>
<rect x="1058.6" y="275.86" width="2.2" height="1.1" fill="#8a8c8c"/>
<rect x="1064.3" y="275.98" width="2.2" height="1.1" fill="#8a8c8c"/>
<rect x="1072.5" y="276.17" width="3.6" height="1.1" fill="#8a8c8c"/>
<rect x="1079.6" y="276.33" width="3.6" height="1.1" fill="#8a8c8c"/>
<rect x="1086.7" y="276.49" width="3.6" height="1.1" fill="#8a8c8c"/>
<rect x="1093.8" y="276.65" width="3.6" height="1.1" fill="#8a8c8c"/>
<rect x="1100.9" y="276.81" width="3.6" height="1.1" fill="#8a8c8c"/>
<rect x="1106" y="276.92" width="2.2" height="1.1" fill="#8a8c8c"/>
<rect x="1111.7" y="277.05" width="2.2" height="1.1" fill="#8a8c8c"/>
<rect x="1119.9" y="277.23" width="3.6" height="1.1" fill="#8a8c8c"/>
<rect x="1129.5" y="277.45" width="2.2" height="1.1" fill="#8a8c8c"/>
<rect x="1135.2" y="277.58" width="3" height="1.1" fill="#8a8c8c"/>
<rect x="1139.7" y="277.68" width="2.2" height="1.1" fill="#8a8c8c"/>
<rect x="1143.4" y="277.76" width="2.2" height="1.1" fill="#8a8c8c"/>
<rect x="1151.6" y="277.95" width="3.6" height="1.1" fill="#8a8c8c"/>
<rect x="1158.7" y="278.11" width="3" height="1.1" fill="#8a8c8c"/>
<rect x="1163.2" y="278.21" width="2.2" height="1.1" fill="#8a8c8c"/>
<rect x="1166.9" y="278.29" width="3.6" height="1.1" fill="#8a8c8c"/>
<rect x="1174" y="278.45" width="3.6" height="1.1" fill="#8a8c8c"/>
<rect x="1183.6" y="278.66" width="3" height="1.1" fill="#8a8c8c"/>
<rect x="1192.6" y="278.87" width="2.2" height="1.1" fill="#8a8c8c"/>
<rect x="1200.8" y="279.05" width="3" height="1.1" fill="#8a8c8c"/>
<rect x="1205.3" y="279.15" width="3" height="1.1" fill="#8a8c8c"/>
<rect x="1209.8" y="279.25" width="2.2" height="1.1" fill="#8a8c8c"/>
<rect x="1215.5" y="279.38" width="3" height="1.1" fill="#8a8c8c"/>
<rect x="1220" y="279.48" width="3" height="1.1" fill="#8a8c8c"/>
<rect x="1226.5" y="279.63" width="3" height="1.1" fill="#8a8c8c"/>
<rect x="1235.5" y="279.83" width="3" height="1.1" fill="#8a8c8c"/>
<rect x="1240" y="279.93" width="2.2" height="1.1" fill="#8a8c8c"/>
<rect x="1245.7" y="280.06" width="2.2" height="1.1" fill="#8a8c8c"/>
<rect x="1251.4" y="280.19" width="2.2" height="1.1" fill="#8a8c8c"/>
<rect x="1255.1" y="280.27" width="3" height="1.1" fill="#8a8c8c"/>
<rect x="1261.6" y="280.42" width="2.2" height="1.1" fill="#8a8c8c"/>
<rect x="1267.3" y="280.54" width="3" height="1.1" fill="#8a8c8c"/>
<rect x="1276.3" y="280.75" width="3.6" height="1.1" fill="#8a8c8c"/>
<rect x="1281.4" y="280.86" width="2.2" height="1.1" fill="#8a8c8c"/>
<rect x="1289.6" y="281.05" width="2.2" height="1.1" fill="#8a8c8c"/>
<rect x="1293.3" y="281.13" width="3" height="1.1" fill="#8a8c8c"/>
<rect x="1297.8" y="281.23" width="2.2" height="1.1" fill="#8a8c8c"/>
<rect x="1303.5" y="281.36" width="3.6" height="1.1" fill="#8a8c8c"/>
<rect x="1308.6" y="281.47" width="3" height="1.1" fill="#8a8c8c"/>
<rect x="1313.1" y="281.57" width="3" height="1.1" fill="#8a8c8c"/>
<rect x="1319.6" y="281.72" width="3.6" height="1.1" fill="#8a8c8c"/>
<rect x="1324.7" y="281.83" width="2.2" height="1.1" fill="#8a8c8c"/>
<rect x="1332.9" y="282.02" width="3.6" height="1.1" fill="#8a8c8c"/>
<rect x="1338" y="282.13" width="3.6" height="1.1" fill="#8a8c8c"/>
<rect x="1347.6" y="282.35" width="3.6" height="1.1" fill="#8a8c8c"/>
<rect x="1354.7" y="282.51" width="3" height="1.1" fill="#8a8c8c"/>
<rect x="1363.7" y="282.71" width="3" height="1.1" fill="#8a8c8c"/>
<rect x="1368.2" y="282.81" width="3" height="1.1" fill="#8a8c8c"/>
<rect x="1377.2" y="283.01" width="3.6" height="1.1" fill="#8a8c8c"/>
<rect x="1386.8" y="283.23" width="2.2" height="1.1" fill="#8a8c8c"/>
<rect x="1390.5" y="283.31" width="3.6" height="1.1" fill="#8a8c8c"/>
<rect x="1400.1" y="283.53" width="3.6" height="1.1" fill="#8a8c8c"/>
<rect x="1407.2" y="283.69" width="3.6" height="1.1" fill="#8a8c8c"/>
<rect x="1416.8" y="283.9" width="3.6" height="1.1" fill="#8a8c8c"/>
<rect x="1421.9" y="284.02" width="3.6" height="1.1" fill="#8a8c8c"/>
<rect x="1431.5" y="284.23" width="3.6" height="1.1" fill="#8a8c8c"/>
<rect x="1436.6" y="284.35" width="3.6" height="1.1" fill="#8a8c8c"/>
<rect x="1446.2" y="284.56" width="3.6" height="1.1" fill="#8a8c8c"/>
<rect x="1455.8" y="284.78" width="3.6" height="1.1" fill="#8a8c8c"/>
<rect x="878" y="332" width="2.2" height="1.1" fill="#8a8c8c"/>
<rect x="881.7" y="332.12" width="2.2" height="1.1" fill="#8a8c8c"/>
<rect x="885.4" y="332.24" width="2.2" height="1.1" fill="#8a8c8c"/>
<rect x="893.6" y="332.5" width="3" height="1.1" fill="#8a8c8c"/>
<rect x="898.1" y="332.64" width="3" height="1.1" fill="#8a8c8c"/>
<rect x="904.6" y="332.85" width="3.6" height="1.1" fill="#8a8c8c"/>
<rect x="909.7" y="333.01" width="3.6" height="1.1" fill="#8a8c8c"/>
<rect x="914.8" y="333.17" width="3.6" height="1.1" fill="#8a8c8c"/>
<rect x="924.4" y="333.48" width="3.6" height="1.1" fill="#8a8c8c"/>
<rect x="929.5" y="333.64" width="3" height="1.1" fill="#8a8c8c"/>
<rect x="936" y="333.85" width="2.2" height="1.1" fill="#8a8c8c"/>
<rect x="941.7" y="334.03" width="2.2" height="1.1" fill="#8a8c8c"/>
<rect x="949.9" y="334.29" width="3.6" height="1.1" fill="#8a8c8c"/>
<rect x="959.5" y="334.6" width="2.2" height="1.1" fill="#8a8c8c"/>
<rect x="967.7" y="334.86" width="3.6" height="1.1" fill="#8a8c8c"/>
<rect x="972.8" y="335.02" width="3.6" height="1.1" fill="#8a8c8c"/>
<rect x="982.4" y="335.33" width="3" height="1.1" fill="#8a8c8c"/>
<rect x="988.9" y="335.54" width="2.2" height="1.1" fill="#8a8c8c"/>
<rect x="994.6" y="335.72" width="2.2" height="1.1" fill="#8a8c8c"/>
<rect x="1002.8" y="335.98" width="2.2" height="1.1" fill="#8a8c8c"/>
<rect x="1006.5" y="336.1" width="3.6" height="1.1" fill="#8a8c8c"/>
<rect x="1016.1" y="336.4" width="3" height="1.1" fill="#8a8c8c"/>
<rect x="1022.6" y="336.61" width="3" height="1.1" fill="#8a8c8c"/>
<rect x="1027.1" y="336.76" width="3" height="1.1" fill="#8a8c8c"/>
<rect x="1036.1" y="337.04" width="3" height="1.1" fill="#8a8c8c"/>
<rect x="1040.6" y="337.19" width="3.6" height="1.1" fill="#8a8c8c"/>
<rect x="1050.2" y="337.49" width="3.6" height="1.1" fill="#8a8c8c"/>
<rect x="1055.3" y="337.65" width="2.2" height="1.1" fill="#8a8c8c"/>
<rect x="1063.5" y="337.92" width="2.2" height="1.1" fill="#8a8c8c"/>
<rect x="1069.2" y="338.1" width="3" height="1.1" fill="#8a8c8c"/>
<rect x="1078.2" y="338.39" width="3.6" height="1.1" fill="#8a8c8c"/>
<rect x="1087.8" y="338.69" width="3" height="1.1" fill="#8a8c8c"/>
<rect x="1096.8" y="338.98" width="3.6" height="1.1" fill="#8a8c8c"/>
<rect x="1101.9" y="339.14" width="2.2" height="1.1" fill="#8a8c8c"/>
<rect x="1107.6" y="339.32" width="2.2" height="1.1" fill="#8a8c8c"/>
<rect x="1113.3" y="339.5" width="3" height="1.1" fill="#8a8c8c"/>
<rect x="1122.3" y="339.79" width="2.2" height="1.1" fill="#8a8c8c"/>
<rect x="1130.5" y="340.05" width="2.2" height="1.1" fill="#8a8c8c"/>
<rect x="1138.7" y="340.31" width="3" height="1.1" fill="#8a8c8c"/>
<rect x="1145.2" y="340.52" width="3.6" height="1.1" fill="#8a8c8c"/>
<rect x="1154.8" y="340.83" width="3" height="1.1" fill="#8a8c8c"/>
<rect x="1161.3" y="341.04" width="3" height="1.1" fill="#8a8c8c"/>
<rect x="1167.8" y="341.24" width="2.2" height="1.1" fill="#8a8c8c"/>
<rect x="1176" y="341.5" width="2.2" height="1.1" fill="#8a8c8c"/>
<rect x="1181.7" y="341.69" width="2.2" height="1.1" fill="#8a8c8c"/>
<rect x="1187.4" y="341.87" width="2.2" height="1.1" fill="#8a8c8c"/>
<rect x="1193.1" y="342.05" width="3" height="1.1" fill="#8a8c8c"/>
<rect x="1197.6" y="342.19" width="3.6" height="1.1" fill="#8a8c8c"/>
<rect x="1204.7" y="342.42" width="3" height="1.1" fill="#8a8c8c"/>
<rect x="1211.2" y="342.63" width="2.2" height="1.1" fill="#8a8c8c"/>
<rect x="1214.9" y="342.74" width="2.2" height="1.1" fill="#8a8c8c"/>
<rect x="1223.1" y="343.01" width="2.2" height="1.1" fill="#8a8c8c"/>
<rect x="1226.8" y="343.12" width="3.6" height="1.1" fill="#8a8c8c"/>
<rect x="1236.4" y="343.43" width="3" height="1.1" fill="#8a8c8c"/>
<rect x="1242.9" y="343.64" width="2.2" height="1.1" fill="#8a8c8c"/>
<rect x="1251.1" y="343.9" width="3.6" height="1.1" fill="#8a8c8c"/>
<rect x="1260.7" y="344.21" width="3" height="1.1" fill="#8a8c8c"/>
<rect x="1265.2" y="344.35" width="3.6" height="1.1" fill="#8a8c8c"/>
<rect x="1272.3" y="344.58" width="2.2" height="1.1" fill="#8a8c8c"/>
<rect x="1278" y="344.76" width="3" height="1.1" fill="#8a8c8c"/>
<rect x="1284.5" y="344.96" width="2.2" height="1.1" fill="#8a8c8c"/>
<rect x="1288.2" y="345.08" width="2.2" height="1.1" fill="#8a8c8c"/>
<rect x="1293.9" y="345.26" width="3.6" height="1.1" fill="#8a8c8c"/>
<rect x="1301" y="345.49" width="3" height="1.1" fill="#8a8c8c"/>
<rect x="1307.5" y="345.7" width="3.6" height="1.1" fill="#8a8c8c"/>
<rect x="1312.6" y="345.86" width="3" height="1.1" fill="#8a8c8c"/>
<rect x="1319.1" y="346.07" width="3" height="1.1" fill="#8a8c8c"/>
<rect x="1325.6" y="346.28" width="2.2" height="1.1" fill="#8a8c8c"/>
<rect x="1331.3" y="346.46" width="2.2" height="1.1" fill="#8a8c8c"/>
<rect x="1337" y="346.64" width="3" height="1.1" fill="#8a8c8c"/>
<rect x="1343.5" y="346.85" width="2.2" height="1.1" fill="#8a8c8c"/>
<rect x="1347.2" y="346.96" width="3.6" height="1.1" fill="#8a8c8c"/>
<rect x="1352.3" y="347.13" width="3.6" height="1.1" fill="#8a8c8c"/>
<rect x="1359.4" y="347.35" width="3" height="1.1" fill="#8a8c8c"/>
<rect x="1365.9" y="347.56" width="2.2" height="1.1" fill="#8a8c8c"/>
<rect x="1371.6" y="347.74" width="3" height="1.1" fill="#8a8c8c"/>
<rect x="1380.6" y="348.03" width="2.2" height="1.1" fill="#8a8c8c"/>
<rect x="1386.3" y="348.21" width="3" height="1.1" fill="#8a8c8c"/>
<rect x="1392.8" y="348.42" width="2.2" height="1.1" fill="#8a8c8c"/>
<rect x="1398.5" y="348.6" width="2.2" height="1.1" fill="#8a8c8c"/>
<rect x="1402.2" y="348.72" width="3.6" height="1.1" fill="#8a8c8c"/>
<rect x="1409.3" y="348.95" width="3.6" height="1.1" fill="#8a8c8c"/>
<rect x="1414.4" y="349.11" width="2.2" height="1.1" fill="#8a8c8c"/>
<rect x="1420.1" y="349.29" width="3" height="1.1" fill="#8a8c8c"/>
<rect x="1429.1" y="349.58" width="3" height="1.1" fill="#8a8c8c"/>
<rect x="1433.6" y="349.72" width="3" height="1.1" fill="#8a8c8c"/>
<rect x="1440.1" y="349.93" width="2.2" height="1.1" fill="#8a8c8c"/>
<rect x="1448.3" y="350.19" width="3" height="1.1" fill="#8a8c8c"/>
<rect x="1457.3" y="350.48" width="3.6" height="1.1" fill="#8a8c8c"/>
<rect x="1462.4" y="350.64" width="3.6" height="1.1" fill="#8a8c8c"/>
<rect x="1176" y="259.6" width="11.4" height="0.9" fill="#9a9c9c"/>
<rect x="1195" y="259.93" width="11.4" height="0.9" fill="#9a9c9c"/>
<rect x="1214" y="260.27" width="11.4" height="0.9" fill="#9a9c9c"/>
<rect x="1233" y="260.6" width="11.4" height="0.9" fill="#9a9c9c"/>
<rect x="1229" y="329.8" width="15" height="0.9" fill="#9a9c9c"/>
<rect x="1254" y="330.36" width="15" height="0.9" fill="#9a9c9c"/>
<rect x="1279" y="330.92" width="15" height="0.9" fill="#9a9c9c"/>
<rect x="1304" y="331.48" width="15" height="0.9" fill="#9a9c9c"/>
<rect x="1133" y="390.2" width="15" height="0.9" fill="#9a9c9c"/>
<rect x="1158" y="391" width="15" height="0.9" fill="#9a9c9c"/>
<rect x="1183" y="391.79" width="15" height="0.9" fill="#9a9c9c"/>
<rect x="1208" y="392.59" width="15" height="0.9" fill="#9a9c9c"/>
<rect x="600" y="528" width="60" height="0.9" fill="#9fa1a1"/>
<rect x="1270" y="732" width="70" height="0.9" fill="#b0b2b2"/>
<rect x="600" y="733" width="70" height="0.9" fill="#b0b2b2"/></svg>
<div class="lbl" style="left:345.5px;top:367.3px;transform:scaleX(0.857)">C5000-32QFP</div>
<div class="lbl" style="left:345.3px;top:595.3px;transform:scaleX(0.844)">C5000-48XGT</div>
<div class="lbl" style="left:1044.3px;top:595.8px;transform:scaleX(0.845)">C5000-48XQE</div>
</body></html>
